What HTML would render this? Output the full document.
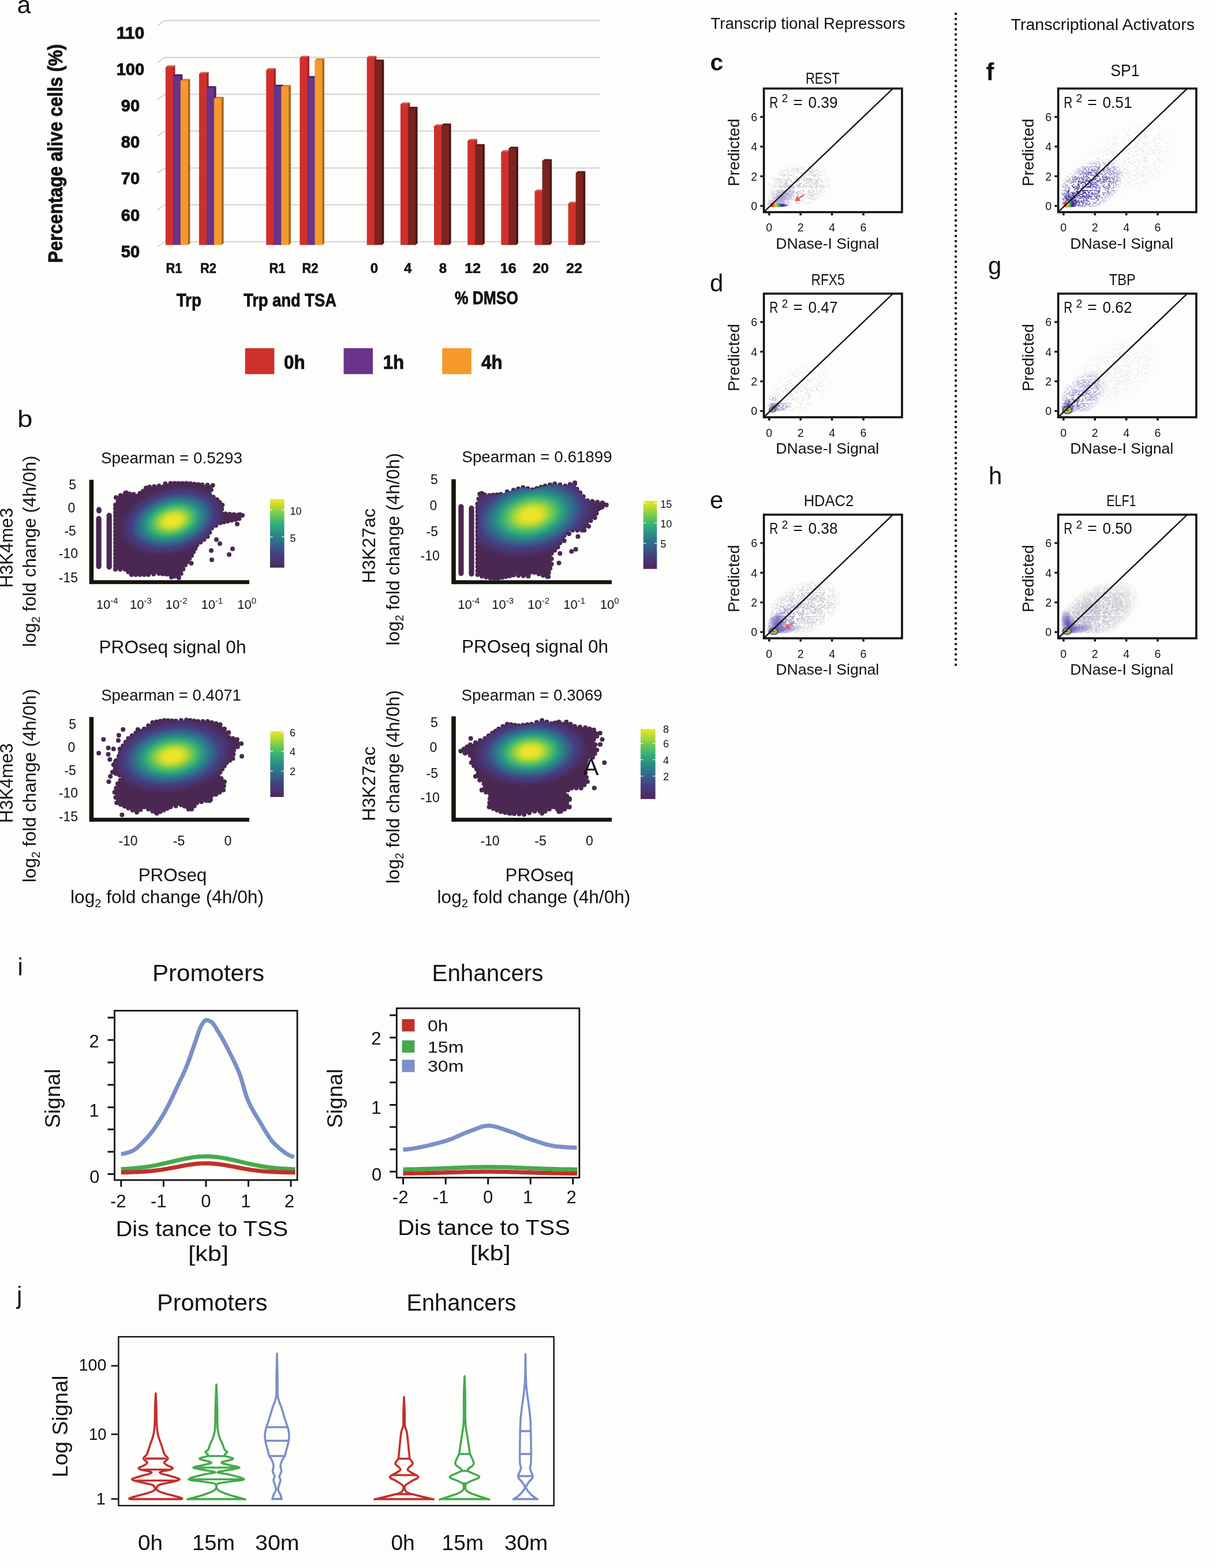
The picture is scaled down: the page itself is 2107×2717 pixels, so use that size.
<!DOCTYPE html>
<html><head><meta charset="utf-8"><title>Figure</title><style>html,body{margin:0;padding:0;overflow:hidden;background:#fdfdfb;}svg{display:block;}</style></head><body><svg width="2107" height="2717" viewBox="0 0 2107 2717" font-family="'Liberation Sans', Arial, sans-serif" fill="#111"><rect width="2107" height="2717" fill="#fdfdfb"/><text x="29.5" y="22.7" font-size="43">a</text>
<path d="M272.7,44.6 L285.5,35.7 L1040.6,35.7" fill="none" stroke="#d6d6d6" stroke-width="2.2"/>
<path d="M272.7,108.5 L285.5,99.6 L1040.6,99.6" fill="none" stroke="#d6d6d6" stroke-width="2.2"/>
<path d="M272.7,172.3 L285.5,163.4 L1040.6,163.4" fill="none" stroke="#d6d6d6" stroke-width="2.2"/>
<path d="M272.7,236.2 L285.5,227.2 L1040.6,227.2" fill="none" stroke="#d6d6d6" stroke-width="2.2"/>
<path d="M272.7,300.0 L285.5,291.1 L1040.6,291.1" fill="none" stroke="#d6d6d6" stroke-width="2.2"/>
<path d="M272.7,363.8 L285.5,354.9 L1040.6,354.9" fill="none" stroke="#d6d6d6" stroke-width="2.2"/>
<path d="M272.7,427.7 L285.5,418.8 L1040.6,418.8" fill="none" stroke="#d6d6d6" stroke-width="2.2"/>
<text x="226.0" y="66.6" font-size="29.5" text-anchor="middle" font-weight="bold" textLength="48.7" lengthAdjust="spacingAndGlyphs" stroke="#111" stroke-width="0.9">110</text>
<text x="226.0" y="129.8" font-size="29.5" text-anchor="middle" font-weight="bold" textLength="48.7" lengthAdjust="spacingAndGlyphs" stroke="#111" stroke-width="0.9">100</text>
<text x="226.0" y="193.0" font-size="29.5" text-anchor="middle" font-weight="bold" textLength="32.4" lengthAdjust="spacingAndGlyphs" stroke="#111" stroke-width="0.9">90</text>
<text x="226.0" y="256.2" font-size="29.5" text-anchor="middle" font-weight="bold" textLength="32.4" lengthAdjust="spacingAndGlyphs" stroke="#111" stroke-width="0.9">80</text>
<text x="226.0" y="319.4" font-size="29.5" text-anchor="middle" font-weight="bold" textLength="32.4" lengthAdjust="spacingAndGlyphs" stroke="#111" stroke-width="0.9">70</text>
<text x="226.0" y="382.6" font-size="29.5" text-anchor="middle" font-weight="bold" textLength="32.4" lengthAdjust="spacingAndGlyphs" stroke="#111" stroke-width="0.9">60</text>
<text x="226.0" y="445.8" font-size="29.5" text-anchor="middle" font-weight="bold" textLength="32.4" lengthAdjust="spacingAndGlyphs" stroke="#111" stroke-width="0.9">50</text>
<text x="107.6" y="455.4" font-size="35" font-weight="bold" textLength="379.0" lengthAdjust="spacingAndGlyphs" stroke="#111" stroke-width="0.9" transform="rotate(-90 107.6 455.4)">Percentage alive cells (%)</text>
<path d="M298.6,116.1 L299.8,116.1 L303.4,113.3 L303.4,421.7 L299.8,424.5 L298.6,424.5 Z" fill="#a52620"/>
<path d="M286.8,116.7 L290.4,113.3 L303.4,113.3 L299.8,116.7 Z" fill="#cf5a50"/>
<rect x="286.8" y="116.1" width="13.0" height="308.4" fill="#d0302a"/>
<path d="M311.6,131.6 L312.8,131.6 L316.4,128.8 L316.4,421.7 L312.8,424.5 L311.6,424.5 Z" fill="#4b2164"/>
<path d="M299.8,132.2 L303.4,128.8 L316.4,128.8 L312.8,132.2 Z" fill="#4a1f68"/>
<rect x="299.8" y="131.6" width="13.0" height="292.9" fill="#6a3488"/>
<path d="M324.6,139.6 L325.8,139.6 L329.4,136.8 L329.4,421.7 L325.8,424.5 L324.6,424.5 Z" fill="#a9671f"/>
<path d="M312.8,140.2 L316.4,136.8 L329.4,136.8 L325.8,140.2 Z" fill="#d0801f"/>
<rect x="312.8" y="139.6" width="13.0" height="284.9" fill="#f49a2d"/>
<path d="M356.8,127.6 L357.9,127.6 L361.6,124.8 L361.6,421.7 L357.9,424.5 L356.8,424.5 Z" fill="#a52620"/>
<path d="M344.9,128.2 L348.6,124.8 L361.6,124.8 L357.9,128.2 Z" fill="#cf5a50"/>
<rect x="344.9" y="127.6" width="13.0" height="296.9" fill="#d0302a"/>
<path d="M369.8,152.0 L370.9,152.0 L374.6,149.2 L374.6,421.7 L370.9,424.5 L369.8,424.5 Z" fill="#4b2164"/>
<path d="M357.9,152.6 L361.6,149.2 L374.6,149.2 L370.9,152.6 Z" fill="#4a1f68"/>
<rect x="357.9" y="152.0" width="13.0" height="272.5" fill="#6a3488"/>
<path d="M382.8,170.6 L383.9,170.6 L387.6,167.8 L387.6,421.7 L383.9,424.5 L382.8,424.5 Z" fill="#a9671f"/>
<path d="M370.9,171.2 L374.6,167.8 L387.6,167.8 L383.9,171.2 Z" fill="#d0801f"/>
<rect x="370.9" y="170.6" width="13.0" height="253.9" fill="#f49a2d"/>
<path d="M473.1,120.9 L474.2,120.9 L477.9,118.1 L477.9,421.7 L474.2,424.5 L473.1,424.5 Z" fill="#a52620"/>
<path d="M461.2,121.5 L464.9,118.1 L477.9,118.1 L474.2,121.5 Z" fill="#cf5a50"/>
<rect x="461.2" y="120.9" width="13.0" height="303.6" fill="#d0302a"/>
<path d="M486.1,149.5 L487.2,149.5 L490.9,146.7 L490.9,421.7 L487.2,424.5 L486.1,424.5 Z" fill="#4b2164"/>
<path d="M474.2,150.1 L477.9,146.7 L490.9,146.7 L487.2,150.1 Z" fill="#4a1f68"/>
<rect x="474.2" y="149.5" width="13.0" height="275.0" fill="#6a3488"/>
<path d="M499.1,150.0 L500.2,150.0 L503.9,147.2 L503.9,421.7 L500.2,424.5 L499.1,424.5 Z" fill="#a9671f"/>
<path d="M487.2,150.6 L490.9,147.2 L503.9,147.2 L500.2,150.6 Z" fill="#d0801f"/>
<rect x="487.2" y="150.0" width="13.0" height="274.5" fill="#f49a2d"/>
<path d="M531.2,99.5 L532.4,99.5 L536.0,96.7 L536.0,421.7 L532.4,424.5 L531.2,424.5 Z" fill="#a52620"/>
<path d="M519.4,100.1 L523.0,96.7 L536.0,96.7 L532.4,100.1 Z" fill="#cf5a50"/>
<rect x="519.4" y="99.5" width="13.0" height="325.0" fill="#d0302a"/>
<path d="M544.2,134.5 L545.4,134.5 L549.0,131.7 L549.0,421.7 L545.4,424.5 L544.2,424.5 Z" fill="#4b2164"/>
<path d="M532.4,135.1 L536.0,131.7 L549.0,131.7 L545.4,135.1 Z" fill="#4a1f68"/>
<rect x="532.4" y="134.5" width="13.0" height="290.0" fill="#6a3488"/>
<path d="M557.2,104.0 L558.4,104.0 L562.0,101.2 L562.0,421.7 L558.4,424.5 L557.2,424.5 Z" fill="#a9671f"/>
<path d="M545.4,104.6 L549.0,101.2 L562.0,101.2 L558.4,104.6 Z" fill="#d0801f"/>
<rect x="545.4" y="104.0" width="13.0" height="320.5" fill="#f49a2d"/>
<path d="M647.5,99.5 L648.7,99.5 L652.3,96.7 L652.3,421.7 L648.7,424.5 L647.5,424.5 Z" fill="#a52620"/>
<path d="M635.7,100.1 L639.3,96.7 L652.3,96.7 L648.7,100.1 Z" fill="#cf5a50"/>
<rect x="635.7" y="99.5" width="13.0" height="325.0" fill="#d0302a"/>
<path d="M660.5,106.0 L661.7,106.0 L665.3,103.2 L665.3,421.7 L661.7,424.5 L660.5,424.5 Z" fill="#4b1513"/>
<path d="M648.7,106.6 L652.3,103.2 L665.3,103.2 L661.7,106.6 Z" fill="#57181a"/>
<rect x="648.7" y="106.0" width="13.0" height="318.5" fill="#7a2420"/>
<path d="M705.6,180.2 L706.9,180.2 L710.5,177.4 L710.5,421.7 L706.9,424.5 L705.6,424.5 Z" fill="#a52620"/>
<path d="M693.9,180.8 L697.5,177.4 L710.5,177.4 L706.9,180.8 Z" fill="#cf5a50"/>
<rect x="693.9" y="180.2" width="13.0" height="244.3" fill="#d0302a"/>
<path d="M718.6,187.7 L719.9,187.7 L723.5,184.9 L723.5,421.7 L719.9,424.5 L718.6,424.5 Z" fill="#4b1513"/>
<path d="M706.9,188.3 L710.5,184.9 L723.5,184.9 L719.9,188.3 Z" fill="#57181a"/>
<rect x="706.9" y="187.7" width="13.0" height="236.8" fill="#7a2420"/>
<path d="M763.8,218.2 L765.0,218.2 L768.6,215.4 L768.6,421.7 L765.0,424.5 L763.8,424.5 Z" fill="#a52620"/>
<path d="M752.0,218.8 L755.6,215.4 L768.6,215.4 L765.0,218.8 Z" fill="#cf5a50"/>
<rect x="752.0" y="218.2" width="13.0" height="206.3" fill="#d0302a"/>
<path d="M776.8,216.9 L778.0,216.9 L781.6,214.1 L781.6,421.7 L778.0,424.5 L776.8,424.5 Z" fill="#4b1513"/>
<path d="M765.0,217.5 L768.6,214.1 L781.6,214.1 L778.0,217.5 Z" fill="#57181a"/>
<rect x="765.0" y="216.9" width="13.0" height="207.6" fill="#7a2420"/>
<path d="M822.0,243.5 L823.2,243.5 L826.8,240.7 L826.8,421.7 L823.2,424.5 L822.0,424.5 Z" fill="#a52620"/>
<path d="M810.2,244.1 L813.8,240.7 L826.8,240.7 L823.2,244.1 Z" fill="#cf5a50"/>
<rect x="810.2" y="243.5" width="13.0" height="181.0" fill="#d0302a"/>
<path d="M835.0,252.6 L836.2,252.6 L839.8,249.8 L839.8,421.7 L836.2,424.5 L835.0,424.5 Z" fill="#4b1513"/>
<path d="M823.2,253.2 L826.8,249.8 L839.8,249.8 L836.2,253.2 Z" fill="#57181a"/>
<rect x="823.2" y="252.6" width="13.0" height="171.9" fill="#7a2420"/>
<path d="M880.1,263.0 L881.3,263.0 L884.9,260.2 L884.9,421.7 L881.3,424.5 L880.1,424.5 Z" fill="#a52620"/>
<path d="M868.3,263.6 L871.9,260.2 L884.9,260.2 L881.3,263.6 Z" fill="#cf5a50"/>
<rect x="868.3" y="263.0" width="13.0" height="161.5" fill="#d0302a"/>
<path d="M893.1,257.0 L894.3,257.0 L897.9,254.2 L897.9,421.7 L894.3,424.5 L893.1,424.5 Z" fill="#4b1513"/>
<path d="M881.3,257.6 L884.9,254.2 L897.9,254.2 L894.3,257.6 Z" fill="#57181a"/>
<rect x="881.3" y="257.0" width="13.0" height="167.5" fill="#7a2420"/>
<path d="M938.2,331.2 L939.5,331.2 L943.1,328.4 L943.1,421.7 L939.5,424.5 L938.2,424.5 Z" fill="#a52620"/>
<path d="M926.5,331.8 L930.1,328.4 L943.1,328.4 L939.5,331.8 Z" fill="#cf5a50"/>
<rect x="926.5" y="331.2" width="13.0" height="93.3" fill="#d0302a"/>
<path d="M951.2,278.6 L952.5,278.6 L956.1,275.8 L956.1,421.7 L952.5,424.5 L951.2,424.5 Z" fill="#4b1513"/>
<path d="M939.5,279.2 L943.1,275.8 L956.1,275.8 L952.5,279.2 Z" fill="#57181a"/>
<rect x="939.5" y="278.6" width="13.0" height="145.9" fill="#7a2420"/>
<path d="M996.4,352.3 L997.6,352.3 L1001.2,349.5 L1001.2,421.7 L997.6,424.5 L996.4,424.5 Z" fill="#a52620"/>
<path d="M984.6,352.9 L988.2,349.5 L1001.2,349.5 L997.6,352.9 Z" fill="#cf5a50"/>
<rect x="984.6" y="352.3" width="13.0" height="72.2" fill="#d0302a"/>
<path d="M1009.4,299.4 L1010.6,299.4 L1014.2,296.6 L1014.2,421.7 L1010.6,424.5 L1009.4,424.5 Z" fill="#4b1513"/>
<path d="M997.6,300.0 L1001.2,296.6 L1014.2,296.6 L1010.6,300.0 Z" fill="#57181a"/>
<rect x="997.6" y="299.4" width="13.0" height="125.1" fill="#7a2420"/>
<text x="301.5" y="473.4" font-size="24" text-anchor="middle" font-weight="bold" textLength="28.0" lengthAdjust="spacingAndGlyphs" stroke="#111" stroke-width="0.6">R1</text>
<text x="361.0" y="473.4" font-size="24" text-anchor="middle" font-weight="bold" textLength="28.0" lengthAdjust="spacingAndGlyphs" stroke="#111" stroke-width="0.6">R2</text>
<text x="480.5" y="473.4" font-size="24" text-anchor="middle" font-weight="bold" textLength="28.0" lengthAdjust="spacingAndGlyphs" stroke="#111" stroke-width="0.6">R1</text>
<text x="537.5" y="473.4" font-size="24" text-anchor="middle" font-weight="bold" textLength="28.0" lengthAdjust="spacingAndGlyphs" stroke="#111" stroke-width="0.6">R2</text>
<text x="648.5" y="473.4" font-size="24" text-anchor="middle" font-weight="bold" stroke="#111" stroke-width="0.6">0</text>
<text x="706.7" y="473.4" font-size="24" text-anchor="middle" font-weight="bold" stroke="#111" stroke-width="0.6">4</text>
<text x="767.5" y="473.4" font-size="24" text-anchor="middle" font-weight="bold" stroke="#111" stroke-width="0.6">8</text>
<text x="819.0" y="473.4" font-size="24" text-anchor="middle" font-weight="bold" textLength="28.0" lengthAdjust="spacingAndGlyphs" stroke="#111" stroke-width="0.6">12</text>
<text x="880.8" y="473.4" font-size="24" text-anchor="middle" font-weight="bold" textLength="28.0" lengthAdjust="spacingAndGlyphs" stroke="#111" stroke-width="0.6">16</text>
<text x="937.0" y="473.4" font-size="24" text-anchor="middle" font-weight="bold" textLength="28.0" lengthAdjust="spacingAndGlyphs" stroke="#111" stroke-width="0.6">20</text>
<text x="995.0" y="473.4" font-size="24" text-anchor="middle" font-weight="bold" textLength="28.0" lengthAdjust="spacingAndGlyphs" stroke="#111" stroke-width="0.6">22</text>
<text x="327.3" y="530.6" font-size="31" text-anchor="middle" font-weight="bold" textLength="43.3" lengthAdjust="spacingAndGlyphs" stroke="#111" stroke-width="0.8">Trp</text>
<text x="502.5" y="530.6" font-size="31" text-anchor="middle" font-weight="bold" textLength="161.0" lengthAdjust="spacingAndGlyphs" stroke="#111" stroke-width="0.8">Trp and TSA</text>
<text x="843.0" y="526.5" font-size="31" text-anchor="middle" font-weight="bold" textLength="110.0" lengthAdjust="spacingAndGlyphs" stroke="#111" stroke-width="0.8">% DMSO</text>
<rect x="424.7" y="603.3" width="50.6" height="45.0" fill="#d0302a"/>
<text x="492.0" y="638.7" font-size="33" font-weight="bold" textLength="36.5" lengthAdjust="spacingAndGlyphs" stroke="#111" stroke-width="0.9">0h</text>
<rect x="595.5" y="603.3" width="50.6" height="45.0" fill="#6a3488"/>
<text x="663.7" y="638.7" font-size="33" font-weight="bold" textLength="36.5" lengthAdjust="spacingAndGlyphs" stroke="#111" stroke-width="0.9">1h</text>
<rect x="766.2" y="603.3" width="50.6" height="45.0" fill="#f49a2d"/>
<text x="834.0" y="638.7" font-size="33" font-weight="bold" textLength="36.5" lengthAdjust="spacingAndGlyphs" stroke="#111" stroke-width="0.9">4h</text>
<text x="30.0" y="740.0" font-size="41" textLength="26.5" lengthAdjust="spacingAndGlyphs">b</text>
<text x="297.5" y="802.6" font-size="27.8" text-anchor="middle" textLength="245.0" lengthAdjust="spacingAndGlyphs">Spearman = 0.5293</text>
<text x="61.5" y="1121.0" font-size="31.5" transform="rotate(-90 61.5 1121.0)" textLength="331.4" lengthAdjust="spacingAndGlyphs">log<tspan font-size="20" dy="7">2</tspan><tspan dy="-7"> fold change (4h/0h)</tspan></text>
<text x="22.3" y="1018.5" font-size="31.5" textLength="138.5" lengthAdjust="spacingAndGlyphs" transform="rotate(-90 22.3 1018.5)">H3K4me3</text>
<text x="119.2" y="848.4" font-size="23">5</text>
<text x="117.4" y="888.4" font-size="23">0</text>
<text x="111.4" y="928.2" font-size="23">-5</text>
<text x="101.8" y="967.4" font-size="23">-10</text>
<text x="101.8" y="1008.5" font-size="23">-15</text>
<text x="166.8" y="1054.8" font-size="22">10<tspan font-size="15.0" dy="-9">-4</tspan></text>
<text x="225.1" y="1054.8" font-size="22">10<tspan font-size="15.0" dy="-9">-3</tspan></text>
<text x="286.8" y="1054.8" font-size="22">10<tspan font-size="15.0" dy="-9">-2</tspan></text>
<text x="348.4" y="1054.8" font-size="22">10<tspan font-size="15.0" dy="-9">-1</tspan></text>
<text x="411.2" y="1054.8" font-size="22">10<tspan font-size="15.0" dy="-9">0</tspan></text>
<text x="171.5" y="1132.2" font-size="31.5" textLength="255.0" lengthAdjust="spacingAndGlyphs">PROseq signal 0h</text>
<rect x="154.6" y="831.4" width="7.6" height="180.7" fill="#151510"/>
<rect x="158.2" y="1005.3" width="273.7" height="6.8" fill="#151510"/>
<defs><radialGradient id="vg1" gradientUnits="userSpaceOnUse" cx="0" cy="0" r="1" gradientTransform="translate(299.0 902.0) rotate(-15) scale(95 59)"><stop offset="0.00" stop-color="#f2e42a"/><stop offset="0.12" stop-color="#eae32b"/><stop offset="0.20" stop-color="#c7dd2f"/><stop offset="0.27" stop-color="#96d242"/><stop offset="0.33" stop-color="#69c659"/><stop offset="0.42" stop-color="#3aaf75"/><stop offset="0.50" stop-color="#2a9483"/><stop offset="0.59" stop-color="#2d7689"/><stop offset="0.68" stop-color="#3a5a8a"/><stop offset="0.77" stop-color="#433f80"/><stop offset="0.85" stop-color="#493673"/><stop offset="0.93" stop-color="#4a2e61"/><stop offset="1.00" stop-color="#4a2852"/></radialGradient></defs>
<rect x="166.5" y="894.1" width="9.2" height="92.1" rx="4.6" fill="#4a2852"/>
<rect x="184.6" y="888.4" width="9.2" height="98.7" rx="4.6" fill="#4a2852"/>
<g fill="#4a2852"><circle cx="200.0" cy="874.9" r="4.0"/><circle cx="201.0" cy="862.0" r="4.0"/><circle cx="208.9" cy="858.4" r="4.0"/><circle cx="216.8" cy="854.8" r="4.0"/><circle cx="224.2" cy="855.7" r="4.0"/><circle cx="231.5" cy="856.6" r="4.0"/><circle cx="242.5" cy="854.8" r="4.0"/><circle cx="248.0" cy="851.1" r="4.0"/><circle cx="253.5" cy="847.5" r="4.0"/><circle cx="259.0" cy="843.8" r="4.0"/><circle cx="267.2" cy="842.9" r="4.0"/><circle cx="275.4" cy="842.0" r="4.0"/><circle cx="286.4" cy="838.3" r="4.0"/><circle cx="295.5" cy="837.4" r="4.0"/><circle cx="302.4" cy="837.4" r="4.0"/><circle cx="309.2" cy="837.4" r="4.0"/><circle cx="316.1" cy="837.4" r="4.0"/><circle cx="323.0" cy="837.4" r="4.0"/><circle cx="329.9" cy="838.0" r="4.0"/><circle cx="336.7" cy="838.7" r="4.0"/><circle cx="343.5" cy="839.4" r="4.0"/><circle cx="350.4" cy="840.0" r="4.0"/><circle cx="359.5" cy="840.5" r="4.0"/><circle cx="368.7" cy="841.0" r="4.0"/><circle cx="365.9" cy="848.8" r="4.0"/><circle cx="363.2" cy="856.6" r="4.0"/><circle cx="369.6" cy="861.2" r="4.0"/><circle cx="376.0" cy="865.7" r="4.0"/><circle cx="380.6" cy="870.4" r="4.0"/><circle cx="385.2" cy="875.0" r="4.0"/><circle cx="384.3" cy="882.2" r="4.0"/><circle cx="383.4" cy="889.5" r="4.0"/><circle cx="390.7" cy="890.2" r="4.0"/><circle cx="398.0" cy="890.9" r="4.0"/><circle cx="405.4" cy="891.6" r="4.0"/><circle cx="412.7" cy="892.3" r="4.0"/><circle cx="420.0" cy="893.0" r="4.0"/><circle cx="414.5" cy="898.7" r="4.0"/><circle cx="407.9" cy="900.2" r="4.0"/><circle cx="401.3" cy="901.6" r="4.0"/><circle cx="394.7" cy="903.1" r="4.0"/><circle cx="388.1" cy="904.5" r="4.0"/><circle cx="381.5" cy="906.0" r="4.0"/><circle cx="374.2" cy="910.5" r="4.0"/><circle cx="367.0" cy="915.0" r="4.0"/><circle cx="363.3" cy="922.4" r="4.0"/><circle cx="359.6" cy="929.8" r="4.0"/><circle cx="353.5" cy="934.7" r="4.0"/><circle cx="347.4" cy="939.5" r="4.0"/><circle cx="341.3" cy="944.4" r="4.0"/><circle cx="338.2" cy="950.5" r="4.0"/><circle cx="335.1" cy="956.6" r="4.0"/><circle cx="332.0" cy="962.7" r="4.0"/><circle cx="328.3" cy="968.1" r="4.0"/><circle cx="324.7" cy="973.6" r="4.0"/><circle cx="321.0" cy="979.0" r="4.0"/><circle cx="317.3" cy="986.3" r="4.0"/><circle cx="313.7" cy="993.7" r="4.0"/><circle cx="310.0" cy="1001.0" r="4.0"/><circle cx="302.8" cy="998.4" r="4.0"/><circle cx="295.5" cy="995.7" r="4.0"/><circle cx="288.8" cy="995.1" r="4.0"/><circle cx="282.1" cy="994.4" r="4.0"/><circle cx="275.4" cy="993.8" r="4.0"/><circle cx="266.2" cy="994.8" r="4.0"/><circle cx="257.1" cy="995.7" r="4.0"/><circle cx="249.8" cy="995.7" r="4.0"/><circle cx="242.5" cy="995.7" r="4.0"/><circle cx="235.1" cy="995.7" r="4.0"/><circle cx="227.8" cy="995.7" r="4.0"/><circle cx="222.3" cy="991.1" r="4.0"/><circle cx="216.8" cy="986.5" r="4.0"/><circle cx="208.4" cy="986.5" r="4.0"/><circle cx="200.0" cy="986.5" r="4.0"/><circle cx="200.0" cy="979.9" r="4.0"/><circle cx="200.0" cy="973.4" r="4.0"/><circle cx="200.0" cy="966.8" r="4.0"/><circle cx="200.0" cy="960.2" r="4.0"/><circle cx="200.0" cy="953.7" r="4.0"/><circle cx="200.0" cy="947.1" r="4.0"/><circle cx="200.0" cy="940.5" r="4.0"/><circle cx="200.0" cy="934.0" r="4.0"/><circle cx="200.0" cy="927.4" r="4.0"/><circle cx="200.0" cy="920.9" r="4.0"/><circle cx="200.0" cy="914.3" r="4.0"/><circle cx="200.0" cy="907.7" r="4.0"/><circle cx="200.0" cy="901.2" r="4.0"/><circle cx="200.0" cy="894.6" r="4.0"/><circle cx="200.0" cy="888.0" r="4.0"/><circle cx="200.0" cy="881.5" r="4.0"/><circle cx="218.6" cy="853.8" r="4.0"/><circle cx="253.0" cy="845.5" r="4.0"/><circle cx="415.9" cy="891.6" r="4.0"/><circle cx="411.0" cy="908.0" r="4.0"/><circle cx="396.0" cy="900.0" r="4.0"/><circle cx="375.0" cy="935.0" r="4.0"/><circle cx="381.0" cy="942.0" r="4.0"/><circle cx="403.0" cy="951.0" r="4.0"/><circle cx="397.0" cy="961.0" r="4.0"/><circle cx="366.0" cy="954.0" r="4.0"/><circle cx="367.0" cy="970.0" r="4.0"/><circle cx="331.5" cy="976.0" r="4.0"/><circle cx="297.0" cy="1000.0" r="4.0"/><circle cx="366.7" cy="890.0" r="4.0"/><circle cx="408.0" cy="895.0" r="4.0"/></g>
<path d="M200.0,874.9 L201.0,862.0 L216.8,854.8 L231.5,856.6 L242.5,854.8 L259.0,843.8 L275.4,842.0 L286.4,838.3 L295.5,837.4 L323.0,837.4 L350.4,840.0 L368.7,841.0 L363.2,856.6 L376.0,865.7 L385.2,875.0 L383.4,889.5 L420.0,893.0 L414.5,898.7 L381.5,906.0 L367.0,915.0 L359.6,929.8 L341.3,944.4 L332.0,962.7 L321.0,979.0 L310.0,1001.0 L295.5,995.7 L275.4,993.8 L257.1,995.7 L227.8,995.7 L216.8,986.5 L200.0,986.5 Z" fill="url(#vg1)"/>
<rect x="167.0" y="878.6" width="9.0" height="10.9" fill="#4a2852" rx="4.5"/>
<defs><linearGradient id="cb2" x1="0" y1="0" x2="0" y2="1"><stop offset="0.00" stop-color="#f2e42a"/><stop offset="0.10" stop-color="#bcdb30"/><stop offset="0.20" stop-color="#7dcc4e"/><stop offset="0.30" stop-color="#4bbc69"/><stop offset="0.40" stop-color="#2ea67d"/><stop offset="0.50" stop-color="#288d86"/><stop offset="0.60" stop-color="#2e7489"/><stop offset="0.70" stop-color="#3a5a8a"/><stop offset="0.80" stop-color="#433f80"/><stop offset="0.90" stop-color="#4b3470"/><stop offset="1.00" stop-color="#4a2852"/></linearGradient></defs>
<rect x="467.9" y="864.8" width="24.7" height="118.8" fill="url(#cb2)"/>
<line x1="467.9" y1="883.6" x2="472.4" y2="883.6" stroke="#ffffff" stroke-width="1.2"/>
<line x1="488.1" y1="883.6" x2="492.6" y2="883.6" stroke="#ffffff" stroke-width="1.2"/>
<text x="502.6" y="891.9" font-size="18">10</text>
<line x1="467.9" y1="930.3" x2="472.4" y2="930.3" stroke="#ffffff" stroke-width="1.2"/>
<line x1="488.1" y1="930.3" x2="492.6" y2="930.3" stroke="#ffffff" stroke-width="1.2"/>
<text x="502.6" y="938.6" font-size="18">5</text>
<text x="930.5" y="801.3" font-size="27.8" text-anchor="middle" textLength="260.3" lengthAdjust="spacingAndGlyphs">Spearman = 0.61899</text>
<text x="692.0" y="1118.6" font-size="31.5" transform="rotate(-90 692.0 1118.6)" textLength="333.6" lengthAdjust="spacingAndGlyphs">log<tspan font-size="20" dy="7">2</tspan><tspan dy="-7"> fold change (4h/0h)</tspan></text>
<text x="649.6" y="1010.6" font-size="31.5" textLength="129.6" lengthAdjust="spacingAndGlyphs" transform="rotate(-90 649.6 1010.6)">H3K27ac</text>
<text x="746.0" y="839.0" font-size="23">5</text>
<text x="744.5" y="883.7" font-size="23">0</text>
<text x="738.5" y="928.7" font-size="23">-5</text>
<text x="728.5" y="970.7" font-size="23">-10</text>
<text x="793.3" y="1054.8" font-size="22">10<tspan font-size="15.0" dy="-9">-4</tspan></text>
<text x="852.3" y="1054.8" font-size="22">10<tspan font-size="15.0" dy="-9">-3</tspan></text>
<text x="914.3" y="1054.8" font-size="22">10<tspan font-size="15.0" dy="-9">-2</tspan></text>
<text x="976.3" y="1054.8" font-size="22">10<tspan font-size="15.0" dy="-9">-1</tspan></text>
<text x="1039.8" y="1054.8" font-size="22">10<tspan font-size="15.0" dy="-9">0</tspan></text>
<text x="800.0" y="1130.6" font-size="31.5" textLength="254.0" lengthAdjust="spacingAndGlyphs">PROseq signal 0h</text>
<rect x="782.2" y="830.4" width="7.6" height="181.8" fill="#151510"/>
<rect x="785.8" y="1005.4" width="274.2" height="6.8" fill="#151510"/>
<defs><radialGradient id="vg3" gradientUnits="userSpaceOnUse" cx="0" cy="0" r="1" gradientTransform="translate(920.0 892.5) rotate(-12) scale(118 72)"><stop offset="0.00" stop-color="#f2e42a"/><stop offset="0.12" stop-color="#eae32b"/><stop offset="0.20" stop-color="#c7dd2f"/><stop offset="0.27" stop-color="#96d242"/><stop offset="0.33" stop-color="#69c659"/><stop offset="0.42" stop-color="#3aaf75"/><stop offset="0.50" stop-color="#2a9483"/><stop offset="0.59" stop-color="#2d7689"/><stop offset="0.68" stop-color="#3a5a8a"/><stop offset="0.77" stop-color="#433f80"/><stop offset="0.85" stop-color="#493673"/><stop offset="0.93" stop-color="#4a2e61"/><stop offset="1.00" stop-color="#4a2852"/></radialGradient></defs>
<rect x="794.3" y="873.4" width="9.2" height="124.7" rx="4.6" fill="#4a2852"/>
<rect x="812.4" y="876.1" width="9.2" height="122.9" rx="4.6" fill="#4a2852"/>
<g fill="#4a2852"><circle cx="827.5" cy="873.0" r="4.0"/><circle cx="829.4" cy="864.5" r="4.0"/><circle cx="831.2" cy="856.0" r="4.0"/><circle cx="839.5" cy="857.2" r="4.0"/><circle cx="847.7" cy="858.4" r="4.0"/><circle cx="854.4" cy="857.8" r="4.0"/><circle cx="861.1" cy="857.2" r="4.0"/><circle cx="867.8" cy="856.6" r="4.0"/><circle cx="878.8" cy="852.0" r="4.0"/><circle cx="889.8" cy="849.3" r="4.0"/><circle cx="898.0" cy="847.0" r="4.0"/><circle cx="906.3" cy="844.7" r="4.0"/><circle cx="914.5" cy="846.5" r="4.0"/><circle cx="922.7" cy="848.4" r="4.0"/><circle cx="930.0" cy="846.3" r="4.0"/><circle cx="937.4" cy="844.1" r="4.0"/><circle cx="944.7" cy="842.0" r="4.0"/><circle cx="953.0" cy="840.1" r="4.0"/><circle cx="961.2" cy="838.3" r="4.0"/><circle cx="970.4" cy="840.1" r="4.0"/><circle cx="979.5" cy="842.0" r="4.0"/><circle cx="987.8" cy="839.2" r="4.0"/><circle cx="996.0" cy="836.5" r="4.0"/><circle cx="999.6" cy="847.4" r="4.0"/><circle cx="1005.1" cy="853.8" r="4.0"/><circle cx="1010.6" cy="860.3" r="4.0"/><circle cx="1017.9" cy="867.6" r="4.0"/><circle cx="1026.4" cy="868.8" r="4.0"/><circle cx="1035.0" cy="870.0" r="4.0"/><circle cx="1043.5" cy="871.2" r="4.0"/><circle cx="1050.8" cy="875.0" r="4.0"/><circle cx="1043.5" cy="878.6" r="4.0"/><circle cx="1036.2" cy="882.2" r="4.0"/><circle cx="1033.5" cy="889.5" r="4.0"/><circle cx="1030.7" cy="896.9" r="4.0"/><circle cx="1023.4" cy="901.5" r="4.0"/><circle cx="1016.0" cy="906.0" r="4.0"/><circle cx="1012.4" cy="912.4" r="4.0"/><circle cx="1008.7" cy="918.8" r="4.0"/><circle cx="1000.5" cy="918.8" r="4.0"/><circle cx="992.3" cy="918.8" r="4.0"/><circle cx="981.3" cy="922.5" r="4.0"/><circle cx="977.6" cy="928.0" r="4.0"/><circle cx="974.0" cy="933.4" r="4.0"/><circle cx="970.3" cy="940.7" r="4.0"/><circle cx="966.6" cy="948.0" r="4.0"/><circle cx="961.2" cy="953.5" r="4.0"/><circle cx="955.7" cy="959.0" r="4.0"/><circle cx="955.7" cy="968.2" r="4.0"/><circle cx="955.7" cy="977.4" r="4.0"/><circle cx="953.2" cy="984.7" r="4.0"/><circle cx="950.8" cy="992.0" r="4.0"/><circle cx="948.3" cy="999.3" r="4.0"/><circle cx="941.0" cy="996.9" r="4.0"/><circle cx="933.7" cy="994.4" r="4.0"/><circle cx="926.4" cy="992.0" r="4.0"/><circle cx="915.4" cy="998.4" r="4.0"/><circle cx="906.9" cy="997.8" r="4.0"/><circle cx="898.3" cy="997.2" r="4.0"/><circle cx="889.8" cy="996.6" r="4.0"/><circle cx="883.2" cy="997.9" r="4.0"/><circle cx="876.6" cy="999.2" r="4.0"/><circle cx="870.1" cy="1000.4" r="4.0"/><circle cx="863.5" cy="1001.7" r="4.0"/><circle cx="856.9" cy="1003.0" r="4.0"/><circle cx="849.6" cy="1001.5" r="4.0"/><circle cx="842.2" cy="999.9" r="4.0"/><circle cx="834.9" cy="998.4" r="4.0"/><circle cx="827.5" cy="995.7" r="4.0"/><circle cx="827.5" cy="988.9" r="4.0"/><circle cx="827.5" cy="982.1" r="4.0"/><circle cx="827.5" cy="975.2" r="4.0"/><circle cx="827.5" cy="968.4" r="4.0"/><circle cx="827.5" cy="961.6" r="4.0"/><circle cx="827.5" cy="954.8" r="4.0"/><circle cx="827.5" cy="948.0" r="4.0"/><circle cx="827.5" cy="941.2" r="4.0"/><circle cx="827.5" cy="934.4" r="4.0"/><circle cx="827.5" cy="927.5" r="4.0"/><circle cx="827.5" cy="920.7" r="4.0"/><circle cx="827.5" cy="913.9" r="4.0"/><circle cx="827.5" cy="907.1" r="4.0"/><circle cx="827.5" cy="900.3" r="4.0"/><circle cx="827.5" cy="893.5" r="4.0"/><circle cx="827.5" cy="886.6" r="4.0"/><circle cx="827.5" cy="879.8" r="4.0"/><circle cx="968.5" cy="975.5" r="4.0"/><circle cx="1001.4" cy="929.8" r="4.0"/><circle cx="977.6" cy="937.0" r="4.0"/><circle cx="990.4" cy="955.4" r="4.0"/><circle cx="997.7" cy="951.7" r="4.0"/><circle cx="970.3" cy="959.0" r="4.0"/><circle cx="1012.4" cy="918.8" r="4.0"/><circle cx="1023.4" cy="902.3" r="4.0"/><circle cx="1028.9" cy="891.4" r="4.0"/><circle cx="1045.3" cy="873.0" r="4.0"/><circle cx="834.9" cy="854.8" r="4.0"/><circle cx="996.0" cy="838.3" r="4.0"/><circle cx="950.2" cy="999.3" r="4.0"/><circle cx="1040.0" cy="880.0" r="4.0"/><circle cx="1020.0" cy="912.0" r="4.0"/><circle cx="986.0" cy="925.0" r="4.0"/></g>
<path d="M827.5,873.0 L831.2,856.0 L847.7,858.4 L867.8,856.6 L878.8,852.0 L889.8,849.3 L906.3,844.7 L922.7,848.4 L944.7,842.0 L961.2,838.3 L979.5,842.0 L996.0,836.5 L999.6,847.4 L1010.6,860.3 L1017.9,867.6 L1043.5,871.2 L1050.8,875.0 L1036.2,882.2 L1030.7,896.9 L1016.0,906.0 L1008.7,918.8 L992.3,918.8 L981.3,922.5 L974.0,933.4 L966.6,948.0 L955.7,959.0 L955.7,977.4 L948.3,999.3 L926.4,992.0 L915.4,998.4 L889.8,996.6 L856.9,1003.0 L834.9,998.4 L827.5,995.7 Z" fill="url(#vg3)"/>
<defs><linearGradient id="cb4" x1="0" y1="0" x2="0" y2="1"><stop offset="0.00" stop-color="#f2e42a"/><stop offset="0.10" stop-color="#bcdb30"/><stop offset="0.20" stop-color="#7dcc4e"/><stop offset="0.30" stop-color="#4bbc69"/><stop offset="0.40" stop-color="#2ea67d"/><stop offset="0.50" stop-color="#288d86"/><stop offset="0.60" stop-color="#2e7489"/><stop offset="0.70" stop-color="#3a5a8a"/><stop offset="0.80" stop-color="#433f80"/><stop offset="0.90" stop-color="#4b3470"/><stop offset="1.00" stop-color="#4a2852"/></linearGradient></defs>
<rect x="1114.7" y="867.7" width="23.6" height="118.1" fill="url(#cb4)"/>
<line x1="1114.7" y1="872.0" x2="1119.2" y2="872.0" stroke="#ffffff" stroke-width="1.2"/>
<line x1="1133.8" y1="872.0" x2="1138.3" y2="872.0" stroke="#ffffff" stroke-width="1.2"/>
<text x="1148.3" y="880.3" font-size="18"></text>
<line x1="1114.7" y1="906.0" x2="1119.2" y2="906.0" stroke="#ffffff" stroke-width="1.2"/>
<line x1="1133.8" y1="906.0" x2="1138.3" y2="906.0" stroke="#ffffff" stroke-width="1.2"/>
<text x="1148.3" y="914.3" font-size="18"></text>
<line x1="1114.7" y1="941.5" x2="1119.2" y2="941.5" stroke="#ffffff" stroke-width="1.2"/>
<line x1="1133.8" y1="941.5" x2="1138.3" y2="941.5" stroke="#ffffff" stroke-width="1.2"/>
<text x="1148.3" y="949.8" font-size="18"></text>
<text x="1144.2" y="879.5" font-size="18">15</text>
<text x="1144.2" y="913.5" font-size="18">10</text>
<text x="1144.2" y="949.0" font-size="18">5</text>
<text x="296.5" y="1213.8" font-size="27.8" text-anchor="middle" textLength="242.7" lengthAdjust="spacingAndGlyphs">Spearman = 0.4071</text>
<text x="61.5" y="1529.0" font-size="31.5" transform="rotate(-90 61.5 1529.0)" textLength="335.0" lengthAdjust="spacingAndGlyphs">log<tspan font-size="20" dy="7">2</tspan><tspan dy="-7"> fold change (4h/0h)</tspan></text>
<text x="22.3" y="1426.0" font-size="31.5" textLength="138.0" lengthAdjust="spacingAndGlyphs" transform="rotate(-90 22.3 1426.0)">H3K4me3</text>
<text x="119.2" y="1262.7" font-size="23">5</text>
<text x="117.4" y="1303.2" font-size="23">0</text>
<text x="111.4" y="1343.2" font-size="23">-5</text>
<text x="101.8" y="1382.2" font-size="23">-10</text>
<text x="101.8" y="1422.8" font-size="23">-15</text>
<text x="222.0" y="1465.0" font-size="23" text-anchor="middle">-10</text>
<text x="310.0" y="1465.0" font-size="23" text-anchor="middle">-5</text>
<text x="395.0" y="1465.0" font-size="23" text-anchor="middle">0</text>
<text x="299.0" y="1527.0" font-size="31.5" text-anchor="middle" textLength="118.7" lengthAdjust="spacingAndGlyphs">PROseq</text>
<text x="122" y="1564.5" font-size="31.5" textLength="335" lengthAdjust="spacingAndGlyphs">log<tspan font-size="20" dy="7">2</tspan><tspan dy="-7"> fold change (4h/0h)</tspan></text>
<rect x="154.6" y="1242.4" width="7.6" height="181.4" fill="#151510"/>
<rect x="158.2" y="1417.0" width="273.7" height="6.8" fill="#151510"/>
<defs><radialGradient id="vg5" gradientUnits="userSpaceOnUse" cx="0" cy="0" r="1" gradientTransform="translate(299.0 1310.0) rotate(-8) scale(108 64)"><stop offset="0.00" stop-color="#f2e42a"/><stop offset="0.12" stop-color="#eae32b"/><stop offset="0.20" stop-color="#c7dd2f"/><stop offset="0.27" stop-color="#96d242"/><stop offset="0.33" stop-color="#69c659"/><stop offset="0.42" stop-color="#3aaf75"/><stop offset="0.50" stop-color="#2a9483"/><stop offset="0.59" stop-color="#2d7689"/><stop offset="0.68" stop-color="#3a5a8a"/><stop offset="0.77" stop-color="#433f80"/><stop offset="0.85" stop-color="#493673"/><stop offset="0.93" stop-color="#4a2e61"/><stop offset="1.00" stop-color="#4a2852"/></radialGradient></defs>
<g fill="#4a2852"><circle cx="213.2" cy="1292.2" r="4.0"/><circle cx="217.8" cy="1285.8" r="4.0"/><circle cx="222.3" cy="1279.4" r="4.0"/><circle cx="228.8" cy="1274.8" r="4.0"/><circle cx="235.2" cy="1270.3" r="4.0"/><circle cx="242.5" cy="1266.7" r="4.0"/><circle cx="249.8" cy="1263.0" r="4.0"/><circle cx="257.1" cy="1257.5" r="4.0"/><circle cx="264.4" cy="1252.0" r="4.0"/><circle cx="271.1" cy="1250.8" r="4.0"/><circle cx="277.9" cy="1249.5" r="4.0"/><circle cx="284.6" cy="1248.3" r="4.0"/><circle cx="291.3" cy="1248.6" r="4.0"/><circle cx="298.0" cy="1248.9" r="4.0"/><circle cx="304.7" cy="1249.2" r="4.0"/><circle cx="313.9" cy="1248.3" r="4.0"/><circle cx="323.0" cy="1247.4" r="4.0"/><circle cx="329.7" cy="1248.3" r="4.0"/><circle cx="336.4" cy="1249.2" r="4.0"/><circle cx="343.1" cy="1250.1" r="4.0"/><circle cx="351.4" cy="1250.1" r="4.0"/><circle cx="359.6" cy="1250.1" r="4.0"/><circle cx="366.9" cy="1251.9" r="4.0"/><circle cx="374.2" cy="1253.8" r="4.0"/><circle cx="381.5" cy="1255.6" r="4.0"/><circle cx="388.9" cy="1262.9" r="4.0"/><circle cx="392.5" cy="1270.2" r="4.0"/><circle cx="396.2" cy="1277.6" r="4.0"/><circle cx="403.5" cy="1279.4" r="4.0"/><circle cx="410.8" cy="1281.2" r="4.0"/><circle cx="418.1" cy="1288.6" r="4.0"/><circle cx="411.7" cy="1294.0" r="4.0"/><circle cx="405.3" cy="1299.5" r="4.0"/><circle cx="404.4" cy="1306.8" r="4.0"/><circle cx="403.5" cy="1314.2" r="4.0"/><circle cx="398.0" cy="1317.8" r="4.0"/><circle cx="392.5" cy="1321.5" r="4.0"/><circle cx="388.9" cy="1327.0" r="4.0"/><circle cx="385.2" cy="1332.5" r="4.0"/><circle cx="381.5" cy="1338.0" r="4.0"/><circle cx="377.9" cy="1343.4" r="4.0"/><circle cx="383.4" cy="1348.9" r="4.0"/><circle cx="388.9" cy="1354.4" r="4.0"/><circle cx="387.9" cy="1361.7" r="4.0"/><circle cx="387.0" cy="1369.0" r="4.0"/><circle cx="380.6" cy="1372.7" r="4.0"/><circle cx="374.2" cy="1376.4" r="4.0"/><circle cx="365.0" cy="1385.5" r="4.0"/><circle cx="357.1" cy="1387.3" r="4.0"/><circle cx="349.2" cy="1389.2" r="4.0"/><circle cx="341.3" cy="1391.0" r="4.0"/><circle cx="336.7" cy="1396.5" r="4.0"/><circle cx="332.1" cy="1402.0" r="4.0"/><circle cx="326.0" cy="1399.6" r="4.0"/><circle cx="319.9" cy="1397.1" r="4.0"/><circle cx="313.8" cy="1394.7" r="4.0"/><circle cx="304.6" cy="1396.5" r="4.0"/><circle cx="295.5" cy="1398.3" r="4.0"/><circle cx="289.6" cy="1401.0" r="4.0"/><circle cx="283.6" cy="1403.8" r="4.0"/><circle cx="277.6" cy="1406.5" r="4.0"/><circle cx="271.7" cy="1409.3" r="4.0"/><circle cx="264.4" cy="1405.6" r="4.0"/><circle cx="257.1" cy="1402.0" r="4.0"/><circle cx="249.8" cy="1398.3" r="4.0"/><circle cx="243.4" cy="1402.9" r="4.0"/><circle cx="237.0" cy="1407.5" r="4.0"/><circle cx="229.7" cy="1403.8" r="4.0"/><circle cx="222.3" cy="1400.2" r="4.0"/><circle cx="215.6" cy="1397.1" r="4.0"/><circle cx="208.9" cy="1394.1" r="4.0"/><circle cx="202.2" cy="1391.0" r="4.0"/><circle cx="200.4" cy="1381.8" r="4.0"/><circle cx="198.6" cy="1372.7" r="4.0"/><circle cx="201.3" cy="1365.4" r="4.0"/><circle cx="204.0" cy="1358.1" r="4.0"/><circle cx="208.6" cy="1351.7" r="4.0"/><circle cx="213.2" cy="1345.3" r="4.0"/><circle cx="207.1" cy="1342.9" r="4.0"/><circle cx="201.0" cy="1340.4" r="4.0"/><circle cx="194.9" cy="1338.0" r="4.0"/><circle cx="196.7" cy="1325.2" r="4.0"/><circle cx="201.3" cy="1317.8" r="4.0"/><circle cx="205.9" cy="1310.5" r="4.0"/><circle cx="208.3" cy="1304.4" r="4.0"/><circle cx="210.8" cy="1298.3" r="4.0"/><circle cx="179.3" cy="1281.2" r="4.0"/><circle cx="171.1" cy="1305.0" r="4.0"/><circle cx="187.6" cy="1295.9" r="4.0"/><circle cx="196.7" cy="1297.7" r="4.0"/><circle cx="207.7" cy="1297.7" r="4.0"/><circle cx="213.2" cy="1263.9" r="4.0"/><circle cx="205.9" cy="1273.9" r="4.0"/><circle cx="187.6" cy="1306.9" r="4.0"/><circle cx="190.3" cy="1316.0" r="4.0"/><circle cx="188.5" cy="1354.4" r="4.0"/><circle cx="191.2" cy="1345.3" r="4.0"/><circle cx="211.4" cy="1412.0" r="4.0"/><circle cx="238.8" cy="1263.9" r="4.0"/><circle cx="396.2" cy="1269.3" r="4.0"/><circle cx="419.0" cy="1310.5" r="4.0"/><circle cx="363.2" cy="1387.4" r="4.0"/><circle cx="326.6" cy="1402.0" r="4.0"/><circle cx="270.8" cy="1408.4" r="4.0"/><circle cx="218.7" cy="1393.8" r="4.0"/><circle cx="205.0" cy="1283.0" r="4.0"/><circle cx="200.0" cy="1320.0" r="4.0"/></g>
<path d="M213.2,1292.2 L222.3,1279.4 L235.2,1270.3 L249.8,1263.0 L264.4,1252.0 L284.6,1248.3 L304.7,1249.2 L323.0,1247.4 L343.1,1250.1 L359.6,1250.1 L381.5,1255.6 L388.9,1262.9 L396.2,1277.6 L410.8,1281.2 L418.1,1288.6 L405.3,1299.5 L403.5,1314.2 L392.5,1321.5 L385.2,1332.5 L377.9,1343.4 L388.9,1354.4 L387.0,1369.0 L374.2,1376.4 L365.0,1385.5 L341.3,1391.0 L332.1,1402.0 L313.8,1394.7 L295.5,1398.3 L271.7,1409.3 L249.8,1398.3 L237.0,1407.5 L222.3,1400.2 L202.2,1391.0 L198.6,1372.7 L204.0,1358.1 L213.2,1345.3 L194.9,1338.0 L196.7,1325.2 L205.9,1310.5 Z" fill="url(#vg5)"/>
<defs><linearGradient id="cb6" x1="0" y1="0" x2="0" y2="1"><stop offset="0.00" stop-color="#f2e42a"/><stop offset="0.10" stop-color="#bcdb30"/><stop offset="0.20" stop-color="#7dcc4e"/><stop offset="0.30" stop-color="#4bbc69"/><stop offset="0.40" stop-color="#2ea67d"/><stop offset="0.50" stop-color="#288d86"/><stop offset="0.60" stop-color="#2e7489"/><stop offset="0.70" stop-color="#3a5a8a"/><stop offset="0.80" stop-color="#433f80"/><stop offset="0.90" stop-color="#4b3470"/><stop offset="1.00" stop-color="#4a2852"/></linearGradient></defs>
<rect x="468.3" y="1267.0" width="23.4" height="114.0" fill="url(#cb6)"/>
<line x1="468.3" y1="1269.0" x2="472.8" y2="1269.0" stroke="#ffffff" stroke-width="1.2"/>
<line x1="487.2" y1="1269.0" x2="491.7" y2="1269.0" stroke="#ffffff" stroke-width="1.2"/>
<text x="501.7" y="1277.3" font-size="18"></text>
<line x1="468.3" y1="1301.6" x2="472.8" y2="1301.6" stroke="#ffffff" stroke-width="1.2"/>
<line x1="487.2" y1="1301.6" x2="491.7" y2="1301.6" stroke="#ffffff" stroke-width="1.2"/>
<text x="501.7" y="1309.9" font-size="18"></text>
<line x1="468.3" y1="1336.0" x2="472.8" y2="1336.0" stroke="#ffffff" stroke-width="1.2"/>
<line x1="487.2" y1="1336.0" x2="491.7" y2="1336.0" stroke="#ffffff" stroke-width="1.2"/>
<text x="501.7" y="1344.3" font-size="18"></text>
<text x="502.0" y="1276.0" font-size="18">6</text>
<text x="502.0" y="1308.6" font-size="18">4</text>
<text x="502.0" y="1343.0" font-size="18">2</text>
<text x="921.6" y="1213.8" font-size="27.8" text-anchor="middle" textLength="244.4" lengthAdjust="spacingAndGlyphs">Spearman = 0.3069</text>
<text x="692.0" y="1531.0" font-size="31.5" transform="rotate(-90 692.0 1531.0)" textLength="335.0" lengthAdjust="spacingAndGlyphs">log<tspan font-size="20" dy="7">2</tspan><tspan dy="-7"> fold change (4h/0h)</tspan></text>
<text x="649.6" y="1422.8" font-size="31.5" textLength="129.3" lengthAdjust="spacingAndGlyphs" transform="rotate(-90 649.6 1422.8)">H3K27ac</text>
<text x="746.0" y="1260.2" font-size="23">5</text>
<text x="744.5" y="1303.2" font-size="23">0</text>
<text x="738.5" y="1347.7" font-size="23">-5</text>
<text x="728.5" y="1390.2" font-size="23">-10</text>
<text x="849.0" y="1465.0" font-size="23" text-anchor="middle">-10</text>
<text x="936.5" y="1465.0" font-size="23" text-anchor="middle">-5</text>
<text x="1021.5" y="1465.0" font-size="23" text-anchor="middle">0</text>
<text x="934.8" y="1527.0" font-size="31.5" text-anchor="middle" textLength="118.4" lengthAdjust="spacingAndGlyphs">PROseq</text>
<text x="757.6" y="1564.5" font-size="31.5" textLength="334.8" lengthAdjust="spacingAndGlyphs">log<tspan font-size="20" dy="7">2</tspan><tspan dy="-7"> fold change (4h/0h)</tspan></text>
<rect x="782.2" y="1241.3" width="7.6" height="182.5" fill="#151510"/>
<rect x="785.8" y="1417.0" width="274.2" height="6.8" fill="#151510"/>
<defs><radialGradient id="vg7" gradientUnits="userSpaceOnUse" cx="0" cy="0" r="1" gradientTransform="translate(919.0 1302.5) rotate(-5) scale(101 60)"><stop offset="0.00" stop-color="#f2e42a"/><stop offset="0.12" stop-color="#eae32b"/><stop offset="0.20" stop-color="#c7dd2f"/><stop offset="0.27" stop-color="#96d242"/><stop offset="0.33" stop-color="#69c659"/><stop offset="0.42" stop-color="#3aaf75"/><stop offset="0.50" stop-color="#2a9483"/><stop offset="0.59" stop-color="#2d7689"/><stop offset="0.68" stop-color="#3a5a8a"/><stop offset="0.77" stop-color="#433f80"/><stop offset="0.85" stop-color="#493673"/><stop offset="0.93" stop-color="#4a2e61"/><stop offset="1.00" stop-color="#4a2852"/></radialGradient></defs>
<g fill="#4a2852"><circle cx="823.9" cy="1286.7" r="4.0"/><circle cx="832.1" cy="1283.1" r="4.0"/><circle cx="840.4" cy="1279.4" r="4.0"/><circle cx="846.8" cy="1274.8" r="4.0"/><circle cx="853.2" cy="1270.3" r="4.0"/><circle cx="858.7" cy="1266.7" r="4.0"/><circle cx="864.2" cy="1263.0" r="4.0"/><circle cx="871.5" cy="1258.8" r="4.0"/><circle cx="878.8" cy="1254.7" r="4.0"/><circle cx="885.5" cy="1255.6" r="4.0"/><circle cx="892.2" cy="1256.5" r="4.0"/><circle cx="898.9" cy="1257.4" r="4.0"/><circle cx="906.2" cy="1256.5" r="4.0"/><circle cx="913.6" cy="1255.6" r="4.0"/><circle cx="920.9" cy="1254.7" r="4.0"/><circle cx="930.0" cy="1251.5" r="4.0"/><circle cx="939.2" cy="1248.3" r="4.0"/><circle cx="947.5" cy="1251.0" r="4.0"/><circle cx="955.7" cy="1253.8" r="4.0"/><circle cx="962.1" cy="1252.4" r="4.0"/><circle cx="968.5" cy="1251.0" r="4.0"/><circle cx="981.3" cy="1251.0" r="4.0"/><circle cx="988.6" cy="1254.7" r="4.0"/><circle cx="995.9" cy="1258.4" r="4.0"/><circle cx="1005.0" cy="1259.8" r="4.0"/><circle cx="1014.2" cy="1261.1" r="4.0"/><circle cx="1021.6" cy="1262.9" r="4.0"/><circle cx="1028.9" cy="1264.8" r="4.0"/><circle cx="1039.8" cy="1270.3" r="4.0"/><circle cx="1034.3" cy="1275.8" r="4.0"/><circle cx="1028.9" cy="1281.2" r="4.0"/><circle cx="1031.6" cy="1290.3" r="4.0"/><circle cx="1034.3" cy="1299.5" r="4.0"/><circle cx="1030.7" cy="1305.9" r="4.0"/><circle cx="1027.0" cy="1312.3" r="4.0"/><circle cx="1016.0" cy="1317.8" r="4.0"/><circle cx="1015.4" cy="1325.1" r="4.0"/><circle cx="1014.8" cy="1332.5" r="4.0"/><circle cx="1014.2" cy="1339.8" r="4.0"/><circle cx="1016.0" cy="1347.1" r="4.0"/><circle cx="1017.9" cy="1354.4" r="4.0"/><circle cx="1012.4" cy="1359.9" r="4.0"/><circle cx="1006.9" cy="1365.4" r="4.0"/><circle cx="998.6" cy="1365.4" r="4.0"/><circle cx="990.4" cy="1365.4" r="4.0"/><circle cx="984.0" cy="1369.1" r="4.0"/><circle cx="977.6" cy="1372.7" r="4.0"/><circle cx="982.2" cy="1379.1" r="4.0"/><circle cx="986.8" cy="1385.5" r="4.0"/><circle cx="985.0" cy="1398.3" r="4.0"/><circle cx="978.5" cy="1402.0" r="4.0"/><circle cx="972.1" cy="1405.7" r="4.0"/><circle cx="965.7" cy="1402.0" r="4.0"/><circle cx="959.3" cy="1398.3" r="4.0"/><circle cx="952.0" cy="1402.0" r="4.0"/><circle cx="944.7" cy="1405.7" r="4.0"/><circle cx="935.5" cy="1405.7" r="4.0"/><circle cx="926.4" cy="1405.7" r="4.0"/><circle cx="917.2" cy="1408.5" r="4.0"/><circle cx="908.1" cy="1411.2" r="4.0"/><circle cx="899.6" cy="1410.6" r="4.0"/><circle cx="891.0" cy="1409.9" r="4.0"/><circle cx="882.5" cy="1409.3" r="4.0"/><circle cx="875.1" cy="1407.9" r="4.0"/><circle cx="867.8" cy="1406.6" r="4.0"/><circle cx="861.1" cy="1403.8" r="4.0"/><circle cx="854.4" cy="1401.1" r="4.0"/><circle cx="847.7" cy="1398.3" r="4.0"/><circle cx="848.3" cy="1391.0" r="4.0"/><circle cx="848.9" cy="1383.7" r="4.0"/><circle cx="849.5" cy="1376.4" r="4.0"/><circle cx="842.2" cy="1372.7" r="4.0"/><circle cx="834.9" cy="1369.0" r="4.0"/><circle cx="838.6" cy="1358.1" r="4.0"/><circle cx="831.2" cy="1351.7" r="4.0"/><circle cx="823.9" cy="1345.3" r="4.0"/><circle cx="825.7" cy="1332.5" r="4.0"/><circle cx="821.2" cy="1327.0" r="4.0"/><circle cx="816.6" cy="1321.5" r="4.0"/><circle cx="814.8" cy="1308.7" r="4.0"/><circle cx="806.5" cy="1305.1" r="4.0"/><circle cx="798.3" cy="1301.4" r="4.0"/><circle cx="803.8" cy="1297.7" r="4.0"/><circle cx="809.3" cy="1294.1" r="4.0"/><circle cx="814.8" cy="1290.4" r="4.0"/><circle cx="815.7" cy="1279.4" r="4.0"/><circle cx="805.6" cy="1305.0" r="4.0"/><circle cx="1043.5" cy="1281.2" r="4.0"/><circle cx="1047.2" cy="1321.5" r="4.0"/><circle cx="1029.8" cy="1365.4" r="4.0"/><circle cx="834.9" cy="1369.0" r="4.0"/><circle cx="847.7" cy="1398.3" r="4.0"/><circle cx="884.3" cy="1409.3" r="4.0"/><circle cx="939.2" cy="1409.3" r="4.0"/><circle cx="1014.2" cy="1261.1" r="4.0"/><circle cx="968.5" cy="1406.6" r="4.0"/><circle cx="986.8" cy="1383.7" r="4.0"/><circle cx="986.8" cy="1398.3" r="4.0"/><circle cx="1040.0" cy="1290.0" r="4.0"/></g>
<path d="M823.9,1286.7 L840.4,1279.4 L853.2,1270.3 L864.2,1263.0 L878.8,1254.7 L898.9,1257.4 L920.9,1254.7 L939.2,1248.3 L955.7,1253.8 L968.5,1251.0 L981.3,1251.0 L995.9,1258.4 L1014.2,1261.1 L1028.9,1264.8 L1039.8,1270.3 L1028.9,1281.2 L1034.3,1299.5 L1027.0,1312.3 L1016.0,1317.8 L1014.2,1339.8 L1017.9,1354.4 L1006.9,1365.4 L990.4,1365.4 L977.6,1372.7 L986.8,1385.5 L985.0,1398.3 L972.1,1405.7 L959.3,1398.3 L944.7,1405.7 L926.4,1405.7 L908.1,1411.2 L882.5,1409.3 L867.8,1406.6 L847.7,1398.3 L849.5,1376.4 L834.9,1369.0 L838.6,1358.1 L823.9,1345.3 L825.7,1332.5 L816.6,1321.5 L814.8,1308.7 L798.3,1301.4 L814.8,1290.4 Z" fill="url(#vg7)"/>
<defs><linearGradient id="cb8" x1="0" y1="0" x2="0" y2="1"><stop offset="0.00" stop-color="#f2e42a"/><stop offset="0.10" stop-color="#bcdb30"/><stop offset="0.20" stop-color="#7dcc4e"/><stop offset="0.30" stop-color="#4bbc69"/><stop offset="0.40" stop-color="#2ea67d"/><stop offset="0.50" stop-color="#288d86"/><stop offset="0.60" stop-color="#2e7489"/><stop offset="0.70" stop-color="#3a5a8a"/><stop offset="0.80" stop-color="#433f80"/><stop offset="0.90" stop-color="#4b3470"/><stop offset="1.00" stop-color="#4a2852"/></linearGradient></defs>
<rect x="1110.0" y="1263.0" width="25.6" height="121.5" fill="url(#cb8)"/>
<line x1="1110.0" y1="1262.6" x2="1114.5" y2="1262.6" stroke="#ffffff" stroke-width="1.2"/>
<line x1="1131.1" y1="1262.6" x2="1135.6" y2="1262.6" stroke="#ffffff" stroke-width="1.2"/>
<text x="1145.6" y="1270.9" font-size="18"></text>
<line x1="1110.0" y1="1288.0" x2="1114.5" y2="1288.0" stroke="#ffffff" stroke-width="1.2"/>
<line x1="1131.1" y1="1288.0" x2="1135.6" y2="1288.0" stroke="#ffffff" stroke-width="1.2"/>
<text x="1145.6" y="1296.3" font-size="18"></text>
<line x1="1110.0" y1="1316.5" x2="1114.5" y2="1316.5" stroke="#ffffff" stroke-width="1.2"/>
<line x1="1131.1" y1="1316.5" x2="1135.6" y2="1316.5" stroke="#ffffff" stroke-width="1.2"/>
<text x="1145.6" y="1324.8" font-size="18"></text>
<line x1="1110.0" y1="1344.8" x2="1114.5" y2="1344.8" stroke="#ffffff" stroke-width="1.2"/>
<line x1="1131.1" y1="1344.8" x2="1135.6" y2="1344.8" stroke="#ffffff" stroke-width="1.2"/>
<text x="1145.6" y="1353.1" font-size="18"></text>
<text x="1149.0" y="1269.6" font-size="18">8</text>
<text x="1149.0" y="1295.0" font-size="18">6</text>
<text x="1149.0" y="1323.5" font-size="18">4</text>
<text x="1149.0" y="1351.8" font-size="18">2</text>
<text x="1010.5" y="1342.5" font-size="40.5" fill="#1a1418">A</text>
<text x="1231.3" y="49.7" font-size="27.2" textLength="337.2" lengthAdjust="spacingAndGlyphs">Transcrip tional Repressors</text>
<text x="1751.5" y="51.5" font-size="27.2" textLength="318.5" lengthAdjust="spacingAndGlyphs">Transcriptional Activators</text>
<line x1="1656.1" y1="22" x2="1656.1" y2="1154" stroke="#111" stroke-width="3.9" stroke-dasharray="3.8 5.152"/>
<text x="1230.5" y="122.3" font-size="41" font-weight="bold">c</text>
<text x="1230.0" y="504.8" font-size="42">d</text>
<text x="1230.0" y="880.5" font-size="42">e</text>
<text x="1708.6" y="139.2" font-size="42" font-weight="bold">f</text>
<text x="1712.0" y="474.5" font-size="42">g</text>
<text x="1713.0" y="838.6" font-size="42">h</text>
<defs><clipPath id="cl11"><rect x="1325.4" y="155.2" width="235.7" height="210.6"/></clipPath></defs>
<g clip-path="url(#cl11)">
<defs><clipPath id="q11"><rect x="1329.5" y="151.6" width="235.2" height="207.3"/></clipPath></defs>
<g clip-path="url(#q11)">
<defs><pattern id="pw1" width="53" height="41" patternUnits="userSpaceOnUse"><path d="M40.6 2.3h2.2v1.5h-2.2zM38.8 34.1h2.2v1.5h-2.2zM4.7 35.6h2.2v1.5h-2.2zM40.1 16.1h2.2v1.5h-2.2zM19.1 25.6h2.2v1.5h-2.2zM20.4 22.6h2.2v1.5h-2.2zM31.0 2.0h2.2v1.5h-2.2zM37.6 28.0h2.2v1.5h-2.2zM47.0 28.2h2.2v1.5h-2.2zM33.4 29.1h2.2v1.5h-2.2zM9.6 19.8h2.2v1.5h-2.2zM45.6 36.6h2.2v1.5h-2.2zM1.0 34.7h2.2v1.5h-2.2zM32.5 16.1h2.2v1.5h-2.2zM6.6 34.1h2.2v1.5h-2.2zM12.9 23.4h2.2v1.5h-2.2zM3.8 22.0h2.2v1.5h-2.2zM20.0 12.1h2.2v1.5h-2.2zM8.5 1.4h2.2v1.5h-2.2zM44.5 24.0h2.2v1.5h-2.2zM0.3 22.9h2.2v1.5h-2.2zM39.1 7.9h2.2v1.5h-2.2zM47.4 33.3h2.2v1.5h-2.2zM27.5 39.0h2.2v1.5h-2.2zM11.1 1.5h2.2v1.5h-2.2zM18.9 7.2h2.2v1.5h-2.2zM48.3 4.5h2.2v1.5h-2.2zM18.0 34.1h2.2v1.5h-2.2zM2.1 3.5h2.2v1.5h-2.2zM26.5 14.2h2.2v1.5h-2.2zM1.1 26.5h2.2v1.5h-2.2zM42.9 2.2h2.2v1.5h-2.2zM6.6 4.8h2.2v1.5h-2.2zM24.2 25.7h2.2v1.5h-2.2zM13.5 32.7h2.2v1.5h-2.2zM4.9 35.6h2.2v1.5h-2.2zM11.4 4.6h2.2v1.5h-2.2zM10.3 22.0h2.2v1.5h-2.2zM45.7 4.3h2.2v1.5h-2.2zM31.2 20.9h2.2v1.5h-2.2zM24.2 31.0h2.2v1.5h-2.2zM12.9 35.6h2.2v1.5h-2.2zM16.8 15.4h2.2v1.5h-2.2zM25.6 21.4h2.2v1.5h-2.2zM36.0 32.3h2.2v1.5h-2.2zM46.3 5.0h2.2v1.5h-2.2zM9.4 30.4h2.2v1.5h-2.2zM40.0 10.0h2.2v1.5h-2.2zM45.0 34.3h2.2v1.5h-2.2zM3.2 4.5h2.2v1.5h-2.2zM4.9 34.2h2.2v1.5h-2.2zM44.3 9.8h2.2v1.5h-2.2zM45.4 7.9h2.2v1.5h-2.2zM23.8 20.9h2.2v1.5h-2.2zM29.4 4.8h2.2v1.5h-2.2zM3.1 35.2h2.2v1.5h-2.2zM39.9 19.8h2.2v1.5h-2.2zM33.7 31.5h2.2v1.5h-2.2zM3.2 9.5h2.2v1.5h-2.2zM36.6 25.6h2.2v1.5h-2.2zM22.6 5.5h2.2v1.5h-2.2zM3.2 11.1h2.2v1.5h-2.2zM31.5 17.7h2.2v1.5h-2.2zM32.3 36.6h2.2v1.5h-2.2zM24.7 10.2h2.2v1.5h-2.2zM45.5 38.1h2.2v1.5h-2.2zM23.8 35.8h2.2v1.5h-2.2zM22.3 5.0h2.2v1.5h-2.2zM26.7 36.4h2.2v1.5h-2.2zM35.2 8.4h2.2v1.5h-2.2zM5.0 38.0h2.2v1.5h-2.2zM32.9 23.7h2.2v1.5h-2.2zM36.8 35.4h2.2v1.5h-2.2zM39.4 19.1h2.2v1.5h-2.2zM8.5 6.2h2.2v1.5h-2.2zM27.7 11.0h2.2v1.5h-2.2zM45.9 15.4h2.2v1.5h-2.2zM43.1 0.1h2.2v1.5h-2.2zM6.0 34.3h2.2v1.5h-2.2zM27.8 12.0h2.2v1.5h-2.2zM30.7 14.7h2.2v1.5h-2.2zM28.6 35.1h2.2v1.5h-2.2zM25.7 28.1h2.2v1.5h-2.2zM22.8 15.8h2.2v1.5h-2.2zM30.3 8.7h2.2v1.5h-2.2zM27.0 35.2h2.2v1.5h-2.2zM37.6 13.9h2.2v1.5h-2.2zM6.3 1.9h2.2v1.5h-2.2zM21.5 8.0h2.2v1.5h-2.2zM21.6 8.1h2.2v1.5h-2.2zM38.1 4.7h2.2v1.5h-2.2zM33.7 16.0h2.2v1.5h-2.2zM35.5 38.5h2.2v1.5h-2.2zM22.7 2.5h2.2v1.5h-2.2zM22.8 35.2h2.2v1.5h-2.2zM24.0 24.3h2.2v1.5h-2.2zM2.4 4.1h2.2v1.5h-2.2zM2.6 28.5h2.2v1.5h-2.2zM17.7 35.2h2.2v1.5h-2.2zM31.5 2.7h2.2v1.5h-2.2zM50.6 23.4h2.2v1.5h-2.2zM1.7 5.3h2.2v1.5h-2.2zM41.9 34.9h2.2v1.5h-2.2zM37.8 6.7h2.2v1.5h-2.2zM16.7 23.9h2.2v1.5h-2.2zM45.6 26.7h2.2v1.5h-2.2zM27.1 11.5h2.2v1.5h-2.2zM28.7 15.9h2.2v1.5h-2.2zM13.5 8.0h2.2v1.5h-2.2zM1.5 18.7h2.2v1.5h-2.2zM41.2 4.7h2.2v1.5h-2.2zM50.7 30.0h2.2v1.5h-2.2zM37.6 12.6h2.2v1.5h-2.2zM39.4 23.5h2.2v1.5h-2.2zM25.2 0.8h2.2v1.5h-2.2zM3.9 25.7h2.2v1.5h-2.2zM3.8 35.0h2.2v1.5h-2.2zM4.3 32.7h2.2v1.5h-2.2zM29.5 24.4h2.2v1.5h-2.2zM29.9 1.0h2.2v1.5h-2.2zM31.6 12.6h2.2v1.5h-2.2zM43.4 16.3h2.2v1.5h-2.2zM0.7 21.7h2.2v1.5h-2.2zM33.4 30.7h2.2v1.5h-2.2zM47.8 35.1h2.2v1.5h-2.2zM22.7 4.2h2.2v1.5h-2.2zM14.2 27.1h2.2v1.5h-2.2zM26.9 10.8h2.2v1.5h-2.2zM5.4 31.7h2.2v1.5h-2.2zM27.5 23.3h2.2v1.5h-2.2zM33.8 13.9h2.2v1.5h-2.2zM14.3 32.8h2.2v1.5h-2.2zM33.6 7.0h2.2v1.5h-2.2zM49.5 37.1h2.2v1.5h-2.2zM27.5 3.9h2.2v1.5h-2.2zM35.7 3.0h2.2v1.5h-2.2zM39.5 22.6h2.2v1.5h-2.2zM36.9 31.1h2.2v1.5h-2.2zM48.0 38.7h2.2v1.5h-2.2zM36.9 29.0h2.2v1.5h-2.2zM35.1 23.3h2.2v1.5h-2.2zM33.9 17.5h2.2v1.5h-2.2zM23.0 9.1h2.2v1.5h-2.2zM38.2 30.2h2.2v1.5h-2.2zM21.0 1.8h2.2v1.5h-2.2zM30.3 16.9h2.2v1.5h-2.2zM50.2 16.5h2.2v1.5h-2.2zM25.2 9.0h2.2v1.5h-2.2zM44.1 1.7h2.2v1.5h-2.2zM43.6 36.6h2.2v1.5h-2.2zM22.8 13.4h2.2v1.5h-2.2zM13.1 1.5h2.2v1.5h-2.2zM38.2 7.6h2.2v1.5h-2.2zM35.3 8.7h2.2v1.5h-2.2zM13.5 17.3h2.2v1.5h-2.2zM33.7 31.8h2.2v1.5h-2.2zM24.2 13.6h2.2v1.5h-2.2zM48.2 35.7h2.2v1.5h-2.2zM18.2 21.8h2.2v1.5h-2.2zM3.1 2.9h2.2v1.5h-2.2zM48.7 4.1h2.2v1.5h-2.2zM15.0 6.5h2.2v1.5h-2.2zM1.5 22.3h2.2v1.5h-2.2zM41.3 38.6h2.2v1.5h-2.2zM4.1 10.2h2.2v1.5h-2.2zM1.0 23.7h2.2v1.5h-2.2zM2.7 6.8h2.2v1.5h-2.2zM34.7 36.2h2.2v1.5h-2.2zM7.8 18.2h2.2v1.5h-2.2zM23.5 23.2h2.2v1.5h-2.2zM26.9 7.5h2.2v1.5h-2.2zM12.5 36.7h2.2v1.5h-2.2zM21.1 3.8h2.2v1.5h-2.2zM7.9 12.6h2.2v1.5h-2.2zM35.1 8.3h2.2v1.5h-2.2zM5.7 24.0h2.2v1.5h-2.2zM28.7 28.8h2.2v1.5h-2.2zM42.7 33.0h2.2v1.5h-2.2zM27.9 29.0h2.2v1.5h-2.2zM35.5 26.5h2.2v1.5h-2.2zM1.1 19.6h2.2v1.5h-2.2zM26.5 33.0h2.2v1.5h-2.2zM0.7 5.5h2.2v1.5h-2.2zM24.0 25.5h2.2v1.5h-2.2zM26.0 16.4h2.2v1.5h-2.2zM25.8 4.2h2.2v1.5h-2.2zM41.0 15.8h2.2v1.5h-2.2zM25.8 4.2h2.2v1.5h-2.2zM44.3 26.8h2.2v1.5h-2.2zM36.1 27.9h2.2v1.5h-2.2zM28.1 38.4h2.2v1.5h-2.2zM24.6 13.4h2.2v1.5h-2.2zM43.2 26.1h2.2v1.5h-2.2zM31.9 28.0h2.2v1.5h-2.2zM4.4 7.3h2.2v1.5h-2.2zM43.1 21.9h2.2v1.5h-2.2zM11.0 12.5h2.2v1.5h-2.2zM23.0 28.5h2.2v1.5h-2.2zM43.5 33.0h2.2v1.5h-2.2zM35.5 0.7h2.2v1.5h-2.2zM7.8 35.2h2.2v1.5h-2.2zM22.7 25.0h2.2v1.5h-2.2zM22.4 21.1h2.2v1.5h-2.2zM50.0 2.8h2.2v1.5h-2.2zM31.5 7.3h2.2v1.5h-2.2zM31.1 32.9h2.2v1.5h-2.2zM38.5 24.8h2.2v1.5h-2.2zM17.5 31.3h2.2v1.5h-2.2zM6.4 31.5h2.2v1.5h-2.2zM4.3 33.6h2.2v1.5h-2.2zM36.4 34.9h2.2v1.5h-2.2zM8.4 30.9h2.2v1.5h-2.2zM20.5 33.8h2.2v1.5h-2.2zM41.6 11.2h2.2v1.5h-2.2zM26.4 9.0h2.2v1.5h-2.2zM15.3 22.9h2.2v1.5h-2.2zM3.4 8.5h2.2v1.5h-2.2zM15.5 19.8h2.2v1.5h-2.2zM14.3 2.9h2.2v1.5h-2.2zM49.4 12.0h2.2v1.5h-2.2zM25.7 32.7h2.2v1.5h-2.2zM19.3 24.5h2.2v1.5h-2.2zM18.2 29.2h2.2v1.5h-2.2zM46.0 38.6h2.2v1.5h-2.2zM43.3 25.8h2.2v1.5h-2.2zM37.7 25.3h2.2v1.5h-2.2zM17.8 23.9h2.2v1.5h-2.2zM16.7 36.9h2.2v1.5h-2.2zM50.1 5.6h2.2v1.5h-2.2zM5.1 26.2h2.2v1.5h-2.2zM27.0 25.8h2.2v1.5h-2.2zM1.2 31.8h2.2v1.5h-2.2zM28.6 29.6h2.2v1.5h-2.2zM30.5 10.3h2.2v1.5h-2.2zM18.7 28.9h2.2v1.5h-2.2zM50.5 36.8h2.2v1.5h-2.2zM9.7 12.6h2.2v1.5h-2.2zM11.8 35.8h2.2v1.5h-2.2zM41.4 32.9h2.2v1.5h-2.2zM21.4 29.0h2.2v1.5h-2.2zM37.6 25.1h2.2v1.5h-2.2zM36.3 7.2h2.2v1.5h-2.2zM6.9 30.7h2.2v1.5h-2.2zM16.5 37.7h2.2v1.5h-2.2zM13.5 33.6h2.2v1.5h-2.2zM49.7 35.9h2.2v1.5h-2.2zM34.2 16.4h2.2v1.5h-2.2zM38.9 34.9h2.2v1.5h-2.2zM13.2 18.4h2.2v1.5h-2.2zM25.6 23.3h2.2v1.5h-2.2zM49.0 8.8h2.2v1.5h-2.2zM28.3 9.4h2.2v1.5h-2.2zM0.1 7.2h2.2v1.5h-2.2z" fill="#fff"/></pattern></defs>
<defs><radialGradient id="mk1g" gradientUnits="userSpaceOnUse" cx="0" cy="0" r="1" gradientTransform="translate(1384.5 320.8) rotate(-10) scale(58 38)"><stop offset="0" stop-color="#fff" stop-opacity="0.80"/><stop offset="0.55" stop-color="#fff" stop-opacity="0.64"/><stop offset="0.8" stop-color="#fff" stop-opacity="0.36"/><stop offset="1" stop-color="#fff" stop-opacity="0.00"/></radialGradient><mask id="mk1m" maskUnits="userSpaceOnUse" x="1288.5" y="224.8" width="192.0" height="192.0"><rect x="1288.5" y="224.8" width="192.0" height="192.0" fill="url(#mk1g)"/></mask><mask id="mk1" maskUnits="userSpaceOnUse" x="1288.5" y="224.8" width="192.0" height="192.0"><rect x="1288.5" y="224.8" width="192.0" height="192.0" fill="url(#pw1)" mask="url(#mk1m)"/></mask></defs>
<rect x="1288.5" y="224.8" width="192.0" height="192.0" fill="#b4b1bf" mask="url(#mk1)"/>
<defs><pattern id="pw2" width="53" height="41" patternUnits="userSpaceOnUse"><path d="M26.6 16.6h2.2v1.5h-2.2zM11.3 5.1h2.2v1.5h-2.2zM24.7 24.7h2.2v1.5h-2.2zM31.7 27.9h2.2v1.5h-2.2zM22.2 1.9h2.2v1.5h-2.2zM11.5 31.1h2.2v1.5h-2.2zM21.5 22.3h2.2v1.5h-2.2zM34.5 29.9h2.2v1.5h-2.2zM8.3 18.4h2.2v1.5h-2.2zM33.3 36.9h2.2v1.5h-2.2zM14.3 35.6h2.2v1.5h-2.2zM43.3 20.7h2.2v1.5h-2.2zM29.5 37.0h2.2v1.5h-2.2zM22.4 11.4h2.2v1.5h-2.2zM40.7 4.0h2.2v1.5h-2.2zM36.7 25.5h2.2v1.5h-2.2zM20.0 37.1h2.2v1.5h-2.2zM31.1 6.1h2.2v1.5h-2.2zM21.3 37.7h2.2v1.5h-2.2zM4.3 32.0h2.2v1.5h-2.2zM28.0 31.5h2.2v1.5h-2.2zM47.0 3.3h2.2v1.5h-2.2zM21.8 19.1h2.2v1.5h-2.2zM25.1 33.1h2.2v1.5h-2.2zM3.1 7.1h2.2v1.5h-2.2zM38.3 32.4h2.2v1.5h-2.2zM48.4 3.6h2.2v1.5h-2.2zM42.2 0.4h2.2v1.5h-2.2zM40.4 9.1h2.2v1.5h-2.2zM46.8 25.0h2.2v1.5h-2.2zM24.1 6.2h2.2v1.5h-2.2zM45.4 15.5h2.2v1.5h-2.2zM48.1 1.1h2.2v1.5h-2.2zM21.9 1.6h2.2v1.5h-2.2zM14.0 37.8h2.2v1.5h-2.2zM17.1 1.8h2.2v1.5h-2.2zM19.1 28.0h2.2v1.5h-2.2zM36.7 32.3h2.2v1.5h-2.2zM5.9 20.2h2.2v1.5h-2.2zM21.6 16.7h2.2v1.5h-2.2zM30.5 4.0h2.2v1.5h-2.2zM44.2 32.6h2.2v1.5h-2.2zM30.0 11.9h2.2v1.5h-2.2zM1.6 22.7h2.2v1.5h-2.2zM48.7 38.1h2.2v1.5h-2.2zM42.9 38.2h2.2v1.5h-2.2zM35.9 12.0h2.2v1.5h-2.2zM38.6 29.1h2.2v1.5h-2.2zM34.1 31.7h2.2v1.5h-2.2zM43.0 36.5h2.2v1.5h-2.2zM20.5 35.7h2.2v1.5h-2.2zM4.3 28.4h2.2v1.5h-2.2zM32.6 12.4h2.2v1.5h-2.2zM27.3 15.0h2.2v1.5h-2.2zM39.3 24.4h2.2v1.5h-2.2zM33.8 32.5h2.2v1.5h-2.2zM11.5 3.1h2.2v1.5h-2.2zM45.4 32.8h2.2v1.5h-2.2zM11.9 6.7h2.2v1.5h-2.2zM41.4 7.0h2.2v1.5h-2.2zM20.3 10.3h2.2v1.5h-2.2zM8.7 23.8h2.2v1.5h-2.2zM39.2 17.2h2.2v1.5h-2.2zM34.1 11.6h2.2v1.5h-2.2zM10.9 20.7h2.2v1.5h-2.2zM5.2 37.6h2.2v1.5h-2.2zM12.1 33.1h2.2v1.5h-2.2zM20.2 22.4h2.2v1.5h-2.2zM13.6 9.6h2.2v1.5h-2.2zM22.1 18.3h2.2v1.5h-2.2zM0.1 26.9h2.2v1.5h-2.2zM16.0 26.6h2.2v1.5h-2.2zM39.7 36.9h2.2v1.5h-2.2zM24.3 13.4h2.2v1.5h-2.2zM6.5 22.9h2.2v1.5h-2.2zM21.8 18.3h2.2v1.5h-2.2zM20.7 6.8h2.2v1.5h-2.2zM22.3 5.0h2.2v1.5h-2.2zM49.8 0.7h2.2v1.5h-2.2zM16.3 12.2h2.2v1.5h-2.2zM8.6 22.5h2.2v1.5h-2.2zM11.3 0.1h2.2v1.5h-2.2zM7.5 17.8h2.2v1.5h-2.2zM17.8 1.5h2.2v1.5h-2.2zM10.2 2.5h2.2v1.5h-2.2zM43.4 14.4h2.2v1.5h-2.2zM43.4 29.7h2.2v1.5h-2.2zM14.1 27.7h2.2v1.5h-2.2zM25.9 25.4h2.2v1.5h-2.2zM48.0 12.1h2.2v1.5h-2.2zM33.1 10.9h2.2v1.5h-2.2zM15.4 15.2h2.2v1.5h-2.2zM48.6 38.4h2.2v1.5h-2.2zM33.8 36.8h2.2v1.5h-2.2zM11.3 20.1h2.2v1.5h-2.2zM49.3 9.4h2.2v1.5h-2.2zM30.5 15.2h2.2v1.5h-2.2zM10.7 4.2h2.2v1.5h-2.2zM3.1 23.5h2.2v1.5h-2.2zM4.1 37.3h2.2v1.5h-2.2zM13.0 30.2h2.2v1.5h-2.2zM26.6 37.6h2.2v1.5h-2.2zM9.3 35.6h2.2v1.5h-2.2zM39.8 35.0h2.2v1.5h-2.2zM31.1 9.9h2.2v1.5h-2.2zM21.7 1.1h2.2v1.5h-2.2zM3.2 27.8h2.2v1.5h-2.2zM1.6 17.7h2.2v1.5h-2.2zM2.8 28.0h2.2v1.5h-2.2zM37.5 8.0h2.2v1.5h-2.2zM6.2 0.1h2.2v1.5h-2.2zM24.1 1.6h2.2v1.5h-2.2zM7.4 12.9h2.2v1.5h-2.2zM45.7 27.3h2.2v1.5h-2.2zM43.4 33.4h2.2v1.5h-2.2zM6.2 19.8h2.2v1.5h-2.2zM43.6 1.6h2.2v1.5h-2.2zM40.2 28.1h2.2v1.5h-2.2zM33.3 28.5h2.2v1.5h-2.2zM24.9 33.1h2.2v1.5h-2.2zM30.5 36.8h2.2v1.5h-2.2zM22.1 21.3h2.2v1.5h-2.2zM29.5 11.3h2.2v1.5h-2.2zM34.2 12.1h2.2v1.5h-2.2zM26.2 15.2h2.2v1.5h-2.2zM45.6 24.7h2.2v1.5h-2.2zM42.3 27.9h2.2v1.5h-2.2zM50.3 38.7h2.2v1.5h-2.2zM4.0 6.4h2.2v1.5h-2.2zM43.1 21.5h2.2v1.5h-2.2zM27.1 25.7h2.2v1.5h-2.2zM16.9 30.5h2.2v1.5h-2.2zM7.7 19.0h2.2v1.5h-2.2zM48.7 3.3h2.2v1.5h-2.2zM3.9 25.9h2.2v1.5h-2.2zM45.2 14.3h2.2v1.5h-2.2zM29.5 26.5h2.2v1.5h-2.2zM37.3 31.6h2.2v1.5h-2.2zM48.2 10.4h2.2v1.5h-2.2zM2.3 34.9h2.2v1.5h-2.2zM31.7 20.4h2.2v1.5h-2.2zM17.9 8.2h2.2v1.5h-2.2zM0.7 14.4h2.2v1.5h-2.2zM14.8 4.0h2.2v1.5h-2.2zM48.0 18.2h2.2v1.5h-2.2zM47.8 16.2h2.2v1.5h-2.2zM32.1 24.7h2.2v1.5h-2.2zM17.7 29.1h2.2v1.5h-2.2zM17.4 39.1h2.2v1.5h-2.2zM1.6 19.6h2.2v1.5h-2.2zM14.3 22.2h2.2v1.5h-2.2zM12.7 26.0h2.2v1.5h-2.2zM13.9 23.9h2.2v1.5h-2.2zM50.1 21.3h2.2v1.5h-2.2zM19.9 1.4h2.2v1.5h-2.2zM26.8 7.8h2.2v1.5h-2.2zM27.9 1.3h2.2v1.5h-2.2zM33.6 2.6h2.2v1.5h-2.2zM45.1 18.6h2.2v1.5h-2.2zM31.7 35.4h2.2v1.5h-2.2zM33.3 35.2h2.2v1.5h-2.2zM21.0 28.4h2.2v1.5h-2.2zM23.6 5.0h2.2v1.5h-2.2zM30.1 25.7h2.2v1.5h-2.2zM13.0 34.1h2.2v1.5h-2.2zM35.9 6.5h2.2v1.5h-2.2zM34.8 16.3h2.2v1.5h-2.2zM3.8 24.2h2.2v1.5h-2.2zM26.1 26.5h2.2v1.5h-2.2zM25.6 1.8h2.2v1.5h-2.2zM24.8 5.5h2.2v1.5h-2.2zM37.2 0.7h2.2v1.5h-2.2zM20.2 33.1h2.2v1.5h-2.2zM30.0 32.1h2.2v1.5h-2.2zM41.2 23.8h2.2v1.5h-2.2zM28.1 35.6h2.2v1.5h-2.2zM23.5 12.6h2.2v1.5h-2.2zM13.4 26.5h2.2v1.5h-2.2zM49.2 11.5h2.2v1.5h-2.2zM7.9 39.2h2.2v1.5h-2.2zM30.5 20.0h2.2v1.5h-2.2zM25.6 19.1h2.2v1.5h-2.2zM30.4 5.7h2.2v1.5h-2.2zM22.9 27.3h2.2v1.5h-2.2zM35.6 1.1h2.2v1.5h-2.2zM11.9 13.4h2.2v1.5h-2.2zM46.0 4.7h2.2v1.5h-2.2zM33.1 30.4h2.2v1.5h-2.2zM13.3 32.0h2.2v1.5h-2.2zM47.0 4.5h2.2v1.5h-2.2zM2.5 20.4h2.2v1.5h-2.2zM16.6 20.1h2.2v1.5h-2.2zM25.3 18.6h2.2v1.5h-2.2zM34.5 30.9h2.2v1.5h-2.2zM14.5 15.0h2.2v1.5h-2.2zM30.0 15.1h2.2v1.5h-2.2zM50.1 22.7h2.2v1.5h-2.2zM23.0 5.8h2.2v1.5h-2.2zM10.0 7.3h2.2v1.5h-2.2zM42.0 22.0h2.2v1.5h-2.2zM31.3 24.4h2.2v1.5h-2.2zM28.5 18.4h2.2v1.5h-2.2zM44.8 6.7h2.2v1.5h-2.2zM48.2 6.5h2.2v1.5h-2.2zM5.4 5.5h2.2v1.5h-2.2zM1.7 5.2h2.2v1.5h-2.2zM21.0 24.2h2.2v1.5h-2.2zM39.5 14.9h2.2v1.5h-2.2zM31.1 11.3h2.2v1.5h-2.2zM29.9 11.9h2.2v1.5h-2.2zM27.9 18.5h2.2v1.5h-2.2zM12.0 27.6h2.2v1.5h-2.2zM1.4 33.8h2.2v1.5h-2.2zM11.1 37.5h2.2v1.5h-2.2zM25.2 33.6h2.2v1.5h-2.2zM0.1 30.1h2.2v1.5h-2.2zM44.8 9.4h2.2v1.5h-2.2zM43.3 6.8h2.2v1.5h-2.2zM48.1 12.5h2.2v1.5h-2.2zM20.2 4.3h2.2v1.5h-2.2zM33.4 23.2h2.2v1.5h-2.2zM42.8 28.1h2.2v1.5h-2.2zM34.7 7.6h2.2v1.5h-2.2zM48.7 11.0h2.2v1.5h-2.2zM38.5 21.4h2.2v1.5h-2.2zM50.7 26.5h2.2v1.5h-2.2zM36.7 26.7h2.2v1.5h-2.2zM14.4 6.8h2.2v1.5h-2.2zM24.5 29.4h2.2v1.5h-2.2zM32.4 23.6h2.2v1.5h-2.2zM42.1 12.5h2.2v1.5h-2.2zM8.2 27.2h2.2v1.5h-2.2zM27.2 23.5h2.2v1.5h-2.2zM14.2 6.9h2.2v1.5h-2.2zM34.3 34.0h2.2v1.5h-2.2zM13.6 21.1h2.2v1.5h-2.2zM29.8 8.3h2.2v1.5h-2.2zM36.2 38.7h2.2v1.5h-2.2zM48.1 2.5h2.2v1.5h-2.2zM6.8 18.4h2.2v1.5h-2.2zM50.6 13.7h2.2v1.5h-2.2zM34.7 12.5h2.2v1.5h-2.2zM50.1 29.6h2.2v1.5h-2.2zM21.4 9.9h2.2v1.5h-2.2zM49.1 24.5h2.2v1.5h-2.2zM28.9 2.0h2.2v1.5h-2.2zM3.7 24.1h2.2v1.5h-2.2zM48.8 1.6h2.2v1.5h-2.2zM43.7 33.8h2.2v1.5h-2.2zM33.0 10.6h2.2v1.5h-2.2zM20.0 29.0h2.2v1.5h-2.2zM19.8 12.5h2.2v1.5h-2.2zM25.3 12.7h2.2v1.5h-2.2zM36.9 6.4h2.2v1.5h-2.2zM39.4 17.0h2.2v1.5h-2.2zM26.2 26.3h2.2v1.5h-2.2zM50.9 24.0h2.2v1.5h-2.2zM47.6 26.5h2.2v1.5h-2.2zM41.8 7.3h2.2v1.5h-2.2zM27.5 18.7h2.2v1.5h-2.2zM44.8 2.3h2.2v1.5h-2.2zM1.2 27.9h2.2v1.5h-2.2zM44.4 25.7h2.2v1.5h-2.2zM39.0 35.5h2.2v1.5h-2.2zM19.2 38.8h2.2v1.5h-2.2zM35.4 29.1h2.2v1.5h-2.2zM47.0 16.3h2.2v1.5h-2.2zM22.6 28.6h2.2v1.5h-2.2zM45.7 18.4h2.2v1.5h-2.2zM9.0 21.7h2.2v1.5h-2.2zM45.8 17.4h2.2v1.5h-2.2zM47.4 4.7h2.2v1.5h-2.2zM25.7 24.6h2.2v1.5h-2.2zM3.4 26.7h2.2v1.5h-2.2zM18.2 19.5h2.2v1.5h-2.2zM32.0 0.9h2.2v1.5h-2.2zM14.8 10.9h2.2v1.5h-2.2zM25.4 22.7h2.2v1.5h-2.2zM20.1 26.1h2.2v1.5h-2.2zM26.2 26.7h2.2v1.5h-2.2zM9.3 20.4h2.2v1.5h-2.2zM12.7 5.7h2.2v1.5h-2.2zM7.6 23.5h2.2v1.5h-2.2zM21.2 14.6h2.2v1.5h-2.2zM39.5 23.6h2.2v1.5h-2.2zM4.3 10.7h2.2v1.5h-2.2zM49.5 35.6h2.2v1.5h-2.2zM27.2 9.0h2.2v1.5h-2.2zM4.3 22.4h2.2v1.5h-2.2zM42.2 23.4h2.2v1.5h-2.2zM9.5 2.9h2.2v1.5h-2.2zM18.5 21.3h2.2v1.5h-2.2zM25.5 10.5h2.2v1.5h-2.2zM31.5 26.6h2.2v1.5h-2.2zM27.9 25.3h2.2v1.5h-2.2zM9.9 6.8h2.2v1.5h-2.2zM38.9 7.3h2.2v1.5h-2.2zM43.6 38.9h2.2v1.5h-2.2zM30.7 35.4h2.2v1.5h-2.2zM25.1 34.7h2.2v1.5h-2.2zM43.6 11.5h2.2v1.5h-2.2zM24.7 31.2h2.2v1.5h-2.2zM41.7 31.4h2.2v1.5h-2.2zM40.0 36.6h2.2v1.5h-2.2zM9.9 11.1h2.2v1.5h-2.2zM3.1 35.4h2.2v1.5h-2.2zM40.2 30.8h2.2v1.5h-2.2zM6.8 35.8h2.2v1.5h-2.2zM11.1 0.4h2.2v1.5h-2.2zM6.8 26.0h2.2v1.5h-2.2zM13.2 18.4h2.2v1.5h-2.2zM17.5 28.5h2.2v1.5h-2.2zM20.1 1.6h2.2v1.5h-2.2zM4.4 25.0h2.2v1.5h-2.2zM12.6 37.9h2.2v1.5h-2.2zM37.2 35.2h2.2v1.5h-2.2zM19.3 22.9h2.2v1.5h-2.2zM46.4 33.3h2.2v1.5h-2.2zM30.0 20.2h2.2v1.5h-2.2zM15.6 4.5h2.2v1.5h-2.2zM17.6 14.3h2.2v1.5h-2.2zM33.7 14.8h2.2v1.5h-2.2zM45.8 36.2h2.2v1.5h-2.2zM36.2 9.3h2.2v1.5h-2.2zM19.1 8.0h2.2v1.5h-2.2zM18.6 8.6h2.2v1.5h-2.2zM43.6 12.8h2.2v1.5h-2.2zM11.9 34.3h2.2v1.5h-2.2zM31.2 35.1h2.2v1.5h-2.2zM15.9 7.8h2.2v1.5h-2.2zM1.3 18.0h2.2v1.5h-2.2zM45.8 9.0h2.2v1.5h-2.2zM5.8 14.2h2.2v1.5h-2.2zM20.5 23.7h2.2v1.5h-2.2zM29.4 13.3h2.2v1.5h-2.2zM11.5 10.4h2.2v1.5h-2.2zM20.3 3.4h2.2v1.5h-2.2zM27.4 12.2h2.2v1.5h-2.2zM36.4 5.1h2.2v1.5h-2.2zM11.3 38.9h2.2v1.5h-2.2zM0.1 13.3h2.2v1.5h-2.2zM44.5 11.2h2.2v1.5h-2.2zM36.6 16.0h2.2v1.5h-2.2zM42.8 15.1h2.2v1.5h-2.2zM5.2 18.9h2.2v1.5h-2.2zM23.7 4.6h2.2v1.5h-2.2zM28.1 31.5h2.2v1.5h-2.2zM3.5 16.5h2.2v1.5h-2.2zM40.2 1.3h2.2v1.5h-2.2zM28.2 21.3h2.2v1.5h-2.2zM34.6 12.0h2.2v1.5h-2.2zM40.0 35.5h2.2v1.5h-2.2zM50.0 23.1h2.2v1.5h-2.2zM40.9 10.9h2.2v1.5h-2.2zM9.4 38.2h2.2v1.5h-2.2zM6.4 5.5h2.2v1.5h-2.2zM7.8 9.1h2.2v1.5h-2.2zM3.0 8.7h2.2v1.5h-2.2zM10.3 23.1h2.2v1.5h-2.2zM43.7 13.3h2.2v1.5h-2.2zM19.2 11.8h2.2v1.5h-2.2zM4.8 37.8h2.2v1.5h-2.2z" fill="#fff"/></pattern></defs>
<defs><radialGradient id="mk2g" gradientUnits="userSpaceOnUse" cx="0" cy="0" r="1" gradientTransform="translate(1354.6 341.4) rotate(-35) scale(34 20)"><stop offset="0" stop-color="#fff" stop-opacity="0.70"/><stop offset="0.55" stop-color="#fff" stop-opacity="0.56"/><stop offset="0.8" stop-color="#fff" stop-opacity="0.32"/><stop offset="1" stop-color="#fff" stop-opacity="0.00"/></radialGradient><mask id="mk2m" maskUnits="userSpaceOnUse" x="1300.6" y="287.4" width="108.0" height="108.0"><rect x="1300.6" y="287.4" width="108.0" height="108.0" fill="url(#mk2g)"/></mask><mask id="mk2" maskUnits="userSpaceOnUse" x="1300.6" y="287.4" width="108.0" height="108.0"><rect x="1300.6" y="287.4" width="108.0" height="108.0" fill="url(#pw2)" mask="url(#mk2m)"/></mask></defs>
<rect x="1300.6" y="287.4" width="108.0" height="108.0" fill="#a49dc8" mask="url(#mk2)"/>
<defs><radialGradient id="hz3" gradientUnits="userSpaceOnUse" cx="0" cy="0" r="1" gradientTransform="translate(1351.8 346.5) rotate(-22) scale(32 14)"><stop offset="0" stop-color="#8072c4" stop-opacity="0.55"/><stop offset="0.5" stop-color="#8072c4" stop-opacity="0.30"/><stop offset="1" stop-color="#8072c4" stop-opacity="0"/></radialGradient></defs>
<ellipse cx="1351.8" cy="346.5" rx="32" ry="14" transform="rotate(-22 1351.8 346.5)" fill="url(#hz3)"/>
</g>
<defs><linearGradient id="co4" gradientUnits="userSpaceOnUse" x1="1335.0" y1="0" x2="1369.5" y2="0"><stop offset="0" stop-color="#d02a1a" stop-opacity="1"/><stop offset="0.12" stop-color="#e4481c" stop-opacity="1"/><stop offset="0.24" stop-color="#f0c020" stop-opacity="1"/><stop offset="0.33" stop-color="#9ccc34" stop-opacity="1"/><stop offset="0.42" stop-color="#3aa87a" stop-opacity="1"/><stop offset="0.52" stop-color="#2a5a9a" stop-opacity="1"/><stop offset="0.62" stop-color="#36268c" stop-opacity="1"/><stop offset="0.78" stop-color="#5a4aa8" stop-opacity="0.8"/><stop offset="1" stop-color="#9a90c8" stop-opacity="0"/></linearGradient></defs>
<path d="M1338.4,352.1 C1347.1,352.1 1355.7,353.6 1369.5,355.0 L1369.5,357.0 C1355.7,358.2 1347.1,358.9 1338.4,358.9 A3.4,3.4 0 0 1 1338.4,352.1 Z" fill="url(#co4)"/>
</g>
<g transform="translate(1378.5 347.5) scale(1.0) rotate(-35)" fill="#ec5a5a"><rect x="4" y="-1.2" width="14" height="2.4"/><path d="M-2,0 L7,-5.5 L7,5.5 Z"/></g>
<line x1="1325.0" y1="366.0" x2="1547.0" y2="153.6" stroke="#111" stroke-width="2.4"/>
<rect x="1323.6" y="153.4" width="239.3" height="214.2" fill="none" stroke="#111" stroke-width="3.6"/>
<line x1="1317.3" y1="356.8" x2="1321.8" y2="356.8" stroke="#111" stroke-width="3.2"/>
<line x1="1332.8" y1="369.4" x2="1332.8" y2="373.2" stroke="#111" stroke-width="3.6"/>
<text x="1312.0" y="364.0" font-size="19.5" text-anchor="end">0</text>
<text x="1332.8" y="401.2" font-size="19.5" text-anchor="middle">0</text>
<line x1="1317.3" y1="305.4" x2="1321.8" y2="305.4" stroke="#111" stroke-width="3.2"/>
<line x1="1387.2" y1="369.4" x2="1387.2" y2="373.2" stroke="#111" stroke-width="3.6"/>
<text x="1312.0" y="312.6" font-size="19.5" text-anchor="end">2</text>
<text x="1387.2" y="401.2" font-size="19.5" text-anchor="middle">2</text>
<line x1="1317.3" y1="254.0" x2="1321.8" y2="254.0" stroke="#111" stroke-width="3.2"/>
<line x1="1441.6" y1="369.4" x2="1441.6" y2="373.2" stroke="#111" stroke-width="3.6"/>
<text x="1312.0" y="261.2" font-size="19.5" text-anchor="end">4</text>
<text x="1441.6" y="401.2" font-size="19.5" text-anchor="middle">4</text>
<line x1="1317.3" y1="202.6" x2="1321.8" y2="202.6" stroke="#111" stroke-width="3.2"/>
<line x1="1496.0" y1="369.4" x2="1496.0" y2="373.2" stroke="#111" stroke-width="3.6"/>
<text x="1312.0" y="209.8" font-size="19.5" text-anchor="end">6</text>
<text x="1496.0" y="401.2" font-size="19.5" text-anchor="middle">6</text>
<text x="1344.3" y="430.5" font-size="26.3" textLength="179.0" lengthAdjust="spacingAndGlyphs">DNase-I Signal</text>
<text x="1281.4" y="322.7" font-size="28" textLength="117.0" lengthAdjust="spacingAndGlyphs" transform="rotate(-90 1281.4 322.7)">Predicted</text>
<text x="1333.2" y="186.9" font-size="27.4" textLength="15.0" lengthAdjust="spacingAndGlyphs">R</text>
<text x="1354.6" y="177.2" font-size="19.5">2</text>
<text x="1374.3" y="186.9" font-size="27.4" textLength="16.5" lengthAdjust="spacingAndGlyphs">=</text>
<text x="1400.5" y="186.9" font-size="27.4" textLength="51.0" lengthAdjust="spacingAndGlyphs">0.39</text>
<text x="1425.3" y="144.8" font-size="27.4" text-anchor="middle" textLength="58.8" lengthAdjust="spacingAndGlyphs">REST</text>
<defs><clipPath id="cl12"><rect x="1325.4" y="510.6" width="235.7" height="210.6"/></clipPath></defs>
<g clip-path="url(#cl12)">
<defs><clipPath id="q12"><rect x="1329.5" y="507.0" width="235.2" height="207.3"/></clipPath></defs>
<g clip-path="url(#q12)">
<defs><pattern id="pw3" width="53" height="41" patternUnits="userSpaceOnUse"><path d="M25.4 14.2h2.2v1.5h-2.2zM36.8 17.6h2.2v1.5h-2.2zM23.1 1.0h2.2v1.5h-2.2zM17.1 18.8h2.2v1.5h-2.2zM23.0 3.5h2.2v1.5h-2.2zM15.0 13.4h2.2v1.5h-2.2zM46.0 28.3h2.2v1.5h-2.2zM45.8 1.3h2.2v1.5h-2.2zM11.7 21.3h2.2v1.5h-2.2zM3.1 9.1h2.2v1.5h-2.2zM28.6 0.0h2.2v1.5h-2.2zM20.0 1.2h2.2v1.5h-2.2zM12.3 35.4h2.2v1.5h-2.2zM19.7 10.6h2.2v1.5h-2.2zM46.5 33.8h2.2v1.5h-2.2zM13.0 16.9h2.2v1.5h-2.2zM10.1 30.2h2.2v1.5h-2.2zM23.2 30.4h2.2v1.5h-2.2zM38.5 5.3h2.2v1.5h-2.2zM6.9 29.3h2.2v1.5h-2.2zM44.4 7.2h2.2v1.5h-2.2zM43.8 8.0h2.2v1.5h-2.2zM17.4 25.2h2.2v1.5h-2.2zM7.6 20.2h2.2v1.5h-2.2zM22.2 3.9h2.2v1.5h-2.2zM3.0 17.0h2.2v1.5h-2.2zM25.6 20.1h2.2v1.5h-2.2zM3.3 17.1h2.2v1.5h-2.2zM49.8 28.0h2.2v1.5h-2.2zM16.5 27.4h2.2v1.5h-2.2zM20.2 22.5h2.2v1.5h-2.2zM6.5 0.1h2.2v1.5h-2.2zM36.1 18.2h2.2v1.5h-2.2zM2.5 39.5h2.2v1.5h-2.2zM32.0 9.3h2.2v1.5h-2.2zM25.7 31.8h2.2v1.5h-2.2zM24.4 28.0h2.2v1.5h-2.2zM0.4 31.6h2.2v1.5h-2.2zM29.1 14.0h2.2v1.5h-2.2zM21.0 34.5h2.2v1.5h-2.2zM48.0 12.0h2.2v1.5h-2.2zM42.2 13.1h2.2v1.5h-2.2zM27.3 2.3h2.2v1.5h-2.2zM18.6 19.4h2.2v1.5h-2.2zM2.7 35.9h2.2v1.5h-2.2zM38.7 35.7h2.2v1.5h-2.2zM25.8 7.4h2.2v1.5h-2.2zM19.3 2.7h2.2v1.5h-2.2zM25.8 18.6h2.2v1.5h-2.2zM13.6 30.7h2.2v1.5h-2.2zM34.7 38.8h2.2v1.5h-2.2zM20.7 24.1h2.2v1.5h-2.2zM7.6 15.4h2.2v1.5h-2.2zM36.4 12.3h2.2v1.5h-2.2zM40.2 20.4h2.2v1.5h-2.2zM8.9 4.0h2.2v1.5h-2.2zM3.2 24.1h2.2v1.5h-2.2zM13.0 13.0h2.2v1.5h-2.2zM45.3 1.4h2.2v1.5h-2.2zM24.2 26.7h2.2v1.5h-2.2zM11.4 38.1h2.2v1.5h-2.2zM45.3 25.3h2.2v1.5h-2.2zM9.4 11.8h2.2v1.5h-2.2zM12.7 9.5h2.2v1.5h-2.2zM3.9 33.8h2.2v1.5h-2.2zM38.7 1.2h2.2v1.5h-2.2zM48.5 20.9h2.2v1.5h-2.2zM45.3 12.5h2.2v1.5h-2.2zM41.2 5.3h2.2v1.5h-2.2zM8.6 21.1h2.2v1.5h-2.2zM35.7 15.7h2.2v1.5h-2.2zM41.9 12.7h2.2v1.5h-2.2zM47.9 17.3h2.2v1.5h-2.2zM43.1 28.5h2.2v1.5h-2.2zM9.3 1.7h2.2v1.5h-2.2zM20.5 31.2h2.2v1.5h-2.2zM23.2 27.2h2.2v1.5h-2.2zM12.4 36.0h2.2v1.5h-2.2zM18.1 8.1h2.2v1.5h-2.2zM3.7 8.3h2.2v1.5h-2.2zM6.8 6.6h2.2v1.5h-2.2zM0.1 23.1h2.2v1.5h-2.2zM43.4 13.6h2.2v1.5h-2.2zM50.8 37.0h2.2v1.5h-2.2zM33.1 12.8h2.2v1.5h-2.2zM48.4 10.1h2.2v1.5h-2.2zM14.7 33.4h2.2v1.5h-2.2zM24.0 31.3h2.2v1.5h-2.2zM21.7 27.5h2.2v1.5h-2.2zM5.4 15.2h2.2v1.5h-2.2zM47.9 34.2h2.2v1.5h-2.2zM29.3 21.1h2.2v1.5h-2.2zM49.8 35.2h2.2v1.5h-2.2zM18.6 15.4h2.2v1.5h-2.2zM21.4 17.0h2.2v1.5h-2.2zM45.9 18.9h2.2v1.5h-2.2zM40.1 32.4h2.2v1.5h-2.2zM20.6 15.9h2.2v1.5h-2.2zM22.7 35.5h2.2v1.5h-2.2zM47.9 33.4h2.2v1.5h-2.2zM30.0 20.8h2.2v1.5h-2.2zM50.6 15.9h2.2v1.5h-2.2zM31.0 20.6h2.2v1.5h-2.2zM37.1 18.8h2.2v1.5h-2.2zM41.1 36.2h2.2v1.5h-2.2zM39.1 10.1h2.2v1.5h-2.2zM16.1 15.8h2.2v1.5h-2.2zM46.7 29.1h2.2v1.5h-2.2z" fill="#fff"/></pattern></defs>
<defs><radialGradient id="mk5g" gradientUnits="userSpaceOnUse" cx="0" cy="0" r="1" gradientTransform="translate(1387.2 673.7) rotate(-30) scale(62 40)"><stop offset="0" stop-color="#fff" stop-opacity="0.50"/><stop offset="0.55" stop-color="#fff" stop-opacity="0.40"/><stop offset="0.8" stop-color="#fff" stop-opacity="0.23"/><stop offset="1" stop-color="#fff" stop-opacity="0.00"/></radialGradient><mask id="mk5m" maskUnits="userSpaceOnUse" x="1285.2" y="571.7" width="204.0" height="204.0"><rect x="1285.2" y="571.7" width="204.0" height="204.0" fill="url(#mk5g)"/></mask><mask id="mk5" maskUnits="userSpaceOnUse" x="1285.2" y="571.7" width="204.0" height="204.0"><rect x="1285.2" y="571.7" width="204.0" height="204.0" fill="url(#pw3)" mask="url(#mk5m)"/></mask></defs>
<rect x="1285.2" y="571.7" width="204.0" height="204.0" fill="#b4b1bf" mask="url(#mk5)"/>
<defs><radialGradient id="mk6g" gradientUnits="userSpaceOnUse" cx="0" cy="0" r="1" gradientTransform="translate(1349.1 704.5) rotate(-10) scale(24 10)"><stop offset="0" stop-color="#fff" stop-opacity="0.85"/><stop offset="0.55" stop-color="#fff" stop-opacity="0.68"/><stop offset="0.8" stop-color="#fff" stop-opacity="0.38"/><stop offset="1" stop-color="#fff" stop-opacity="0.00"/></radialGradient><mask id="mk6m" maskUnits="userSpaceOnUse" x="1315.1" y="670.5" width="68.0" height="68.0"><rect x="1315.1" y="670.5" width="68.0" height="68.0" fill="url(#mk6g)"/></mask><mask id="mk6" maskUnits="userSpaceOnUse" x="1315.1" y="670.5" width="68.0" height="68.0"><rect x="1315.1" y="670.5" width="68.0" height="68.0" fill="url(#pw2)" mask="url(#mk6m)"/></mask></defs>
<rect x="1315.1" y="670.5" width="68.0" height="68.0" fill="#7a6ebc" mask="url(#mk6)"/>
<defs><radialGradient id="mk7g" gradientUnits="userSpaceOnUse" cx="0" cy="0" r="1" gradientTransform="translate(1339.6 696.8) rotate(0) scale(9 16)"><stop offset="0" stop-color="#fff" stop-opacity="0.70"/><stop offset="0.55" stop-color="#fff" stop-opacity="0.56"/><stop offset="0.8" stop-color="#fff" stop-opacity="0.32"/><stop offset="1" stop-color="#fff" stop-opacity="0.00"/></radialGradient><mask id="mk7m" maskUnits="userSpaceOnUse" x="1314.6" y="671.8" width="50.0" height="50.0"><rect x="1314.6" y="671.8" width="50.0" height="50.0" fill="url(#mk7g)"/></mask><mask id="mk7" maskUnits="userSpaceOnUse" x="1314.6" y="671.8" width="50.0" height="50.0"><rect x="1314.6" y="671.8" width="50.0" height="50.0" fill="url(#pw1)" mask="url(#mk7m)"/></mask></defs>
<rect x="1314.6" y="671.8" width="50.0" height="50.0" fill="#7a6ebc" mask="url(#mk7)"/>
<defs><radialGradient id="hz8" gradientUnits="userSpaceOnUse" cx="0" cy="0" r="1" gradientTransform="translate(1341.0 707.1) rotate(-30) scale(13 9)"><stop offset="0" stop-color="#5a4cb0" stop-opacity="0.7"/><stop offset="0.5" stop-color="#5a4cb0" stop-opacity="0.39"/><stop offset="1" stop-color="#5a4cb0" stop-opacity="0"/></radialGradient></defs>
<ellipse cx="1341.0" cy="707.1" rx="13" ry="9" transform="rotate(-30 1341.0 707.1)" fill="url(#hz8)"/>
</g>
<defs><radialGradient id="co9" gradientUnits="userSpaceOnUse" cx="0" cy="0" r="1" gradientTransform="translate(1338.2 710.1) scale(6.5 5)"><stop offset="0" stop-color="#d42a1a" stop-opacity="1"/><stop offset="0.25" stop-color="#e85a1c" stop-opacity="1"/><stop offset="0.42" stop-color="#f2d422" stop-opacity="1"/><stop offset="0.56" stop-color="#7cc43c" stop-opacity="1"/><stop offset="0.7" stop-color="#2a8aa0" stop-opacity="1"/><stop offset="0.84" stop-color="#3a2a90" stop-opacity="0.9"/><stop offset="1" stop-color="#4a3aa0" stop-opacity="0"/></radialGradient></defs>
<ellipse cx="1338.2" cy="710.1" rx="6.5" ry="5" fill="url(#co9)"/>
</g>
<line x1="1325.0" y1="721.4" x2="1547.0" y2="509.0" stroke="#111" stroke-width="2.4"/>
<rect x="1323.6" y="508.8" width="239.3" height="214.2" fill="none" stroke="#111" stroke-width="3.6"/>
<line x1="1317.3" y1="712.2" x2="1321.8" y2="712.2" stroke="#111" stroke-width="3.2"/>
<line x1="1332.8" y1="724.8" x2="1332.8" y2="728.6" stroke="#111" stroke-width="3.6"/>
<text x="1312.0" y="719.4" font-size="19.5" text-anchor="end">0</text>
<text x="1332.8" y="756.6" font-size="19.5" text-anchor="middle">0</text>
<line x1="1317.3" y1="660.8" x2="1321.8" y2="660.8" stroke="#111" stroke-width="3.2"/>
<line x1="1387.2" y1="724.8" x2="1387.2" y2="728.6" stroke="#111" stroke-width="3.6"/>
<text x="1312.0" y="668.0" font-size="19.5" text-anchor="end">2</text>
<text x="1387.2" y="756.6" font-size="19.5" text-anchor="middle">2</text>
<line x1="1317.3" y1="609.4" x2="1321.8" y2="609.4" stroke="#111" stroke-width="3.2"/>
<line x1="1441.6" y1="724.8" x2="1441.6" y2="728.6" stroke="#111" stroke-width="3.6"/>
<text x="1312.0" y="616.6" font-size="19.5" text-anchor="end">4</text>
<text x="1441.6" y="756.6" font-size="19.5" text-anchor="middle">4</text>
<line x1="1317.3" y1="558.0" x2="1321.8" y2="558.0" stroke="#111" stroke-width="3.2"/>
<line x1="1496.0" y1="724.8" x2="1496.0" y2="728.6" stroke="#111" stroke-width="3.6"/>
<text x="1312.0" y="565.2" font-size="19.5" text-anchor="end">6</text>
<text x="1496.0" y="756.6" font-size="19.5" text-anchor="middle">6</text>
<text x="1344.3" y="785.9" font-size="26.3" textLength="179.0" lengthAdjust="spacingAndGlyphs">DNase-I Signal</text>
<text x="1281.4" y="678.1" font-size="28" textLength="117.0" lengthAdjust="spacingAndGlyphs" transform="rotate(-90 1281.4 678.1)">Predicted</text>
<text x="1333.2" y="542.3" font-size="27.4" textLength="15.0" lengthAdjust="spacingAndGlyphs">R</text>
<text x="1354.6" y="532.6" font-size="19.5">2</text>
<text x="1374.3" y="542.3" font-size="27.4" textLength="16.5" lengthAdjust="spacingAndGlyphs">=</text>
<text x="1400.5" y="542.3" font-size="27.4" textLength="51.0" lengthAdjust="spacingAndGlyphs">0.47</text>
<text x="1434.6" y="493.5" font-size="27.4" text-anchor="middle" textLength="58.4" lengthAdjust="spacingAndGlyphs">RFX5</text>
<defs><clipPath id="cl13"><rect x="1325.4" y="893.6" width="235.7" height="210.6"/></clipPath></defs>
<g clip-path="url(#cl13)">
<defs><clipPath id="q13"><rect x="1329.5" y="890.0" width="235.2" height="207.3"/></clipPath></defs>
<g clip-path="url(#q13)">
<defs><radialGradient id="mk10g" gradientUnits="userSpaceOnUse" cx="0" cy="0" r="1" gradientTransform="translate(1392.6 1054.1) rotate(-25) scale(70 44)"><stop offset="0" stop-color="#fff" stop-opacity="0.85"/><stop offset="0.55" stop-color="#fff" stop-opacity="0.68"/><stop offset="0.8" stop-color="#fff" stop-opacity="0.38"/><stop offset="1" stop-color="#fff" stop-opacity="0.00"/></radialGradient><mask id="mk10m" maskUnits="userSpaceOnUse" x="1278.6" y="940.1" width="228.0" height="228.0"><rect x="1278.6" y="940.1" width="228.0" height="228.0" fill="url(#mk10g)"/></mask><mask id="mk10" maskUnits="userSpaceOnUse" x="1278.6" y="940.1" width="228.0" height="228.0"><rect x="1278.6" y="940.1" width="228.0" height="228.0" fill="url(#pw2)" mask="url(#mk10m)"/></mask></defs>
<rect x="1278.6" y="940.1" width="228.0" height="228.0" fill="#b4b1bf" mask="url(#mk10)"/>
<defs><radialGradient id="mk11g" gradientUnits="userSpaceOnUse" cx="0" cy="0" r="1" gradientTransform="translate(1360.0 1074.6) rotate(-35) scale(40 24)"><stop offset="0" stop-color="#fff" stop-opacity="0.90"/><stop offset="0.55" stop-color="#fff" stop-opacity="0.72"/><stop offset="0.8" stop-color="#fff" stop-opacity="0.41"/><stop offset="1" stop-color="#fff" stop-opacity="0.00"/></radialGradient><mask id="mk11m" maskUnits="userSpaceOnUse" x="1296.0" y="1010.6" width="128.0" height="128.0"><rect x="1296.0" y="1010.6" width="128.0" height="128.0" fill="url(#mk11g)"/></mask><mask id="mk11" maskUnits="userSpaceOnUse" x="1296.0" y="1010.6" width="128.0" height="128.0"><rect x="1296.0" y="1010.6" width="128.0" height="128.0" fill="url(#pw2)" mask="url(#mk11m)"/></mask></defs>
<rect x="1296.0" y="1010.6" width="128.0" height="128.0" fill="#9a92cc" mask="url(#mk11)"/>
<defs><radialGradient id="hz12" gradientUnits="userSpaceOnUse" cx="0" cy="0" r="1" gradientTransform="translate(1346.4 1083.6) rotate(-40) scale(30 17)"><stop offset="0" stop-color="#5a4ab8" stop-opacity="0.85"/><stop offset="0.5" stop-color="#5a4ab8" stop-opacity="0.47"/><stop offset="1" stop-color="#5a4ab8" stop-opacity="0"/></radialGradient></defs>
<ellipse cx="1346.4" cy="1083.6" rx="30" ry="17" transform="rotate(-40 1346.4 1083.6)" fill="url(#hz12)"/>
<defs><radialGradient id="hz13" gradientUnits="userSpaceOnUse" cx="0" cy="0" r="1" gradientTransform="translate(1360.0 1090.1) rotate(-3) scale(28 8)"><stop offset="0" stop-color="#5a4ab8" stop-opacity="0.6"/><stop offset="0.5" stop-color="#5a4ab8" stop-opacity="0.33"/><stop offset="1" stop-color="#5a4ab8" stop-opacity="0"/></radialGradient></defs>
<ellipse cx="1360.0" cy="1090.1" rx="28" ry="8" transform="rotate(-3 1360.0 1090.1)" fill="url(#hz13)"/>
</g>
<defs><radialGradient id="co14" gradientUnits="userSpaceOnUse" cx="0" cy="0" r="1" gradientTransform="translate(1340.4 1094.2) scale(9.5 6.5)"><stop offset="0" stop-color="#d42a1a" stop-opacity="1"/><stop offset="0.25" stop-color="#e85a1c" stop-opacity="1"/><stop offset="0.42" stop-color="#f2d422" stop-opacity="1"/><stop offset="0.56" stop-color="#7cc43c" stop-opacity="1"/><stop offset="0.7" stop-color="#2a8aa0" stop-opacity="1"/><stop offset="0.84" stop-color="#3a2a90" stop-opacity="0.9"/><stop offset="1" stop-color="#4a3aa0" stop-opacity="0"/></radialGradient></defs>
<ellipse cx="1340.4" cy="1094.2" rx="9.5" ry="6.5" fill="url(#co14)"/>
</g>
<g transform="translate(1361.4 1088.0) scale(0.95) rotate(-35)" fill="#ec5a5a"><rect x="4" y="-1.2" width="14" height="2.4"/><path d="M-2,0 L7,-5.5 L7,5.5 Z"/></g>
<line x1="1325.0" y1="1104.4" x2="1547.0" y2="892.0" stroke="#111" stroke-width="2.4"/>
<rect x="1323.6" y="891.8" width="239.3" height="214.2" fill="none" stroke="#111" stroke-width="3.6"/>
<line x1="1317.3" y1="1095.2" x2="1321.8" y2="1095.2" stroke="#111" stroke-width="3.2"/>
<line x1="1332.8" y1="1107.8" x2="1332.8" y2="1111.6" stroke="#111" stroke-width="3.6"/>
<text x="1312.0" y="1102.4" font-size="19.5" text-anchor="end">0</text>
<text x="1332.8" y="1139.6" font-size="19.5" text-anchor="middle">0</text>
<line x1="1317.3" y1="1043.8" x2="1321.8" y2="1043.8" stroke="#111" stroke-width="3.2"/>
<line x1="1387.2" y1="1107.8" x2="1387.2" y2="1111.6" stroke="#111" stroke-width="3.6"/>
<text x="1312.0" y="1051.0" font-size="19.5" text-anchor="end">2</text>
<text x="1387.2" y="1139.6" font-size="19.5" text-anchor="middle">2</text>
<line x1="1317.3" y1="992.4" x2="1321.8" y2="992.4" stroke="#111" stroke-width="3.2"/>
<line x1="1441.6" y1="1107.8" x2="1441.6" y2="1111.6" stroke="#111" stroke-width="3.6"/>
<text x="1312.0" y="999.6" font-size="19.5" text-anchor="end">4</text>
<text x="1441.6" y="1139.6" font-size="19.5" text-anchor="middle">4</text>
<line x1="1317.3" y1="941.0" x2="1321.8" y2="941.0" stroke="#111" stroke-width="3.2"/>
<line x1="1496.0" y1="1107.8" x2="1496.0" y2="1111.6" stroke="#111" stroke-width="3.6"/>
<text x="1312.0" y="948.2" font-size="19.5" text-anchor="end">6</text>
<text x="1496.0" y="1139.6" font-size="19.5" text-anchor="middle">6</text>
<text x="1344.3" y="1168.9" font-size="26.3" textLength="179.0" lengthAdjust="spacingAndGlyphs">DNase-I Signal</text>
<text x="1281.4" y="1061.1" font-size="28" textLength="117.0" lengthAdjust="spacingAndGlyphs" transform="rotate(-90 1281.4 1061.1)">Predicted</text>
<text x="1333.2" y="925.3" font-size="27.4" textLength="15.0" lengthAdjust="spacingAndGlyphs">R</text>
<text x="1354.6" y="915.6" font-size="19.5">2</text>
<text x="1374.3" y="925.3" font-size="27.4" textLength="16.5" lengthAdjust="spacingAndGlyphs">=</text>
<text x="1400.5" y="925.3" font-size="27.4" textLength="51.0" lengthAdjust="spacingAndGlyphs">0.38</text>
<text x="1435.9" y="876.5" font-size="27.4" text-anchor="middle" textLength="86.4" lengthAdjust="spacingAndGlyphs">HDAC2</text>
<defs><clipPath id="cl14"><rect x="1835.4" y="155.2" width="235.7" height="210.6"/></clipPath></defs>
<g clip-path="url(#cl14)">
<defs><clipPath id="q14"><rect x="1839.5" y="151.6" width="235.2" height="207.3"/></clipPath></defs>
<g clip-path="url(#q14)">
<defs><radialGradient id="mk15g" gradientUnits="userSpaceOnUse" cx="0" cy="0" r="1" gradientTransform="translate(1951.6 279.7) rotate(-28) scale(100 60)"><stop offset="0" stop-color="#fff" stop-opacity="0.50"/><stop offset="0.55" stop-color="#fff" stop-opacity="0.40"/><stop offset="0.8" stop-color="#fff" stop-opacity="0.23"/><stop offset="1" stop-color="#fff" stop-opacity="0.00"/></radialGradient><mask id="mk15m" maskUnits="userSpaceOnUse" x="1791.6" y="119.7" width="320.0" height="320.0"><rect x="1791.6" y="119.7" width="320.0" height="320.0" fill="url(#mk15g)"/></mask><mask id="mk15" maskUnits="userSpaceOnUse" x="1791.6" y="119.7" width="320.0" height="320.0"><rect x="1791.6" y="119.7" width="320.0" height="320.0" fill="url(#pw3)" mask="url(#mk15m)"/></mask></defs>
<rect x="1791.6" y="119.7" width="320.0" height="320.0" fill="#bcb8c8" mask="url(#mk15)"/>
<defs><radialGradient id="mk16g" gradientUnits="userSpaceOnUse" cx="0" cy="0" r="1" gradientTransform="translate(1889.0 322.1) rotate(-30) scale(64 40)"><stop offset="0" stop-color="#fff" stop-opacity="0.90"/><stop offset="0.55" stop-color="#fff" stop-opacity="0.72"/><stop offset="0.8" stop-color="#fff" stop-opacity="0.41"/><stop offset="1" stop-color="#fff" stop-opacity="0.00"/></radialGradient><mask id="mk16m" maskUnits="userSpaceOnUse" x="1785.0" y="218.1" width="208.0" height="208.0"><rect x="1785.0" y="218.1" width="208.0" height="208.0" fill="url(#mk16g)"/></mask><mask id="mk16" maskUnits="userSpaceOnUse" x="1785.0" y="218.1" width="208.0" height="208.0"><rect x="1785.0" y="218.1" width="208.0" height="208.0" fill="url(#pw2)" mask="url(#mk16m)"/></mask></defs>
<rect x="1785.0" y="218.1" width="208.0" height="208.0" fill="#3b2f9a" mask="url(#mk16)"/>
<defs><radialGradient id="mk17g" gradientUnits="userSpaceOnUse" cx="0" cy="0" r="1" gradientTransform="translate(1864.6 338.8) rotate(-40) scale(34 22)"><stop offset="0" stop-color="#fff" stop-opacity="0.90"/><stop offset="0.55" stop-color="#fff" stop-opacity="0.72"/><stop offset="0.8" stop-color="#fff" stop-opacity="0.41"/><stop offset="1" stop-color="#fff" stop-opacity="0.00"/></radialGradient><mask id="mk17m" maskUnits="userSpaceOnUse" x="1808.6" y="282.8" width="112.0" height="112.0"><rect x="1808.6" y="282.8" width="112.0" height="112.0" fill="url(#mk17g)"/></mask><mask id="mk17" maskUnits="userSpaceOnUse" x="1808.6" y="282.8" width="112.0" height="112.0"><rect x="1808.6" y="282.8" width="112.0" height="112.0" fill="url(#pw2)" mask="url(#mk17m)"/></mask></defs>
<rect x="1808.6" y="282.8" width="112.0" height="112.0" fill="#3b2f9a" mask="url(#mk17)"/>
<defs><radialGradient id="hz18" gradientUnits="userSpaceOnUse" cx="0" cy="0" r="1" gradientTransform="translate(1855.0 347.8) rotate(-35) scale(22 14)"><stop offset="0" stop-color="#3a2a98" stop-opacity="0.75"/><stop offset="0.5" stop-color="#3a2a98" stop-opacity="0.41"/><stop offset="1" stop-color="#3a2a98" stop-opacity="0"/></radialGradient></defs>
<ellipse cx="1855.0" cy="347.8" rx="22" ry="14" transform="rotate(-35 1855.0 347.8)" fill="url(#hz18)"/>
</g>
<defs><linearGradient id="co19" gradientUnits="userSpaceOnUse" x1="1843.6" y1="0" x2="1868.6" y2="0"><stop offset="0" stop-color="#d02a1a" stop-opacity="1"/><stop offset="0.12" stop-color="#e4481c" stop-opacity="1"/><stop offset="0.24" stop-color="#f0c020" stop-opacity="1"/><stop offset="0.33" stop-color="#9ccc34" stop-opacity="1"/><stop offset="0.42" stop-color="#3aa87a" stop-opacity="1"/><stop offset="0.52" stop-color="#2a5a9a" stop-opacity="1"/><stop offset="0.62" stop-color="#36268c" stop-opacity="1"/><stop offset="0.78" stop-color="#5a4aa8" stop-opacity="0.8"/><stop offset="1" stop-color="#9a90c8" stop-opacity="0"/></linearGradient></defs>
<path d="M1849.6,347.7 C1852.4,347.7 1858.6,350.4 1868.6,352.8 L1868.6,356.4 C1858.6,358.5 1852.4,359.7 1849.6,359.7 A6.0,6.0 0 0 1 1849.6,347.7 Z" fill="url(#co19)"/>
</g>
<line x1="1835.0" y1="366.0" x2="2057.0" y2="153.6" stroke="#111" stroke-width="2.4"/>
<rect x="1833.6" y="153.4" width="239.3" height="214.2" fill="none" stroke="#111" stroke-width="3.6"/>
<line x1="1827.3" y1="356.8" x2="1831.8" y2="356.8" stroke="#111" stroke-width="3.2"/>
<line x1="1842.8" y1="369.4" x2="1842.8" y2="373.2" stroke="#111" stroke-width="3.6"/>
<text x="1822.0" y="364.0" font-size="19.5" text-anchor="end">0</text>
<text x="1842.8" y="401.2" font-size="19.5" text-anchor="middle">0</text>
<line x1="1827.3" y1="305.4" x2="1831.8" y2="305.4" stroke="#111" stroke-width="3.2"/>
<line x1="1897.2" y1="369.4" x2="1897.2" y2="373.2" stroke="#111" stroke-width="3.6"/>
<text x="1822.0" y="312.6" font-size="19.5" text-anchor="end">2</text>
<text x="1897.2" y="401.2" font-size="19.5" text-anchor="middle">2</text>
<line x1="1827.3" y1="254.0" x2="1831.8" y2="254.0" stroke="#111" stroke-width="3.2"/>
<line x1="1951.6" y1="369.4" x2="1951.6" y2="373.2" stroke="#111" stroke-width="3.6"/>
<text x="1822.0" y="261.2" font-size="19.5" text-anchor="end">4</text>
<text x="1951.6" y="401.2" font-size="19.5" text-anchor="middle">4</text>
<line x1="1827.3" y1="202.6" x2="1831.8" y2="202.6" stroke="#111" stroke-width="3.2"/>
<line x1="2006.0" y1="369.4" x2="2006.0" y2="373.2" stroke="#111" stroke-width="3.6"/>
<text x="1822.0" y="209.8" font-size="19.5" text-anchor="end">6</text>
<text x="2006.0" y="401.2" font-size="19.5" text-anchor="middle">6</text>
<text x="1854.3" y="430.5" font-size="26.3" textLength="179.0" lengthAdjust="spacingAndGlyphs">DNase-I Signal</text>
<text x="1791.4" y="322.7" font-size="28" textLength="117.0" lengthAdjust="spacingAndGlyphs" transform="rotate(-90 1791.4 322.7)">Predicted</text>
<text x="1843.2" y="186.9" font-size="27.4" textLength="15.0" lengthAdjust="spacingAndGlyphs">R</text>
<text x="1864.6" y="177.2" font-size="19.5">2</text>
<text x="1884.3" y="186.9" font-size="27.4" textLength="16.5" lengthAdjust="spacingAndGlyphs">=</text>
<text x="1910.5" y="186.9" font-size="27.4" textLength="51.0" lengthAdjust="spacingAndGlyphs">0.51</text>
<text x="1949.4" y="132.1" font-size="29.5" text-anchor="middle" textLength="50.3" lengthAdjust="spacingAndGlyphs">SP1</text>
<defs><clipPath id="cl15"><rect x="1835.4" y="510.6" width="235.7" height="210.6"/></clipPath></defs>
<g clip-path="url(#cl15)">
<defs><clipPath id="q15"><rect x="1839.5" y="507.0" width="235.2" height="207.3"/></clipPath></defs>
<g clip-path="url(#q15)">
<defs><pattern id="pw4" width="53" height="41" patternUnits="userSpaceOnUse"><path d="M21.5 38.6h2.2v1.5h-2.2zM31.3 27.4h2.2v1.5h-2.2zM26.0 7.4h2.2v1.5h-2.2zM42.3 33.4h2.2v1.5h-2.2zM10.7 25.7h2.2v1.5h-2.2zM35.7 28.2h2.2v1.5h-2.2zM41.3 33.4h2.2v1.5h-2.2zM18.8 20.0h2.2v1.5h-2.2zM36.8 5.7h2.2v1.5h-2.2zM1.4 6.1h2.2v1.5h-2.2zM42.7 12.8h2.2v1.5h-2.2zM15.4 4.7h2.2v1.5h-2.2zM6.2 38.2h2.2v1.5h-2.2zM2.6 38.9h2.2v1.5h-2.2zM28.2 9.8h2.2v1.5h-2.2zM0.8 34.8h2.2v1.5h-2.2zM19.9 37.5h2.2v1.5h-2.2zM3.0 31.5h2.2v1.5h-2.2zM33.7 31.9h2.2v1.5h-2.2zM25.0 28.4h2.2v1.5h-2.2zM22.4 9.3h2.2v1.5h-2.2zM6.7 18.7h2.2v1.5h-2.2zM37.6 0.8h2.2v1.5h-2.2zM7.8 36.3h2.2v1.5h-2.2zM27.2 21.9h2.2v1.5h-2.2zM31.0 5.8h2.2v1.5h-2.2zM22.5 15.4h2.2v1.5h-2.2zM36.8 19.4h2.2v1.5h-2.2zM33.5 36.3h2.2v1.5h-2.2zM24.8 31.5h2.2v1.5h-2.2zM28.8 38.0h2.2v1.5h-2.2zM24.3 9.8h2.2v1.5h-2.2zM48.4 29.3h2.2v1.5h-2.2zM7.3 14.2h2.2v1.5h-2.2zM25.2 2.1h2.2v1.5h-2.2zM11.1 4.4h2.2v1.5h-2.2zM5.6 3.3h2.2v1.5h-2.2zM43.6 33.1h2.2v1.5h-2.2zM25.3 13.4h2.2v1.5h-2.2zM45.1 30.5h2.2v1.5h-2.2zM22.3 14.4h2.2v1.5h-2.2zM51.0 0.5h2.2v1.5h-2.2zM34.9 22.8h2.2v1.5h-2.2zM14.3 20.7h2.2v1.5h-2.2zM10.0 27.4h2.2v1.5h-2.2zM34.4 27.1h2.2v1.5h-2.2zM30.8 1.5h2.2v1.5h-2.2zM0.4 29.6h2.2v1.5h-2.2zM50.8 26.7h2.2v1.5h-2.2zM49.1 34.9h2.2v1.5h-2.2zM22.1 23.1h2.2v1.5h-2.2zM48.4 1.2h2.2v1.5h-2.2zM10.9 32.1h2.2v1.5h-2.2zM49.6 4.2h2.2v1.5h-2.2zM28.2 37.6h2.2v1.5h-2.2zM37.0 34.0h2.2v1.5h-2.2zM12.3 15.3h2.2v1.5h-2.2zM38.0 9.8h2.2v1.5h-2.2zM17.2 35.9h2.2v1.5h-2.2zM46.1 21.1h2.2v1.5h-2.2zM31.9 35.0h2.2v1.5h-2.2zM0.6 7.5h2.2v1.5h-2.2zM16.1 33.0h2.2v1.5h-2.2zM45.4 20.6h2.2v1.5h-2.2zM41.5 0.7h2.2v1.5h-2.2zM27.4 17.8h2.2v1.5h-2.2zM34.1 4.1h2.2v1.5h-2.2zM11.4 10.6h2.2v1.5h-2.2zM31.4 9.4h2.2v1.5h-2.2zM20.9 22.5h2.2v1.5h-2.2zM31.4 38.7h2.2v1.5h-2.2zM15.4 1.2h2.2v1.5h-2.2zM47.0 24.6h2.2v1.5h-2.2zM43.4 17.4h2.2v1.5h-2.2zM31.1 9.5h2.2v1.5h-2.2zM39.2 25.5h2.2v1.5h-2.2zM23.7 23.6h2.2v1.5h-2.2zM26.4 4.2h2.2v1.5h-2.2zM19.1 13.6h2.2v1.5h-2.2zM45.0 20.0h2.2v1.5h-2.2zM5.0 12.3h2.2v1.5h-2.2zM4.9 5.2h2.2v1.5h-2.2zM32.1 17.8h2.2v1.5h-2.2zM28.7 5.4h2.2v1.5h-2.2zM24.7 39.3h2.2v1.5h-2.2zM45.7 27.1h2.2v1.5h-2.2zM48.2 7.2h2.2v1.5h-2.2zM13.3 29.1h2.2v1.5h-2.2zM47.9 2.3h2.2v1.5h-2.2zM37.4 28.9h2.2v1.5h-2.2zM25.4 7.5h2.2v1.5h-2.2zM34.8 36.7h2.2v1.5h-2.2zM49.4 12.2h2.2v1.5h-2.2zM29.6 21.7h2.2v1.5h-2.2zM42.7 11.7h2.2v1.5h-2.2zM14.8 1.1h2.2v1.5h-2.2zM11.0 30.7h2.2v1.5h-2.2zM43.7 39.2h2.2v1.5h-2.2zM2.6 11.7h2.2v1.5h-2.2zM30.0 3.5h2.2v1.5h-2.2zM29.3 28.0h2.2v1.5h-2.2zM28.8 20.1h2.2v1.5h-2.2zM20.3 21.6h2.2v1.5h-2.2zM47.8 14.4h2.2v1.5h-2.2zM23.9 32.5h2.2v1.5h-2.2zM23.6 1.3h2.2v1.5h-2.2zM0.8 6.2h2.2v1.5h-2.2zM43.3 34.7h2.2v1.5h-2.2zM20.8 15.3h2.2v1.5h-2.2zM50.8 12.7h2.2v1.5h-2.2zM9.0 8.0h2.2v1.5h-2.2zM10.1 11.1h2.2v1.5h-2.2zM24.8 22.6h2.2v1.5h-2.2zM39.0 5.2h2.2v1.5h-2.2zM41.7 7.8h2.2v1.5h-2.2zM28.5 39.2h2.2v1.5h-2.2zM21.0 30.2h2.2v1.5h-2.2zM29.9 7.9h2.2v1.5h-2.2zM29.0 3.2h2.2v1.5h-2.2zM41.8 35.7h2.2v1.5h-2.2zM45.3 39.4h2.2v1.5h-2.2zM23.5 0.9h2.2v1.5h-2.2zM28.1 21.2h2.2v1.5h-2.2zM49.4 32.2h2.2v1.5h-2.2zM27.1 17.0h2.2v1.5h-2.2zM22.7 1.1h2.2v1.5h-2.2zM28.4 14.0h2.2v1.5h-2.2zM40.3 2.7h2.2v1.5h-2.2zM20.3 3.0h2.2v1.5h-2.2zM50.8 16.1h2.2v1.5h-2.2zM9.5 23.2h2.2v1.5h-2.2zM12.4 3.4h2.2v1.5h-2.2zM38.3 38.0h2.2v1.5h-2.2zM0.5 8.9h2.2v1.5h-2.2zM10.1 9.6h2.2v1.5h-2.2zM20.6 1.0h2.2v1.5h-2.2zM44.1 3.1h2.2v1.5h-2.2zM43.2 5.3h2.2v1.5h-2.2zM45.8 17.2h2.2v1.5h-2.2zM38.9 28.1h2.2v1.5h-2.2zM26.0 18.7h2.2v1.5h-2.2zM44.4 32.8h2.2v1.5h-2.2zM6.8 37.3h2.2v1.5h-2.2zM16.4 18.2h2.2v1.5h-2.2zM30.6 32.3h2.2v1.5h-2.2zM10.7 18.9h2.2v1.5h-2.2zM44.2 16.3h2.2v1.5h-2.2zM22.1 18.9h2.2v1.5h-2.2zM46.8 37.5h2.2v1.5h-2.2zM39.0 27.2h2.2v1.5h-2.2zM22.4 17.1h2.2v1.5h-2.2zM42.0 18.2h2.2v1.5h-2.2zM45.6 29.6h2.2v1.5h-2.2zM40.9 17.2h2.2v1.5h-2.2zM17.8 25.3h2.2v1.5h-2.2zM35.2 17.8h2.2v1.5h-2.2zM20.0 37.5h2.2v1.5h-2.2zM45.3 0.4h2.2v1.5h-2.2zM8.9 1.3h2.2v1.5h-2.2zM46.1 7.6h2.2v1.5h-2.2zM24.2 27.1h2.2v1.5h-2.2zM22.0 7.0h2.2v1.5h-2.2zM12.6 15.4h2.2v1.5h-2.2zM7.8 14.1h2.2v1.5h-2.2zM26.1 8.5h2.2v1.5h-2.2zM43.4 26.4h2.2v1.5h-2.2zM35.9 4.1h2.2v1.5h-2.2zM31.9 24.3h2.2v1.5h-2.2zM2.6 24.2h2.2v1.5h-2.2zM12.6 20.4h2.2v1.5h-2.2zM26.8 13.2h2.2v1.5h-2.2zM8.3 33.5h2.2v1.5h-2.2zM16.2 24.9h2.2v1.5h-2.2zM13.6 36.5h2.2v1.5h-2.2zM33.0 6.2h2.2v1.5h-2.2zM22.4 33.0h2.2v1.5h-2.2zM45.3 20.3h2.2v1.5h-2.2zM28.6 29.9h2.2v1.5h-2.2zM22.2 6.4h2.2v1.5h-2.2zM37.5 14.1h2.2v1.5h-2.2zM4.9 35.4h2.2v1.5h-2.2z" fill="#fff"/></pattern></defs>
<defs><radialGradient id="mk20g" gradientUnits="userSpaceOnUse" cx="0" cy="0" r="1" gradientTransform="translate(1932.6 645.4) rotate(-30) scale(90 52)"><stop offset="0" stop-color="#fff" stop-opacity="0.40"/><stop offset="0.55" stop-color="#fff" stop-opacity="0.32"/><stop offset="0.8" stop-color="#fff" stop-opacity="0.18"/><stop offset="1" stop-color="#fff" stop-opacity="0.00"/></radialGradient><mask id="mk20m" maskUnits="userSpaceOnUse" x="1790.6" y="503.4" width="284.0" height="284.0"><rect x="1790.6" y="503.4" width="284.0" height="284.0" fill="url(#mk20g)"/></mask><mask id="mk20" maskUnits="userSpaceOnUse" x="1790.6" y="503.4" width="284.0" height="284.0"><rect x="1790.6" y="503.4" width="284.0" height="284.0" fill="url(#pw4)" mask="url(#mk20m)"/></mask></defs>
<rect x="1790.6" y="503.4" width="284.0" height="284.0" fill="#c4c0cc" mask="url(#mk20)"/>
<defs><radialGradient id="mk21g" gradientUnits="userSpaceOnUse" cx="0" cy="0" r="1" gradientTransform="translate(1875.4 683.9) rotate(-42) scale(52 32)"><stop offset="0" stop-color="#fff" stop-opacity="0.85"/><stop offset="0.55" stop-color="#fff" stop-opacity="0.68"/><stop offset="0.8" stop-color="#fff" stop-opacity="0.38"/><stop offset="1" stop-color="#fff" stop-opacity="0.00"/></radialGradient><mask id="mk21m" maskUnits="userSpaceOnUse" x="1791.4" y="599.9" width="168.0" height="168.0"><rect x="1791.4" y="599.9" width="168.0" height="168.0" fill="url(#mk21g)"/></mask><mask id="mk21" maskUnits="userSpaceOnUse" x="1791.4" y="599.9" width="168.0" height="168.0"><rect x="1791.4" y="599.9" width="168.0" height="168.0" fill="url(#pw2)" mask="url(#mk21m)"/></mask></defs>
<rect x="1791.4" y="599.9" width="168.0" height="168.0" fill="#8c82c8" mask="url(#mk21)"/>
<defs><radialGradient id="mk22g" gradientUnits="userSpaceOnUse" cx="0" cy="0" r="1" gradientTransform="translate(1856.4 701.9) rotate(-45) scale(24 16)"><stop offset="0" stop-color="#fff" stop-opacity="0.80"/><stop offset="0.55" stop-color="#fff" stop-opacity="0.64"/><stop offset="0.8" stop-color="#fff" stop-opacity="0.36"/><stop offset="1" stop-color="#fff" stop-opacity="0.00"/></radialGradient><mask id="mk22m" maskUnits="userSpaceOnUse" x="1816.4" y="661.9" width="80.0" height="80.0"><rect x="1816.4" y="661.9" width="80.0" height="80.0" fill="url(#mk22g)"/></mask><mask id="mk22" maskUnits="userSpaceOnUse" x="1816.4" y="661.9" width="80.0" height="80.0"><rect x="1816.4" y="661.9" width="80.0" height="80.0" fill="url(#pw2)" mask="url(#mk22m)"/></mask></defs>
<rect x="1816.4" y="661.9" width="80.0" height="80.0" fill="#5a4cb0" mask="url(#mk22)"/>
<defs><radialGradient id="hz23" gradientUnits="userSpaceOnUse" cx="0" cy="0" r="1" gradientTransform="translate(1851.0 705.8) rotate(-40) scale(18 12)"><stop offset="0" stop-color="#4a3aa8" stop-opacity="0.8"/><stop offset="0.5" stop-color="#4a3aa8" stop-opacity="0.44"/><stop offset="1" stop-color="#4a3aa8" stop-opacity="0"/></radialGradient></defs>
<ellipse cx="1851.0" cy="705.8" rx="18" ry="12" transform="rotate(-40 1851.0 705.8)" fill="url(#hz23)"/>
</g>
<defs><radialGradient id="co24" gradientUnits="userSpaceOnUse" cx="0" cy="0" r="1" gradientTransform="translate(1849.6 710.7) scale(10 7.5)"><stop offset="0" stop-color="#d42a1a" stop-opacity="1"/><stop offset="0.25" stop-color="#e85a1c" stop-opacity="1"/><stop offset="0.42" stop-color="#f2d422" stop-opacity="1"/><stop offset="0.56" stop-color="#7cc43c" stop-opacity="1"/><stop offset="0.7" stop-color="#2a8aa0" stop-opacity="1"/><stop offset="0.84" stop-color="#3a2a90" stop-opacity="0.9"/><stop offset="1" stop-color="#4a3aa0" stop-opacity="0"/></radialGradient></defs>
<ellipse cx="1849.6" cy="710.7" rx="10" ry="7.5" fill="url(#co24)"/>
</g>
<line x1="1835.0" y1="721.4" x2="2057.0" y2="509.0" stroke="#111" stroke-width="2.4"/>
<rect x="1833.6" y="508.8" width="239.3" height="214.2" fill="none" stroke="#111" stroke-width="3.6"/>
<line x1="1827.3" y1="712.2" x2="1831.8" y2="712.2" stroke="#111" stroke-width="3.2"/>
<line x1="1842.8" y1="724.8" x2="1842.8" y2="728.6" stroke="#111" stroke-width="3.6"/>
<text x="1822.0" y="719.4" font-size="19.5" text-anchor="end">0</text>
<text x="1842.8" y="756.6" font-size="19.5" text-anchor="middle">0</text>
<line x1="1827.3" y1="660.8" x2="1831.8" y2="660.8" stroke="#111" stroke-width="3.2"/>
<line x1="1897.2" y1="724.8" x2="1897.2" y2="728.6" stroke="#111" stroke-width="3.6"/>
<text x="1822.0" y="668.0" font-size="19.5" text-anchor="end">2</text>
<text x="1897.2" y="756.6" font-size="19.5" text-anchor="middle">2</text>
<line x1="1827.3" y1="609.4" x2="1831.8" y2="609.4" stroke="#111" stroke-width="3.2"/>
<line x1="1951.6" y1="724.8" x2="1951.6" y2="728.6" stroke="#111" stroke-width="3.6"/>
<text x="1822.0" y="616.6" font-size="19.5" text-anchor="end">4</text>
<text x="1951.6" y="756.6" font-size="19.5" text-anchor="middle">4</text>
<line x1="1827.3" y1="558.0" x2="1831.8" y2="558.0" stroke="#111" stroke-width="3.2"/>
<line x1="2006.0" y1="724.8" x2="2006.0" y2="728.6" stroke="#111" stroke-width="3.6"/>
<text x="1822.0" y="565.2" font-size="19.5" text-anchor="end">6</text>
<text x="2006.0" y="756.6" font-size="19.5" text-anchor="middle">6</text>
<text x="1854.3" y="785.9" font-size="26.3" textLength="179.0" lengthAdjust="spacingAndGlyphs">DNase-I Signal</text>
<text x="1791.4" y="678.1" font-size="28" textLength="117.0" lengthAdjust="spacingAndGlyphs" transform="rotate(-90 1791.4 678.1)">Predicted</text>
<text x="1843.2" y="542.3" font-size="27.4" textLength="15.0" lengthAdjust="spacingAndGlyphs">R</text>
<text x="1864.6" y="532.6" font-size="19.5">2</text>
<text x="1884.3" y="542.3" font-size="27.4" textLength="16.5" lengthAdjust="spacingAndGlyphs">=</text>
<text x="1910.5" y="542.3" font-size="27.4" textLength="51.0" lengthAdjust="spacingAndGlyphs">0.62</text>
<text x="1944.8" y="493.5" font-size="27.4" text-anchor="middle" textLength="46.0" lengthAdjust="spacingAndGlyphs">TBP</text>
<defs><clipPath id="cl16"><rect x="1835.4" y="893.6" width="235.7" height="210.6"/></clipPath></defs>
<g clip-path="url(#cl16)">
<defs><clipPath id="q16"><rect x="1839.5" y="890.0" width="235.2" height="207.3"/></clipPath></defs>
<g clip-path="url(#q16)">
<defs><pattern id="pw5" width="53" height="41" patternUnits="userSpaceOnUse"><path d="M24.6 35.6h2.2v1.5h-2.2zM27.4 34.6h2.2v1.5h-2.2zM29.2 39.3h2.2v1.5h-2.2zM18.2 26.1h2.2v1.5h-2.2zM24.9 22.6h2.2v1.5h-2.2zM16.5 31.9h2.2v1.5h-2.2zM41.2 26.1h2.2v1.5h-2.2zM29.6 1.7h2.2v1.5h-2.2zM39.4 13.4h2.2v1.5h-2.2zM4.8 9.2h2.2v1.5h-2.2zM15.0 4.8h2.2v1.5h-2.2zM24.1 34.5h2.2v1.5h-2.2zM30.3 15.5h2.2v1.5h-2.2zM18.2 33.4h2.2v1.5h-2.2zM36.4 21.4h2.2v1.5h-2.2zM13.6 36.7h2.2v1.5h-2.2zM33.9 33.5h2.2v1.5h-2.2zM14.0 23.7h2.2v1.5h-2.2zM23.3 13.1h2.2v1.5h-2.2zM41.4 23.6h2.2v1.5h-2.2zM50.7 32.7h2.2v1.5h-2.2zM0.9 24.1h2.2v1.5h-2.2zM14.7 31.5h2.2v1.5h-2.2zM41.7 7.5h2.2v1.5h-2.2zM47.2 21.2h2.2v1.5h-2.2zM42.7 25.0h2.2v1.5h-2.2zM7.7 20.9h2.2v1.5h-2.2zM23.4 1.7h2.2v1.5h-2.2zM6.4 2.6h2.2v1.5h-2.2zM45.8 18.7h2.2v1.5h-2.2zM9.7 13.5h2.2v1.5h-2.2zM11.5 11.6h2.2v1.5h-2.2zM19.1 18.2h2.2v1.5h-2.2zM24.5 37.9h2.2v1.5h-2.2zM1.7 17.2h2.2v1.5h-2.2zM12.7 36.9h2.2v1.5h-2.2zM18.2 8.8h2.2v1.5h-2.2zM44.2 8.1h2.2v1.5h-2.2zM30.6 26.8h2.2v1.5h-2.2zM47.8 15.4h2.2v1.5h-2.2zM32.1 14.5h2.2v1.5h-2.2zM2.4 33.5h2.2v1.5h-2.2zM45.4 36.2h2.2v1.5h-2.2zM5.8 30.7h2.2v1.5h-2.2zM1.6 1.6h2.2v1.5h-2.2zM37.2 25.8h2.2v1.5h-2.2zM30.6 38.7h2.2v1.5h-2.2zM19.2 24.8h2.2v1.5h-2.2zM42.0 18.6h2.2v1.5h-2.2zM22.0 34.4h2.2v1.5h-2.2zM16.7 27.1h2.2v1.5h-2.2zM9.0 28.2h2.2v1.5h-2.2zM41.8 12.3h2.2v1.5h-2.2zM36.9 39.0h2.2v1.5h-2.2zM28.1 3.0h2.2v1.5h-2.2zM26.6 35.1h2.2v1.5h-2.2zM30.6 6.1h2.2v1.5h-2.2zM32.7 12.8h2.2v1.5h-2.2zM47.4 4.4h2.2v1.5h-2.2zM41.2 10.5h2.2v1.5h-2.2zM32.9 26.8h2.2v1.5h-2.2zM4.3 10.3h2.2v1.5h-2.2zM35.3 24.5h2.2v1.5h-2.2zM21.9 15.7h2.2v1.5h-2.2zM27.1 33.2h2.2v1.5h-2.2zM3.4 25.6h2.2v1.5h-2.2zM19.5 25.5h2.2v1.5h-2.2zM0.1 21.4h2.2v1.5h-2.2zM19.9 3.2h2.2v1.5h-2.2zM2.2 13.2h2.2v1.5h-2.2zM24.7 17.9h2.2v1.5h-2.2zM32.5 24.6h2.2v1.5h-2.2zM34.6 35.1h2.2v1.5h-2.2zM44.8 4.2h2.2v1.5h-2.2zM35.2 4.7h2.2v1.5h-2.2zM42.5 39.3h2.2v1.5h-2.2zM29.6 12.8h2.2v1.5h-2.2zM30.2 22.4h2.2v1.5h-2.2zM42.2 6.1h2.2v1.5h-2.2zM29.4 17.2h2.2v1.5h-2.2zM9.9 15.5h2.2v1.5h-2.2zM27.3 13.1h2.2v1.5h-2.2zM43.1 27.3h2.2v1.5h-2.2zM51.0 36.6h2.2v1.5h-2.2zM21.4 35.1h2.2v1.5h-2.2zM20.3 13.6h2.2v1.5h-2.2zM33.9 5.5h2.2v1.5h-2.2zM3.8 37.4h2.2v1.5h-2.2zM10.9 21.6h2.2v1.5h-2.2zM23.4 21.9h2.2v1.5h-2.2zM43.9 33.9h2.2v1.5h-2.2zM9.7 0.9h2.2v1.5h-2.2zM26.5 23.1h2.2v1.5h-2.2zM34.6 30.6h2.2v1.5h-2.2zM49.0 16.6h2.2v1.5h-2.2zM20.8 7.8h2.2v1.5h-2.2zM38.0 0.5h2.2v1.5h-2.2zM11.4 19.2h2.2v1.5h-2.2zM5.1 4.8h2.2v1.5h-2.2zM29.6 27.4h2.2v1.5h-2.2zM31.0 21.3h2.2v1.5h-2.2zM48.3 0.4h2.2v1.5h-2.2zM27.6 11.3h2.2v1.5h-2.2zM43.3 9.7h2.2v1.5h-2.2zM17.7 27.5h2.2v1.5h-2.2zM0.3 1.5h2.2v1.5h-2.2zM7.4 27.8h2.2v1.5h-2.2zM32.5 17.0h2.2v1.5h-2.2zM3.1 20.9h2.2v1.5h-2.2zM8.5 19.3h2.2v1.5h-2.2zM43.5 23.4h2.2v1.5h-2.2zM50.2 33.1h2.2v1.5h-2.2zM47.8 24.5h2.2v1.5h-2.2zM49.9 21.5h2.2v1.5h-2.2zM37.6 10.3h2.2v1.5h-2.2zM45.0 17.1h2.2v1.5h-2.2zM50.7 28.9h2.2v1.5h-2.2zM23.7 20.4h2.2v1.5h-2.2zM29.5 11.5h2.2v1.5h-2.2zM47.2 10.4h2.2v1.5h-2.2zM44.0 12.8h2.2v1.5h-2.2zM2.5 3.1h2.2v1.5h-2.2zM33.6 34.4h2.2v1.5h-2.2zM31.3 10.4h2.2v1.5h-2.2zM24.0 16.9h2.2v1.5h-2.2zM19.7 22.2h2.2v1.5h-2.2zM3.5 21.3h2.2v1.5h-2.2zM16.2 20.0h2.2v1.5h-2.2zM40.9 37.0h2.2v1.5h-2.2zM31.8 12.4h2.2v1.5h-2.2zM21.9 25.3h2.2v1.5h-2.2zM12.7 19.7h2.2v1.5h-2.2zM34.0 32.2h2.2v1.5h-2.2zM50.6 4.9h2.2v1.5h-2.2zM12.7 16.4h2.2v1.5h-2.2zM13.2 8.0h2.2v1.5h-2.2zM38.4 7.3h2.2v1.5h-2.2zM3.5 19.7h2.2v1.5h-2.2zM11.8 38.2h2.2v1.5h-2.2zM17.4 38.7h2.2v1.5h-2.2zM34.0 2.9h2.2v1.5h-2.2zM1.9 13.1h2.2v1.5h-2.2zM46.4 7.0h2.2v1.5h-2.2zM5.7 0.4h2.2v1.5h-2.2zM47.1 33.3h2.2v1.5h-2.2zM45.5 32.4h2.2v1.5h-2.2zM50.3 2.5h2.2v1.5h-2.2zM30.5 8.6h2.2v1.5h-2.2zM13.2 17.6h2.2v1.5h-2.2zM6.5 15.9h2.2v1.5h-2.2zM18.4 2.7h2.2v1.5h-2.2zM48.6 39.1h2.2v1.5h-2.2zM43.4 33.8h2.2v1.5h-2.2zM41.9 23.8h2.2v1.5h-2.2zM18.7 4.9h2.2v1.5h-2.2zM11.2 24.1h2.2v1.5h-2.2zM24.6 20.7h2.2v1.5h-2.2zM7.2 29.4h2.2v1.5h-2.2zM26.2 25.8h2.2v1.5h-2.2zM37.4 2.5h2.2v1.5h-2.2zM20.1 30.3h2.2v1.5h-2.2zM31.9 19.7h2.2v1.5h-2.2zM31.9 0.9h2.2v1.5h-2.2zM3.7 26.1h2.2v1.5h-2.2zM7.3 3.7h2.2v1.5h-2.2zM42.5 21.1h2.2v1.5h-2.2zM36.8 30.0h2.2v1.5h-2.2zM11.3 10.3h2.2v1.5h-2.2zM20.6 11.3h2.2v1.5h-2.2zM47.9 27.9h2.2v1.5h-2.2zM5.7 1.8h2.2v1.5h-2.2zM27.9 24.5h2.2v1.5h-2.2zM23.6 10.4h2.2v1.5h-2.2zM35.6 4.9h2.2v1.5h-2.2zM5.8 13.3h2.2v1.5h-2.2zM27.5 16.5h2.2v1.5h-2.2zM36.8 18.9h2.2v1.5h-2.2zM42.7 37.4h2.2v1.5h-2.2zM44.8 0.8h2.2v1.5h-2.2zM9.6 34.9h2.2v1.5h-2.2zM3.0 20.1h2.2v1.5h-2.2zM27.7 38.5h2.2v1.5h-2.2zM22.6 38.6h2.2v1.5h-2.2zM20.0 30.2h2.2v1.5h-2.2zM44.4 2.6h2.2v1.5h-2.2zM26.5 39.4h2.2v1.5h-2.2zM49.1 0.6h2.2v1.5h-2.2zM48.9 22.5h2.2v1.5h-2.2zM14.3 21.2h2.2v1.5h-2.2zM44.7 27.6h2.2v1.5h-2.2zM46.0 6.5h2.2v1.5h-2.2zM30.3 2.0h2.2v1.5h-2.2zM15.8 1.0h2.2v1.5h-2.2zM35.6 32.2h2.2v1.5h-2.2zM24.3 27.7h2.2v1.5h-2.2zM14.2 37.1h2.2v1.5h-2.2zM46.5 39.1h2.2v1.5h-2.2zM46.7 27.8h2.2v1.5h-2.2zM31.4 28.5h2.2v1.5h-2.2zM1.8 8.9h2.2v1.5h-2.2zM25.6 17.7h2.2v1.5h-2.2zM49.6 31.3h2.2v1.5h-2.2zM17.1 26.8h2.2v1.5h-2.2zM24.1 31.1h2.2v1.5h-2.2zM28.2 30.0h2.2v1.5h-2.2zM21.4 6.4h2.2v1.5h-2.2zM29.0 30.6h2.2v1.5h-2.2zM2.5 17.7h2.2v1.5h-2.2zM40.9 23.0h2.2v1.5h-2.2zM3.7 35.5h2.2v1.5h-2.2zM12.6 18.1h2.2v1.5h-2.2zM21.0 12.7h2.2v1.5h-2.2zM35.3 9.3h2.2v1.5h-2.2zM7.6 14.7h2.2v1.5h-2.2zM46.8 7.7h2.2v1.5h-2.2zM11.7 13.8h2.2v1.5h-2.2zM24.4 14.7h2.2v1.5h-2.2zM30.8 30.5h2.2v1.5h-2.2zM28.6 17.3h2.2v1.5h-2.2zM21.0 33.8h2.2v1.5h-2.2zM15.8 0.5h2.2v1.5h-2.2zM10.6 26.9h2.2v1.5h-2.2zM28.1 29.1h2.2v1.5h-2.2zM48.0 3.0h2.2v1.5h-2.2zM24.5 26.3h2.2v1.5h-2.2zM31.5 8.1h2.2v1.5h-2.2zM44.8 29.7h2.2v1.5h-2.2zM7.0 21.4h2.2v1.5h-2.2zM22.7 39.0h2.2v1.5h-2.2zM38.2 30.1h2.2v1.5h-2.2zM24.4 33.7h2.2v1.5h-2.2zM31.0 4.7h2.2v1.5h-2.2zM41.1 26.9h2.2v1.5h-2.2zM17.5 12.2h2.2v1.5h-2.2zM9.8 16.3h2.2v1.5h-2.2zM3.8 36.6h2.2v1.5h-2.2zM25.6 14.4h2.2v1.5h-2.2zM24.6 31.6h2.2v1.5h-2.2zM43.3 34.5h2.2v1.5h-2.2zM46.7 1.0h2.2v1.5h-2.2zM26.4 35.0h2.2v1.5h-2.2zM50.4 7.8h2.2v1.5h-2.2zM6.1 12.1h2.2v1.5h-2.2zM35.0 0.7h2.2v1.5h-2.2zM49.4 19.4h2.2v1.5h-2.2zM38.0 5.3h2.2v1.5h-2.2zM8.2 20.1h2.2v1.5h-2.2zM47.3 2.3h2.2v1.5h-2.2zM30.0 29.5h2.2v1.5h-2.2zM31.4 38.6h2.2v1.5h-2.2zM43.8 28.4h2.2v1.5h-2.2zM34.3 21.9h2.2v1.5h-2.2zM48.6 28.3h2.2v1.5h-2.2zM2.2 6.5h2.2v1.5h-2.2zM3.7 39.3h2.2v1.5h-2.2zM47.6 27.1h2.2v1.5h-2.2zM13.8 35.6h2.2v1.5h-2.2zM43.2 6.9h2.2v1.5h-2.2zM32.2 15.4h2.2v1.5h-2.2zM35.4 19.3h2.2v1.5h-2.2zM44.6 23.3h2.2v1.5h-2.2zM46.4 14.4h2.2v1.5h-2.2zM1.7 27.7h2.2v1.5h-2.2zM42.2 25.8h2.2v1.5h-2.2zM18.5 15.4h2.2v1.5h-2.2zM46.7 25.6h2.2v1.5h-2.2zM48.9 36.5h2.2v1.5h-2.2zM23.6 38.6h2.2v1.5h-2.2zM11.2 33.5h2.2v1.5h-2.2zM25.3 10.4h2.2v1.5h-2.2zM28.7 20.3h2.2v1.5h-2.2zM11.6 11.6h2.2v1.5h-2.2zM11.4 0.0h2.2v1.5h-2.2zM38.8 37.3h2.2v1.5h-2.2zM13.2 14.7h2.2v1.5h-2.2zM16.9 35.8h2.2v1.5h-2.2zM50.2 15.7h2.2v1.5h-2.2zM1.2 28.6h2.2v1.5h-2.2zM36.9 6.0h2.2v1.5h-2.2zM18.6 24.8h2.2v1.5h-2.2zM41.4 0.4h2.2v1.5h-2.2zM22.0 25.0h2.2v1.5h-2.2zM6.5 12.4h2.2v1.5h-2.2zM22.4 31.2h2.2v1.5h-2.2zM44.2 22.0h2.2v1.5h-2.2zM45.3 31.8h2.2v1.5h-2.2zM7.5 28.5h2.2v1.5h-2.2zM38.6 28.5h2.2v1.5h-2.2zM43.4 28.1h2.2v1.5h-2.2zM25.5 22.6h2.2v1.5h-2.2zM47.3 33.8h2.2v1.5h-2.2zM33.9 1.6h2.2v1.5h-2.2zM20.6 23.3h2.2v1.5h-2.2zM43.4 7.8h2.2v1.5h-2.2zM28.8 29.1h2.2v1.5h-2.2zM23.7 0.9h2.2v1.5h-2.2zM18.2 7.3h2.2v1.5h-2.2zM29.9 18.3h2.2v1.5h-2.2zM1.4 0.0h2.2v1.5h-2.2zM40.4 5.1h2.2v1.5h-2.2zM40.6 34.0h2.2v1.5h-2.2zM33.4 21.5h2.2v1.5h-2.2zM7.3 21.4h2.2v1.5h-2.2zM6.8 2.4h2.2v1.5h-2.2zM14.2 10.3h2.2v1.5h-2.2zM6.2 32.8h2.2v1.5h-2.2zM28.7 7.0h2.2v1.5h-2.2zM44.6 0.0h2.2v1.5h-2.2zM44.7 18.9h2.2v1.5h-2.2zM21.3 16.3h2.2v1.5h-2.2zM23.1 7.1h2.2v1.5h-2.2zM16.0 7.7h2.2v1.5h-2.2zM23.7 20.3h2.2v1.5h-2.2zM26.5 18.6h2.2v1.5h-2.2zM30.1 39.1h2.2v1.5h-2.2zM44.9 5.7h2.2v1.5h-2.2zM26.1 29.4h2.2v1.5h-2.2zM6.3 35.6h2.2v1.5h-2.2zM5.7 22.4h2.2v1.5h-2.2zM39.0 39.0h2.2v1.5h-2.2zM29.5 2.6h2.2v1.5h-2.2zM6.6 32.4h2.2v1.5h-2.2zM5.4 35.0h2.2v1.5h-2.2zM22.1 4.8h2.2v1.5h-2.2zM26.3 17.6h2.2v1.5h-2.2zM9.7 36.9h2.2v1.5h-2.2zM48.4 22.1h2.2v1.5h-2.2zM41.6 23.2h2.2v1.5h-2.2zM36.4 27.4h2.2v1.5h-2.2zM48.2 33.5h2.2v1.5h-2.2zM27.6 1.4h2.2v1.5h-2.2zM41.7 28.4h2.2v1.5h-2.2zM24.9 14.8h2.2v1.5h-2.2zM36.1 23.6h2.2v1.5h-2.2zM44.5 34.8h2.2v1.5h-2.2zM3.1 26.0h2.2v1.5h-2.2zM31.4 23.6h2.2v1.5h-2.2zM10.2 11.7h2.2v1.5h-2.2zM32.4 18.5h2.2v1.5h-2.2zM9.7 23.3h2.2v1.5h-2.2zM48.8 3.2h2.2v1.5h-2.2zM34.0 34.6h2.2v1.5h-2.2zM49.5 14.1h2.2v1.5h-2.2zM40.7 37.1h2.2v1.5h-2.2zM8.9 29.5h2.2v1.5h-2.2zM46.1 31.9h2.2v1.5h-2.2zM39.2 24.7h2.2v1.5h-2.2zM30.9 2.9h2.2v1.5h-2.2zM5.1 37.5h2.2v1.5h-2.2zM35.0 31.5h2.2v1.5h-2.2zM44.5 18.8h2.2v1.5h-2.2zM6.6 32.6h2.2v1.5h-2.2zM6.1 15.5h2.2v1.5h-2.2zM37.7 1.9h2.2v1.5h-2.2zM40.4 20.7h2.2v1.5h-2.2zM15.3 20.1h2.2v1.5h-2.2zM42.3 32.1h2.2v1.5h-2.2zM42.4 29.5h2.2v1.5h-2.2zM2.7 24.7h2.2v1.5h-2.2zM16.7 9.4h2.2v1.5h-2.2zM8.9 31.0h2.2v1.5h-2.2zM21.3 30.9h2.2v1.5h-2.2zM6.3 14.1h2.2v1.5h-2.2zM37.5 0.2h2.2v1.5h-2.2zM25.8 0.1h2.2v1.5h-2.2zM13.3 22.0h2.2v1.5h-2.2zM31.4 37.7h2.2v1.5h-2.2zM33.2 22.5h2.2v1.5h-2.2zM12.7 5.7h2.2v1.5h-2.2zM44.7 22.3h2.2v1.5h-2.2zM46.0 17.8h2.2v1.5h-2.2zM10.4 11.5h2.2v1.5h-2.2zM9.1 10.5h2.2v1.5h-2.2zM21.9 3.5h2.2v1.5h-2.2zM49.3 37.9h2.2v1.5h-2.2zM22.6 15.9h2.2v1.5h-2.2zM43.7 16.8h2.2v1.5h-2.2zM16.2 33.9h2.2v1.5h-2.2zM48.6 19.5h2.2v1.5h-2.2zM0.2 31.2h2.2v1.5h-2.2zM44.3 34.8h2.2v1.5h-2.2zM10.2 36.8h2.2v1.5h-2.2zM4.9 15.7h2.2v1.5h-2.2zM21.8 14.6h2.2v1.5h-2.2zM40.5 9.0h2.2v1.5h-2.2zM34.9 6.3h2.2v1.5h-2.2zM31.1 33.0h2.2v1.5h-2.2zM13.2 32.4h2.2v1.5h-2.2zM9.0 9.0h2.2v1.5h-2.2zM40.9 35.6h2.2v1.5h-2.2zM46.9 7.9h2.2v1.5h-2.2zM13.0 10.2h2.2v1.5h-2.2zM10.7 12.9h2.2v1.5h-2.2zM5.3 34.1h2.2v1.5h-2.2zM28.1 32.2h2.2v1.5h-2.2zM25.8 16.8h2.2v1.5h-2.2zM3.6 10.7h2.2v1.5h-2.2zM25.6 4.0h2.2v1.5h-2.2zM26.0 32.5h2.2v1.5h-2.2zM2.9 2.5h2.2v1.5h-2.2zM44.1 24.9h2.2v1.5h-2.2zM4.3 0.6h2.2v1.5h-2.2zM27.8 5.2h2.2v1.5h-2.2zM47.0 13.0h2.2v1.5h-2.2zM41.8 15.7h2.2v1.5h-2.2zM9.1 3.5h2.2v1.5h-2.2zM33.0 12.1h2.2v1.5h-2.2zM37.3 2.4h2.2v1.5h-2.2zM26.5 10.5h2.2v1.5h-2.2zM17.4 3.0h2.2v1.5h-2.2zM0.9 11.9h2.2v1.5h-2.2zM50.7 26.2h2.2v1.5h-2.2zM33.3 5.0h2.2v1.5h-2.2zM27.8 25.0h2.2v1.5h-2.2zM40.3 35.8h2.2v1.5h-2.2zM3.3 27.1h2.2v1.5h-2.2zM7.0 10.9h2.2v1.5h-2.2zM1.9 20.7h2.2v1.5h-2.2zM34.0 17.8h2.2v1.5h-2.2zM8.1 10.6h2.2v1.5h-2.2zM41.3 32.3h2.2v1.5h-2.2zM31.4 37.3h2.2v1.5h-2.2zM27.1 21.4h2.2v1.5h-2.2zM48.8 33.1h2.2v1.5h-2.2zM41.6 34.6h2.2v1.5h-2.2zM35.1 22.5h2.2v1.5h-2.2zM39.4 24.6h2.2v1.5h-2.2zM36.7 3.1h2.2v1.5h-2.2zM4.4 35.3h2.2v1.5h-2.2zM2.5 6.7h2.2v1.5h-2.2zM6.3 0.0h2.2v1.5h-2.2zM8.9 28.9h2.2v1.5h-2.2zM3.7 9.9h2.2v1.5h-2.2zM5.9 23.1h2.2v1.5h-2.2zM43.6 21.2h2.2v1.5h-2.2zM22.1 8.7h2.2v1.5h-2.2zM13.1 20.6h2.2v1.5h-2.2zM34.8 23.8h2.2v1.5h-2.2zM22.6 6.3h2.2v1.5h-2.2zM29.9 8.2h2.2v1.5h-2.2zM22.3 23.1h2.2v1.5h-2.2zM22.5 38.4h2.2v1.5h-2.2zM11.0 37.8h2.2v1.5h-2.2zM14.9 8.4h2.2v1.5h-2.2zM4.8 39.2h2.2v1.5h-2.2zM14.8 38.6h2.2v1.5h-2.2zM28.2 36.1h2.2v1.5h-2.2zM4.0 19.4h2.2v1.5h-2.2zM43.5 1.4h2.2v1.5h-2.2zM13.0 16.3h2.2v1.5h-2.2zM34.4 31.8h2.2v1.5h-2.2zM13.6 38.7h2.2v1.5h-2.2zM48.7 33.7h2.2v1.5h-2.2zM27.9 10.1h2.2v1.5h-2.2zM34.8 6.7h2.2v1.5h-2.2zM20.5 26.7h2.2v1.5h-2.2zM1.9 37.4h2.2v1.5h-2.2zM32.5 18.5h2.2v1.5h-2.2zM36.8 26.7h2.2v1.5h-2.2zM48.4 17.8h2.2v1.5h-2.2zM19.5 37.3h2.2v1.5h-2.2zM10.0 15.3h2.2v1.5h-2.2zM8.2 35.8h2.2v1.5h-2.2zM16.9 19.7h2.2v1.5h-2.2zM30.1 17.2h2.2v1.5h-2.2zM37.9 31.9h2.2v1.5h-2.2zM46.6 27.4h2.2v1.5h-2.2zM45.5 17.8h2.2v1.5h-2.2zM18.9 27.6h2.2v1.5h-2.2zM18.4 24.2h2.2v1.5h-2.2zM1.0 25.6h2.2v1.5h-2.2zM28.0 21.6h2.2v1.5h-2.2zM38.7 16.0h2.2v1.5h-2.2zM14.9 4.3h2.2v1.5h-2.2zM51.0 25.3h2.2v1.5h-2.2zM2.6 2.3h2.2v1.5h-2.2zM45.4 31.9h2.2v1.5h-2.2zM20.5 19.0h2.2v1.5h-2.2zM26.2 23.4h2.2v1.5h-2.2zM48.0 12.8h2.2v1.5h-2.2zM20.5 18.8h2.2v1.5h-2.2zM44.8 18.1h2.2v1.5h-2.2zM30.5 5.1h2.2v1.5h-2.2zM0.7 9.2h2.2v1.5h-2.2zM49.9 25.1h2.2v1.5h-2.2zM42.2 12.9h2.2v1.5h-2.2zM48.7 24.1h2.2v1.5h-2.2zM14.4 15.4h2.2v1.5h-2.2zM37.8 33.1h2.2v1.5h-2.2zM37.2 21.0h2.2v1.5h-2.2zM45.3 38.6h2.2v1.5h-2.2zM4.0 30.7h2.2v1.5h-2.2zM41.6 6.8h2.2v1.5h-2.2zM18.3 23.0h2.2v1.5h-2.2zM1.7 24.1h2.2v1.5h-2.2zM27.1 10.2h2.2v1.5h-2.2zM48.1 36.1h2.2v1.5h-2.2zM40.5 13.3h2.2v1.5h-2.2zM18.7 20.4h2.2v1.5h-2.2zM9.7 27.8h2.2v1.5h-2.2zM10.3 36.0h2.2v1.5h-2.2zM34.2 22.3h2.2v1.5h-2.2zM26.1 24.8h2.2v1.5h-2.2zM20.7 19.9h2.2v1.5h-2.2zM15.6 14.9h2.2v1.5h-2.2zM0.1 0.7h2.2v1.5h-2.2zM0.3 14.9h2.2v1.5h-2.2zM31.7 14.8h2.2v1.5h-2.2zM50.3 25.7h2.2v1.5h-2.2zM34.2 4.2h2.2v1.5h-2.2zM42.2 27.2h2.2v1.5h-2.2zM20.3 1.1h2.2v1.5h-2.2zM22.3 7.8h2.2v1.5h-2.2zM24.6 18.2h2.2v1.5h-2.2zM43.0 38.2h2.2v1.5h-2.2zM29.2 8.3h2.2v1.5h-2.2zM2.0 28.0h2.2v1.5h-2.2zM34.1 18.1h2.2v1.5h-2.2zM46.3 3.6h2.2v1.5h-2.2zM41.4 1.9h2.2v1.5h-2.2zM37.5 18.6h2.2v1.5h-2.2zM23.5 3.4h2.2v1.5h-2.2zM35.2 19.3h2.2v1.5h-2.2zM6.4 7.9h2.2v1.5h-2.2zM26.1 11.3h2.2v1.5h-2.2zM31.1 28.7h2.2v1.5h-2.2zM2.2 24.6h2.2v1.5h-2.2zM27.1 26.3h2.2v1.5h-2.2zM32.4 3.7h2.2v1.5h-2.2zM8.4 28.0h2.2v1.5h-2.2zM32.6 30.3h2.2v1.5h-2.2zM24.4 11.3h2.2v1.5h-2.2zM49.6 17.6h2.2v1.5h-2.2zM3.8 8.7h2.2v1.5h-2.2zM11.1 16.7h2.2v1.5h-2.2zM24.8 16.6h2.2v1.5h-2.2zM32.8 20.0h2.2v1.5h-2.2zM50.1 0.6h2.2v1.5h-2.2zM34.3 38.0h2.2v1.5h-2.2zM23.7 9.1h2.2v1.5h-2.2zM47.7 37.1h2.2v1.5h-2.2zM1.0 25.0h2.2v1.5h-2.2zM13.7 1.1h2.2v1.5h-2.2zM41.9 12.3h2.2v1.5h-2.2zM36.3 25.1h2.2v1.5h-2.2zM34.9 14.5h2.2v1.5h-2.2zM36.1 34.2h2.2v1.5h-2.2zM25.0 27.4h2.2v1.5h-2.2zM44.9 22.1h2.2v1.5h-2.2zM3.4 7.3h2.2v1.5h-2.2zM25.9 14.6h2.2v1.5h-2.2zM50.8 31.2h2.2v1.5h-2.2zM28.8 36.2h2.2v1.5h-2.2zM27.5 2.1h2.2v1.5h-2.2zM24.5 13.5h2.2v1.5h-2.2zM1.4 34.5h2.2v1.5h-2.2zM48.2 16.8h2.2v1.5h-2.2zM6.0 3.8h2.2v1.5h-2.2zM17.4 16.9h2.2v1.5h-2.2zM47.1 14.9h2.2v1.5h-2.2zM44.4 26.6h2.2v1.5h-2.2zM37.7 11.1h2.2v1.5h-2.2zM7.7 33.3h2.2v1.5h-2.2zM18.7 17.0h2.2v1.5h-2.2zM8.0 1.5h2.2v1.5h-2.2zM42.4 33.8h2.2v1.5h-2.2zM11.8 21.0h2.2v1.5h-2.2zM31.1 22.7h2.2v1.5h-2.2zM20.9 13.0h2.2v1.5h-2.2zM5.2 9.5h2.2v1.5h-2.2zM2.2 11.6h2.2v1.5h-2.2zM1.3 13.4h2.2v1.5h-2.2zM7.0 11.0h2.2v1.5h-2.2zM32.5 3.6h2.2v1.5h-2.2zM20.2 2.9h2.2v1.5h-2.2zM35.3 26.6h2.2v1.5h-2.2zM12.1 28.9h2.2v1.5h-2.2zM5.6 3.2h2.2v1.5h-2.2zM28.0 23.7h2.2v1.5h-2.2zM20.1 31.8h2.2v1.5h-2.2zM32.9 19.4h2.2v1.5h-2.2zM8.1 9.5h2.2v1.5h-2.2zM40.4 16.5h2.2v1.5h-2.2zM2.6 17.1h2.2v1.5h-2.2zM3.8 4.2h2.2v1.5h-2.2zM27.0 0.9h2.2v1.5h-2.2zM4.2 9.0h2.2v1.5h-2.2zM0.2 23.1h2.2v1.5h-2.2zM27.0 3.6h2.2v1.5h-2.2zM9.7 5.5h2.2v1.5h-2.2zM11.9 18.9h2.2v1.5h-2.2zM24.6 6.3h2.2v1.5h-2.2zM37.6 33.8h2.2v1.5h-2.2zM3.0 7.0h2.2v1.5h-2.2zM20.7 37.9h2.2v1.5h-2.2zM23.5 25.7h2.2v1.5h-2.2zM13.5 1.2h2.2v1.5h-2.2zM40.2 2.7h2.2v1.5h-2.2zM12.2 28.5h2.2v1.5h-2.2zM27.1 31.1h2.2v1.5h-2.2zM22.4 20.1h2.2v1.5h-2.2zM8.1 34.5h2.2v1.5h-2.2zM34.5 12.0h2.2v1.5h-2.2zM5.9 25.3h2.2v1.5h-2.2zM13.8 25.2h2.2v1.5h-2.2zM48.9 30.0h2.2v1.5h-2.2zM40.8 13.3h2.2v1.5h-2.2zM39.8 4.2h2.2v1.5h-2.2zM17.3 28.7h2.2v1.5h-2.2zM18.4 30.1h2.2v1.5h-2.2zM31.2 21.8h2.2v1.5h-2.2zM33.0 15.1h2.2v1.5h-2.2zM11.3 14.1h2.2v1.5h-2.2zM3.7 27.5h2.2v1.5h-2.2zM35.1 16.3h2.2v1.5h-2.2zM16.5 2.7h2.2v1.5h-2.2zM46.4 36.7h2.2v1.5h-2.2zM21.8 12.1h2.2v1.5h-2.2zM3.0 9.0h2.2v1.5h-2.2zM50.7 16.9h2.2v1.5h-2.2zM13.6 3.6h2.2v1.5h-2.2zM9.8 36.3h2.2v1.5h-2.2zM9.2 36.1h2.2v1.5h-2.2zM29.2 25.6h2.2v1.5h-2.2zM13.7 0.0h2.2v1.5h-2.2zM39.9 31.0h2.2v1.5h-2.2zM44.8 17.4h2.2v1.5h-2.2zM35.0 7.6h2.2v1.5h-2.2zM48.9 4.8h2.2v1.5h-2.2zM0.6 6.7h2.2v1.5h-2.2zM45.6 12.5h2.2v1.5h-2.2zM41.5 5.2h2.2v1.5h-2.2zM14.8 8.8h2.2v1.5h-2.2zM46.2 39.4h2.2v1.5h-2.2zM37.3 7.9h2.2v1.5h-2.2zM33.1 26.5h2.2v1.5h-2.2zM2.5 21.3h2.2v1.5h-2.2zM5.1 8.5h2.2v1.5h-2.2zM11.8 29.3h2.2v1.5h-2.2zM7.6 9.7h2.2v1.5h-2.2zM42.7 15.5h2.2v1.5h-2.2zM31.2 22.7h2.2v1.5h-2.2zM31.0 2.1h2.2v1.5h-2.2zM42.7 6.6h2.2v1.5h-2.2zM20.1 11.2h2.2v1.5h-2.2zM27.6 20.2h2.2v1.5h-2.2zM6.6 13.6h2.2v1.5h-2.2zM27.4 31.1h2.2v1.5h-2.2zM13.3 19.1h2.2v1.5h-2.2zM9.3 24.9h2.2v1.5h-2.2zM47.2 7.6h2.2v1.5h-2.2z" fill="#fff"/></pattern></defs>
<defs><radialGradient id="mk25g" gradientUnits="userSpaceOnUse" cx="0" cy="0" r="1" gradientTransform="translate(1902.6 1059.2) rotate(-28) scale(78 44)"><stop offset="0" stop-color="#fff" stop-opacity="1.00"/><stop offset="0.55" stop-color="#fff" stop-opacity="0.80"/><stop offset="0.8" stop-color="#fff" stop-opacity="0.45"/><stop offset="1" stop-color="#fff" stop-opacity="0.00"/></radialGradient><mask id="mk25m" maskUnits="userSpaceOnUse" x="1780.6" y="937.2" width="244.0" height="244.0"><rect x="1780.6" y="937.2" width="244.0" height="244.0" fill="url(#mk25g)"/></mask><mask id="mk25" maskUnits="userSpaceOnUse" x="1780.6" y="937.2" width="244.0" height="244.0"><rect x="1780.6" y="937.2" width="244.0" height="244.0" fill="url(#pw5)" mask="url(#mk25m)"/></mask></defs>
<rect x="1780.6" y="937.2" width="244.0" height="244.0" fill="#c2bec9" mask="url(#mk25)"/>
<defs><radialGradient id="mk26g" gradientUnits="userSpaceOnUse" cx="0" cy="0" r="1" gradientTransform="translate(1867.3 1074.6) rotate(-40) scale(42 26)"><stop offset="0" stop-color="#fff" stop-opacity="0.70"/><stop offset="0.55" stop-color="#fff" stop-opacity="0.56"/><stop offset="0.8" stop-color="#fff" stop-opacity="0.32"/><stop offset="1" stop-color="#fff" stop-opacity="0.00"/></radialGradient><mask id="mk26m" maskUnits="userSpaceOnUse" x="1799.3" y="1006.6" width="136.0" height="136.0"><rect x="1799.3" y="1006.6" width="136.0" height="136.0" fill="url(#mk26g)"/></mask><mask id="mk26" maskUnits="userSpaceOnUse" x="1799.3" y="1006.6" width="136.0" height="136.0"><rect x="1799.3" y="1006.6" width="136.0" height="136.0" fill="url(#pw2)" mask="url(#mk26m)"/></mask></defs>
<rect x="1799.3" y="1006.6" width="136.0" height="136.0" fill="#aaa4cc" mask="url(#mk26)"/>
<defs><radialGradient id="hz27" gradientUnits="userSpaceOnUse" cx="0" cy="0" r="1" gradientTransform="translate(1851.0 1081.1) rotate(-10) scale(14 26)"><stop offset="0" stop-color="#4a3aae" stop-opacity="0.85"/><stop offset="0.5" stop-color="#4a3aae" stop-opacity="0.47"/><stop offset="1" stop-color="#4a3aae" stop-opacity="0"/></radialGradient></defs>
<ellipse cx="1851.0" cy="1081.1" rx="14" ry="26" transform="rotate(-10 1851.0 1081.1)" fill="url(#hz27)"/>
<defs><radialGradient id="hz28" gradientUnits="userSpaceOnUse" cx="0" cy="0" r="1" gradientTransform="translate(1864.6 1089.5) rotate(-3) scale(30 9)"><stop offset="0" stop-color="#5a4cb4" stop-opacity="0.65"/><stop offset="0.5" stop-color="#5a4cb4" stop-opacity="0.36"/><stop offset="1" stop-color="#5a4cb4" stop-opacity="0"/></radialGradient></defs>
<ellipse cx="1864.6" cy="1089.5" rx="30" ry="9" transform="rotate(-3 1864.6 1089.5)" fill="url(#hz28)"/>
</g>
<defs><radialGradient id="co29" gradientUnits="userSpaceOnUse" cx="0" cy="0" r="1" gradientTransform="translate(1848.8 1093.7) scale(9 7)"><stop offset="0" stop-color="#d42a1a" stop-opacity="1"/><stop offset="0.25" stop-color="#e85a1c" stop-opacity="1"/><stop offset="0.42" stop-color="#f2d422" stop-opacity="1"/><stop offset="0.56" stop-color="#7cc43c" stop-opacity="1"/><stop offset="0.7" stop-color="#2a8aa0" stop-opacity="1"/><stop offset="0.84" stop-color="#3a2a90" stop-opacity="0.9"/><stop offset="1" stop-color="#4a3aa0" stop-opacity="0"/></radialGradient></defs>
<ellipse cx="1848.8" cy="1093.7" rx="9" ry="7" fill="url(#co29)"/>
</g>
<line x1="1835.0" y1="1104.4" x2="2057.0" y2="892.0" stroke="#111" stroke-width="2.4"/>
<rect x="1833.6" y="891.8" width="239.3" height="214.2" fill="none" stroke="#111" stroke-width="3.6"/>
<line x1="1827.3" y1="1095.2" x2="1831.8" y2="1095.2" stroke="#111" stroke-width="3.2"/>
<line x1="1842.8" y1="1107.8" x2="1842.8" y2="1111.6" stroke="#111" stroke-width="3.6"/>
<text x="1822.0" y="1102.4" font-size="19.5" text-anchor="end">0</text>
<text x="1842.8" y="1139.6" font-size="19.5" text-anchor="middle">0</text>
<line x1="1827.3" y1="1043.8" x2="1831.8" y2="1043.8" stroke="#111" stroke-width="3.2"/>
<line x1="1897.2" y1="1107.8" x2="1897.2" y2="1111.6" stroke="#111" stroke-width="3.6"/>
<text x="1822.0" y="1051.0" font-size="19.5" text-anchor="end">2</text>
<text x="1897.2" y="1139.6" font-size="19.5" text-anchor="middle">2</text>
<line x1="1827.3" y1="992.4" x2="1831.8" y2="992.4" stroke="#111" stroke-width="3.2"/>
<line x1="1951.6" y1="1107.8" x2="1951.6" y2="1111.6" stroke="#111" stroke-width="3.6"/>
<text x="1822.0" y="999.6" font-size="19.5" text-anchor="end">4</text>
<text x="1951.6" y="1139.6" font-size="19.5" text-anchor="middle">4</text>
<line x1="1827.3" y1="941.0" x2="1831.8" y2="941.0" stroke="#111" stroke-width="3.2"/>
<line x1="2006.0" y1="1107.8" x2="2006.0" y2="1111.6" stroke="#111" stroke-width="3.6"/>
<text x="1822.0" y="948.2" font-size="19.5" text-anchor="end">6</text>
<text x="2006.0" y="1139.6" font-size="19.5" text-anchor="middle">6</text>
<text x="1854.3" y="1168.9" font-size="26.3" textLength="179.0" lengthAdjust="spacingAndGlyphs">DNase-I Signal</text>
<text x="1791.4" y="1061.1" font-size="28" textLength="117.0" lengthAdjust="spacingAndGlyphs" transform="rotate(-90 1791.4 1061.1)">Predicted</text>
<text x="1843.2" y="925.3" font-size="27.4" textLength="15.0" lengthAdjust="spacingAndGlyphs">R</text>
<text x="1864.6" y="915.6" font-size="19.5">2</text>
<text x="1884.3" y="925.3" font-size="27.4" textLength="16.5" lengthAdjust="spacingAndGlyphs">=</text>
<text x="1910.5" y="925.3" font-size="27.4" textLength="51.0" lengthAdjust="spacingAndGlyphs">0.50</text>
<text x="1942.8" y="876.5" font-size="27.4" text-anchor="middle" textLength="51.3" lengthAdjust="spacingAndGlyphs">ELF1</text>
<text x="30.5" y="1690.4" font-size="42">i</text>
<text x="264.0" y="1700.0" font-size="40.7" textLength="194.0" lengthAdjust="spacingAndGlyphs">Promoters</text>
<text x="748.5" y="1700.0" font-size="40.7" textLength="193.0" lengthAdjust="spacingAndGlyphs">Enhancers</text>
<rect x="198.5" y="1751.3" width="316.6" height="293.5" fill="none" stroke="#111" stroke-width="2.8"/>
<line x1="186.5" y1="1763.3" x2="197.5" y2="1763.3" stroke="#111" stroke-width="3"/>
<line x1="186.5" y1="1802.1" x2="197.5" y2="1802.1" stroke="#111" stroke-width="3"/>
<line x1="186.5" y1="1841.0" x2="197.5" y2="1841.0" stroke="#111" stroke-width="3"/>
<line x1="186.5" y1="1879.8" x2="197.5" y2="1879.8" stroke="#111" stroke-width="3"/>
<line x1="186.5" y1="1918.7" x2="197.5" y2="1918.7" stroke="#111" stroke-width="3"/>
<line x1="186.5" y1="1957.0" x2="197.5" y2="1957.0" stroke="#111" stroke-width="3"/>
<line x1="186.5" y1="1995.8" x2="197.5" y2="1995.8" stroke="#111" stroke-width="3"/>
<line x1="186.5" y1="2034.4" x2="197.5" y2="2034.4" stroke="#111" stroke-width="3"/>
<line x1="209.8" y1="2045.0" x2="209.8" y2="2056.5" stroke="#111" stroke-width="3"/>
<line x1="283.4" y1="2045.0" x2="283.4" y2="2056.5" stroke="#111" stroke-width="3"/>
<line x1="356.9" y1="2045.0" x2="356.9" y2="2056.5" stroke="#111" stroke-width="3"/>
<line x1="430.4" y1="2045.0" x2="430.4" y2="2056.5" stroke="#111" stroke-width="3"/>
<line x1="504.0" y1="2045.0" x2="504.0" y2="2056.5" stroke="#111" stroke-width="3"/>
<text x="171.8" y="1814.6" font-size="31" text-anchor="end">2</text>
<text x="171.8" y="1934.5" font-size="31" text-anchor="end">1</text>
<text x="172.5" y="2050.0" font-size="31" text-anchor="end">0</text>
<text x="218.6" y="2091.5" font-size="31" text-anchor="end">-2</text>
<text x="288.5" y="2091.5" font-size="31" text-anchor="end">-1</text>
<text x="365.4" y="2091.5" font-size="31" text-anchor="end">0</text>
<text x="434.5" y="2091.5" font-size="31" text-anchor="end">1</text>
<text x="510.0" y="2091.5" font-size="31" text-anchor="end">2</text>
<text x="200.5" y="2142.0" font-size="36" textLength="298.5" lengthAdjust="spacingAndGlyphs">Dis tance to TSS</text>
<text x="361.0" y="2185.0" font-size="36" text-anchor="middle" textLength="70.0" lengthAdjust="spacingAndGlyphs">[kb]</text>
<text x="104.0" y="1954.8" font-size="36" textLength="102.8" lengthAdjust="spacingAndGlyphs" transform="rotate(-90 104.0 1954.8)">Signal</text>
<path d="M209.8,1999.5 L212.8,1999.3 L215.9,1998.8 L218.9,1998.0 L221.9,1997.1 L224.9,1996.1 L228.0,1994.9 L231.0,1993.4 L234.0,1991.4 L237.0,1989.1 L240.1,1986.4 L243.1,1983.6 L246.1,1980.5 L249.2,1977.4 L252.2,1974.1 L255.2,1970.9 L258.2,1967.5 L261.3,1963.8 L264.3,1959.8 L267.3,1955.7 L270.3,1951.3 L273.4,1946.8 L276.4,1942.1 L279.4,1937.2 L282.5,1932.2 L285.5,1927.0 L288.5,1921.4 L291.5,1915.6 L294.6,1909.5 L297.6,1903.2 L300.6,1896.8 L303.6,1890.4 L306.7,1883.9 L309.7,1877.5 L312.7,1871.2 L315.8,1864.8 L318.8,1858.2 L321.8,1851.3 L324.8,1843.9 L327.9,1835.7 L330.9,1827.1 L333.9,1818.2 L336.9,1809.5 L340.0,1800.7 L343.0,1791.3 L346.0,1782.9 L349.1,1776.7 L352.1,1771.8 L355.1,1768.2 L358.1,1767.6 L361.2,1768.3 L364.2,1769.5 L367.2,1771.4 L370.2,1774.9 L373.3,1779.5 L376.3,1784.6 L379.3,1789.5 L382.4,1794.5 L385.4,1799.8 L388.4,1805.3 L391.4,1811.1 L394.5,1817.0 L397.5,1823.0 L400.5,1829.0 L403.5,1835.0 L406.6,1841.2 L409.6,1847.7 L412.6,1854.6 L415.7,1862.2 L418.7,1871.5 L421.7,1882.0 L424.7,1892.5 L427.8,1901.8 L430.8,1909.1 L433.8,1915.5 L436.8,1921.3 L439.9,1926.7 L442.9,1931.8 L445.9,1936.8 L449.0,1941.8 L452.0,1946.9 L455.0,1952.0 L458.0,1957.2 L461.1,1962.2 L464.1,1967.0 L467.1,1971.5 L470.1,1975.7 L473.2,1979.4 L476.2,1982.5 L479.2,1985.3 L482.3,1988.0 L485.3,1990.7 L488.3,1993.2 L491.3,1995.5 L494.4,1997.7 L497.4,1999.6 L500.4,2001.3 L503.4,2002.7 L506.5,2003.9 L509.5,2004.7" fill="none" stroke="#7b8fc8" stroke-width="7.2" stroke-linecap="butt" stroke-linejoin="round"/>
<path d="M209.7,2025.8 L212.7,2025.7 L215.7,2025.5 L218.8,2025.3 L221.8,2025.2 L224.8,2025.0 L227.8,2024.7 L230.8,2024.5 L233.8,2024.2 L236.9,2023.9 L239.9,2023.6 L242.9,2023.3 L245.9,2022.9 L248.9,2022.5 L251.9,2022.1 L255.0,2021.7 L258.0,2021.2 L261.0,2020.7 L264.0,2020.2 L267.0,2019.6 L270.1,2019.1 L273.1,2018.5 L276.1,2017.8 L279.1,2017.2 L282.1,2016.5 L285.1,2015.9 L288.2,2015.2 L291.2,2014.5 L294.2,2013.8 L297.2,2013.0 L300.2,2012.3 L303.2,2011.6 L306.3,2010.9 L309.3,2010.2 L312.3,2009.5 L315.3,2008.9 L318.3,2008.2 L321.4,2007.6 L324.4,2007.1 L327.4,2006.5 L330.4,2006.0 L333.4,2005.5 L336.4,2005.2 L339.5,2004.8 L342.5,2004.4 L345.5,2004.2 L348.5,2004.0 L351.5,2004.0 L354.5,2003.9 L357.6,2003.9 L360.6,2003.8 L363.6,2003.9 L366.6,2004.1 L369.6,2004.3 L372.7,2004.6 L375.7,2004.9 L378.7,2005.3 L381.7,2005.8 L384.7,2006.2 L387.7,2006.7 L390.8,2007.3 L393.8,2007.9 L396.8,2008.5 L399.8,2009.2 L402.8,2009.8 L405.8,2010.5 L408.9,2011.2 L411.9,2011.9 L414.9,2012.6 L417.9,2013.4 L420.9,2014.1 L423.9,2014.8 L427.0,2015.5 L430.0,2016.2 L433.0,2016.8 L436.0,2017.5 L439.0,2018.1 L442.1,2018.7 L445.1,2019.3 L448.1,2019.9 L451.1,2020.4 L454.1,2020.9 L457.1,2021.4 L460.2,2021.9 L463.2,2022.3 L466.2,2022.7 L469.2,2023.1 L472.2,2023.4 L475.2,2023.8 L478.3,2024.1 L481.3,2024.3 L484.3,2024.6 L487.3,2024.8 L490.3,2025.0 L493.4,2025.2 L496.4,2025.4 L499.4,2025.6 L502.4,2025.7 L505.4,2025.9 L508.4,2026.0 L511.5,2026.1" fill="none" stroke="#45aa4c" stroke-width="7.2" stroke-linecap="butt" stroke-linejoin="round"/>
<path d="M209.7,2031.5 L212.7,2031.5 L215.7,2031.4 L218.8,2031.4 L221.8,2031.3 L224.8,2031.2 L227.8,2031.1 L230.8,2031.0 L233.8,2030.9 L236.9,2030.8 L239.9,2030.7 L242.9,2030.5 L245.9,2030.3 L248.9,2030.2 L251.9,2029.9 L255.0,2029.7 L258.0,2029.5 L261.0,2029.2 L264.0,2028.9 L267.0,2028.5 L270.1,2028.2 L273.1,2027.8 L276.1,2027.4 L279.1,2027.0 L282.1,2026.5 L285.1,2026.0 L288.2,2025.5 L291.2,2025.0 L294.2,2024.4 L297.2,2023.9 L300.2,2023.3 L303.2,2022.8 L306.3,2022.2 L309.3,2021.6 L312.3,2021.0 L315.3,2020.4 L318.3,2019.9 L321.4,2019.3 L324.4,2018.8 L327.4,2018.3 L330.4,2017.9 L333.4,2017.4 L336.4,2017.1 L339.5,2016.7 L342.5,2016.4 L345.5,2016.2 L348.5,2016.0 L351.5,2016.0 L354.5,2015.9 L357.6,2015.9 L360.6,2015.8 L363.6,2015.9 L366.6,2016.1 L369.6,2016.3 L372.7,2016.6 L375.7,2016.9 L378.7,2017.2 L381.7,2017.6 L384.7,2018.1 L387.7,2018.5 L390.8,2019.0 L393.8,2019.6 L396.8,2020.1 L399.8,2020.7 L402.8,2021.3 L405.8,2021.8 L408.9,2022.4 L411.9,2023.0 L414.9,2023.6 L417.9,2024.1 L420.9,2024.7 L423.9,2025.2 L427.0,2025.7 L430.0,2026.2 L433.0,2026.7 L436.0,2027.2 L439.0,2027.6 L442.1,2028.0 L445.1,2028.3 L448.1,2028.7 L451.1,2029.0 L454.1,2029.3 L457.1,2029.6 L460.2,2029.8 L463.2,2030.0 L466.2,2030.2 L469.2,2030.4 L472.2,2030.6 L475.2,2030.7 L478.3,2030.9 L481.3,2031.0 L484.3,2031.1 L487.3,2031.2 L490.3,2031.3 L493.4,2031.3 L496.4,2031.4 L499.4,2031.4 L502.4,2031.5 L505.4,2031.5 L508.4,2031.6 L511.5,2031.6" fill="none" stroke="#c1302b" stroke-width="7.2" stroke-linecap="butt" stroke-linejoin="round"/>
<rect x="687.3" y="1747.1" width="316.6" height="293.5" fill="none" stroke="#111" stroke-width="2.8"/>
<line x1="675.3" y1="1759.1" x2="686.3" y2="1759.1" stroke="#111" stroke-width="3"/>
<line x1="675.3" y1="1797.9" x2="686.3" y2="1797.9" stroke="#111" stroke-width="3"/>
<line x1="675.3" y1="1836.8" x2="686.3" y2="1836.8" stroke="#111" stroke-width="3"/>
<line x1="675.3" y1="1875.6" x2="686.3" y2="1875.6" stroke="#111" stroke-width="3"/>
<line x1="675.3" y1="1914.5" x2="686.3" y2="1914.5" stroke="#111" stroke-width="3"/>
<line x1="675.3" y1="1952.8" x2="686.3" y2="1952.8" stroke="#111" stroke-width="3"/>
<line x1="675.3" y1="1991.6" x2="686.3" y2="1991.6" stroke="#111" stroke-width="3"/>
<line x1="675.3" y1="2030.2" x2="686.3" y2="2030.2" stroke="#111" stroke-width="3"/>
<line x1="698.6" y1="2040.8" x2="698.6" y2="2052.3" stroke="#111" stroke-width="3"/>
<line x1="772.2" y1="2040.8" x2="772.2" y2="2052.3" stroke="#111" stroke-width="3"/>
<line x1="845.7" y1="2040.8" x2="845.7" y2="2052.3" stroke="#111" stroke-width="3"/>
<line x1="919.2" y1="2040.8" x2="919.2" y2="2052.3" stroke="#111" stroke-width="3"/>
<line x1="992.8" y1="2040.8" x2="992.8" y2="2052.3" stroke="#111" stroke-width="3"/>
<text x="660.6" y="1810.4" font-size="31" text-anchor="end">2</text>
<text x="660.6" y="1930.3" font-size="31" text-anchor="end">1</text>
<text x="661.3" y="2045.8" font-size="31" text-anchor="end">0</text>
<text x="707.4" y="2085.2" font-size="31" text-anchor="end">-2</text>
<text x="777.3" y="2085.2" font-size="31" text-anchor="end">-1</text>
<text x="854.2" y="2085.2" font-size="31" text-anchor="end">0</text>
<text x="923.3" y="2085.2" font-size="31" text-anchor="end">1</text>
<text x="998.8" y="2085.2" font-size="31" text-anchor="end">2</text>
<text x="689.3" y="2139.5" font-size="36" textLength="298.5" lengthAdjust="spacingAndGlyphs">Dis tance to TSS</text>
<text x="849.8" y="2183.5" font-size="36" text-anchor="middle" textLength="70.0" lengthAdjust="spacingAndGlyphs">[kb]</text>
<text x="592.8" y="1954.8" font-size="36" textLength="102.8" lengthAdjust="spacingAndGlyphs" transform="rotate(-90 592.8 1954.8)">Signal</text>
<path d="M698.4,1992.2 L701.4,1991.9 L704.4,1991.6 L707.4,1991.3 L710.4,1990.9 L713.5,1990.5 L716.5,1990.0 L719.5,1989.5 L722.5,1989.0 L725.5,1988.4 L728.5,1987.8 L731.5,1987.2 L734.5,1986.6 L737.5,1985.9 L740.6,1985.2 L743.6,1984.5 L746.6,1983.8 L749.6,1983.0 L752.6,1982.3 L755.6,1981.5 L758.6,1980.7 L761.6,1979.9 L764.6,1979.0 L767.7,1978.2 L770.7,1977.4 L773.7,1976.5 L776.7,1975.5 L779.7,1974.5 L782.7,1973.3 L785.7,1972.1 L788.7,1970.8 L791.7,1969.4 L794.8,1968.1 L797.8,1966.7 L800.8,1965.4 L803.8,1964.1 L806.8,1962.9 L809.8,1961.7 L812.8,1960.6 L815.8,1959.5 L818.8,1958.4 L821.9,1957.2 L824.9,1956.0 L827.9,1954.8 L830.9,1953.7 L833.9,1952.7 L836.9,1951.8 L839.9,1951.2 L842.9,1950.8 L845.9,1950.6 L849.0,1950.7 L852.0,1951.0 L855.0,1951.5 L858.0,1952.2 L861.0,1953.0 L864.0,1953.8 L867.0,1954.8 L870.0,1955.8 L873.0,1956.9 L876.0,1958.0 L879.1,1959.0 L882.1,1960.0 L885.1,1961.0 L888.1,1962.0 L891.1,1963.2 L894.1,1964.4 L897.1,1965.6 L900.1,1966.9 L903.1,1968.1 L906.2,1969.4 L909.2,1970.6 L912.2,1971.8 L915.2,1972.9 L918.2,1973.9 L921.2,1974.9 L924.2,1975.9 L927.2,1976.9 L930.2,1977.9 L933.3,1978.9 L936.3,1979.8 L939.3,1980.8 L942.3,1981.7 L945.3,1982.6 L948.3,1983.4 L951.3,1984.1 L954.3,1984.8 L957.3,1985.4 L960.4,1986.0 L963.4,1986.4 L966.4,1986.7 L969.4,1987.0 L972.4,1987.2 L975.4,1987.5 L978.4,1987.7 L981.4,1987.9 L984.4,1988.1 L987.5,1988.3 L990.5,1988.4 L993.5,1988.5 L996.5,1988.6 L999.5,1988.6" fill="none" stroke="#7b8fc8" stroke-width="7.2" stroke-linecap="butt" stroke-linejoin="round"/>
<path d="M698.5,2026.3 L701.5,2026.3 L704.5,2026.2 L707.6,2026.2 L710.6,2026.1 L713.6,2026.1 L716.6,2026.0 L719.6,2025.9 L722.6,2025.9 L725.7,2025.8 L728.7,2025.7 L731.7,2025.7 L734.7,2025.6 L737.7,2025.5 L740.7,2025.4 L743.8,2025.3 L746.8,2025.2 L749.8,2025.1 L752.8,2025.0 L755.8,2024.9 L758.9,2024.8 L761.9,2024.7 L764.9,2024.6 L767.9,2024.4 L770.9,2024.3 L773.9,2024.2 L777.0,2024.1 L780.0,2023.9 L783.0,2023.8 L786.0,2023.7 L789.0,2023.6 L792.0,2023.5 L795.1,2023.3 L798.1,2023.2 L801.1,2023.1 L804.1,2023.0 L807.1,2022.9 L810.2,2022.8 L813.2,2022.7 L816.2,2022.6 L819.2,2022.5 L822.2,2022.5 L825.2,2022.4 L828.3,2022.4 L831.3,2022.3 L834.3,2022.3 L837.3,2022.2 L840.3,2022.2 L843.3,2022.2 L846.4,2022.2 L849.4,2022.2 L852.4,2022.2 L855.4,2022.2 L858.4,2022.3 L861.5,2022.3 L864.5,2022.4 L867.5,2022.4 L870.5,2022.5 L873.5,2022.6 L876.5,2022.7 L879.6,2022.7 L882.6,2022.8 L885.6,2022.9 L888.6,2023.0 L891.6,2023.2 L894.6,2023.3 L897.7,2023.4 L900.7,2023.5 L903.7,2023.6 L906.7,2023.7 L909.7,2023.9 L912.7,2024.0 L915.8,2024.1 L918.8,2024.2 L921.8,2024.4 L924.8,2024.5 L927.8,2024.6 L930.9,2024.7 L933.9,2024.8 L936.9,2024.9 L939.9,2025.0 L942.9,2025.2 L945.9,2025.3 L949.0,2025.4 L952.0,2025.4 L955.0,2025.5 L958.0,2025.6 L961.0,2025.7 L964.0,2025.8 L967.1,2025.8 L970.1,2025.9 L973.1,2026.0 L976.1,2026.0 L979.1,2026.1 L982.2,2026.1 L985.2,2026.2 L988.2,2026.2 L991.2,2026.3 L994.2,2026.3 L997.2,2026.4 L1000.3,2026.4" fill="none" stroke="#45aa4c" stroke-width="7.2" stroke-linecap="butt" stroke-linejoin="round"/>
<path d="M698.5,2033.3 L701.5,2033.3 L704.5,2033.2 L707.6,2033.2 L710.6,2033.2 L713.6,2033.1 L716.6,2033.1 L719.6,2033.0 L722.6,2033.0 L725.7,2032.9 L728.7,2032.9 L731.7,2032.8 L734.7,2032.8 L737.7,2032.7 L740.7,2032.6 L743.8,2032.6 L746.8,2032.5 L749.8,2032.4 L752.8,2032.3 L755.8,2032.2 L758.9,2032.2 L761.9,2032.1 L764.9,2032.0 L767.9,2031.9 L770.9,2031.8 L773.9,2031.7 L777.0,2031.6 L780.0,2031.5 L783.0,2031.4 L786.0,2031.3 L789.0,2031.2 L792.0,2031.1 L795.1,2031.1 L798.1,2031.0 L801.1,2030.9 L804.1,2030.8 L807.1,2030.7 L810.2,2030.7 L813.2,2030.6 L816.2,2030.5 L819.2,2030.5 L822.2,2030.4 L825.2,2030.4 L828.3,2030.3 L831.3,2030.3 L834.3,2030.2 L837.3,2030.2 L840.3,2030.2 L843.3,2030.2 L846.4,2030.2 L849.4,2030.2 L852.4,2030.2 L855.4,2030.2 L858.4,2030.3 L861.5,2030.3 L864.5,2030.3 L867.5,2030.4 L870.5,2030.4 L873.5,2030.5 L876.5,2030.5 L879.6,2030.6 L882.6,2030.7 L885.6,2030.8 L888.6,2030.8 L891.6,2030.9 L894.6,2031.0 L897.7,2031.1 L900.7,2031.2 L903.7,2031.3 L906.7,2031.4 L909.7,2031.5 L912.7,2031.6 L915.8,2031.7 L918.8,2031.7 L921.8,2031.8 L924.8,2031.9 L927.8,2032.0 L930.9,2032.1 L933.9,2032.2 L936.9,2032.3 L939.9,2032.4 L942.9,2032.4 L945.9,2032.5 L949.0,2032.6 L952.0,2032.7 L955.0,2032.7 L958.0,2032.8 L961.0,2032.8 L964.0,2032.9 L967.1,2033.0 L970.1,2033.0 L973.1,2033.1 L976.1,2033.1 L979.1,2033.1 L982.2,2033.2 L985.2,2033.2 L988.2,2033.3 L991.2,2033.3 L994.2,2033.3 L997.2,2033.3 L1000.3,2033.4" fill="none" stroke="#c1302b" stroke-width="7.2" stroke-linecap="butt" stroke-linejoin="round"/>
<rect x="696.5" y="1766.0" width="21.9" height="21.3" fill="#c1302b"/>
<text x="741.0" y="1787.0" font-size="27.5" textLength="35.5" lengthAdjust="spacingAndGlyphs">0h</text>
<rect x="696.5" y="1802.7" width="21.9" height="21.3" fill="#45aa4c"/>
<text x="741.0" y="1823.7" font-size="27.5" textLength="62.5" lengthAdjust="spacingAndGlyphs">15m</text>
<rect x="696.5" y="1836.3" width="21.9" height="21.3" fill="#7b8fc8"/>
<text x="741.0" y="1857.3" font-size="27.5" textLength="62.5" lengthAdjust="spacingAndGlyphs">30m</text>
<text x="29.0" y="2259.4" font-size="42">j</text>
<text x="272.0" y="2270.5" font-size="40.7" textLength="191.5" lengthAdjust="spacingAndGlyphs">Promoters</text>
<text x="704.5" y="2270.5" font-size="40.7" textLength="190.0" lengthAdjust="spacingAndGlyphs">Enhancers</text>
<rect x="205.4" y="2316.3" width="754.3" height="292.6" fill="none" stroke="#111" stroke-width="2.4"/>
<line x1="192.6" y1="2366.6" x2="204.3" y2="2366.6" stroke="#111" stroke-width="2.6"/>
<line x1="192.6" y1="2485.3" x2="204.3" y2="2485.3" stroke="#111" stroke-width="2.6"/>
<line x1="192.6" y1="2597.3" x2="204.3" y2="2597.3" stroke="#111" stroke-width="2.6"/>
<text x="184.5" y="2374.6" font-size="29.5" text-anchor="end" textLength="48.0" lengthAdjust="spacingAndGlyphs">100</text>
<text x="184.5" y="2495.0" font-size="29.5" text-anchor="end" textLength="30.5" lengthAdjust="spacingAndGlyphs">10</text>
<text x="183.0" y="2607.0" font-size="29.5" text-anchor="end">1</text>
<text x="116.5" y="2560.0" font-size="36" textLength="176.5" lengthAdjust="spacingAndGlyphs" transform="rotate(-90 116.5 2560.0)">Log Signal</text>
<text x="239.0" y="2686.0" font-size="36" textLength="43.0" lengthAdjust="spacingAndGlyphs">0h</text>
<text x="333.0" y="2686.0" font-size="36" textLength="74.0" lengthAdjust="spacingAndGlyphs">15m</text>
<text x="442.0" y="2686.0" font-size="36" textLength="76.6" lengthAdjust="spacingAndGlyphs">30m</text>
<text x="677.4" y="2686.0" font-size="36" textLength="41.4" lengthAdjust="spacingAndGlyphs">0h</text>
<text x="765.6" y="2686.0" font-size="36" textLength="72.2" lengthAdjust="spacingAndGlyphs">15m</text>
<text x="874.0" y="2686.0" font-size="36" textLength="75.4" lengthAdjust="spacingAndGlyphs">30m</text>
<path d="M269.8,2414.4 C270.0,2418.7 270.8,2432.0 271.0,2440.0 C271.2,2448.0 271.1,2456.3 271.3,2462.5 C271.5,2468.7 271.9,2473.0 272.3,2477.0 C272.7,2481.0 273.1,2483.3 273.8,2486.5 C274.6,2489.7 275.7,2492.8 276.8,2496.0 C277.9,2499.2 279.2,2502.6 280.3,2505.8 C281.4,2509.0 282.4,2512.9 283.3,2515.4 C284.2,2517.9 284.7,2519.4 285.8,2521.0 C286.9,2522.6 289.0,2523.8 289.8,2525.0 C290.6,2526.2 291.3,2526.9 290.8,2528.0 C290.3,2529.1 287.9,2530.6 286.8,2531.7 C285.7,2532.8 284.0,2533.5 284.3,2534.6 C284.6,2535.7 286.7,2537.2 288.8,2538.5 C290.9,2539.8 295.1,2541.4 296.8,2542.3 C298.6,2543.2 299.8,2543.4 299.3,2544.2 C298.8,2545.0 297.4,2545.9 293.8,2547.0 C290.2,2548.1 280.0,2549.4 277.8,2550.5 C275.6,2551.6 277.8,2552.6 280.8,2553.8 C283.8,2555.0 291.3,2556.4 295.8,2557.7 C300.3,2559.0 305.3,2560.5 307.8,2561.5 C310.3,2562.5 311.3,2562.7 310.8,2563.5 C310.3,2564.3 308.0,2565.4 304.8,2566.3 C301.6,2567.2 296.6,2568.1 291.8,2569.2 C287.0,2570.3 279.2,2571.5 275.8,2573.0 C272.4,2574.5 271.8,2576.4 271.3,2578.0 C270.8,2579.6 270.6,2581.1 272.8,2582.7 C275.1,2584.3 279.8,2585.9 284.8,2587.5 C289.8,2589.1 297.8,2590.9 302.8,2592.3 C307.8,2593.7 312.8,2595.1 314.8,2596.0 C316.8,2596.9 314.8,2597.3 314.8,2597.6 L224.8,2597.6 C224.8,2597.3 222.8,2596.9 224.8,2596.0 C226.8,2595.1 231.8,2593.7 236.8,2592.3 C241.8,2590.9 249.8,2589.1 254.8,2587.5 C259.8,2585.9 264.6,2584.3 266.8,2582.7 C269.1,2581.1 268.8,2579.6 268.3,2578.0 C267.8,2576.4 267.2,2574.5 263.8,2573.0 C260.4,2571.5 252.6,2570.3 247.8,2569.2 C243.0,2568.1 238.0,2567.2 234.8,2566.3 C231.6,2565.4 229.3,2564.3 228.8,2563.5 C228.3,2562.7 229.3,2562.5 231.8,2561.5 C234.3,2560.5 239.3,2559.0 243.8,2557.7 C248.3,2556.4 255.8,2555.0 258.8,2553.8 C261.8,2552.6 264.0,2551.6 261.8,2550.5 C259.6,2549.4 249.4,2548.1 245.8,2547.0 C242.2,2545.9 240.8,2545.0 240.3,2544.2 C239.8,2543.4 241.1,2543.2 242.8,2542.3 C244.6,2541.4 248.7,2539.8 250.8,2538.5 C252.9,2537.2 255.0,2535.7 255.3,2534.6 C255.6,2533.5 253.9,2532.8 252.8,2531.7 C251.7,2530.6 249.3,2529.1 248.8,2528.0 C248.3,2526.9 249.0,2526.2 249.8,2525.0 C250.6,2523.8 252.7,2522.6 253.8,2521.0 C254.9,2519.4 255.4,2517.9 256.3,2515.4 C257.2,2512.9 258.2,2509.0 259.3,2505.8 C260.4,2502.6 261.7,2499.2 262.8,2496.0 C263.9,2492.8 265.1,2489.7 265.8,2486.5 C266.6,2483.3 266.9,2481.0 267.3,2477.0 C267.7,2473.0 268.1,2468.7 268.3,2462.5 C268.5,2456.3 268.4,2448.0 268.6,2440.0 C268.8,2432.0 269.6,2418.7 269.8,2414.4 Z" fill="none" stroke="#c1302b" stroke-width="3.6" stroke-linejoin="round"/>
<line x1="251.8" y1="2527.4" x2="287.8" y2="2527.4" stroke="#c1302b" stroke-width="3.6"/>
<line x1="246.8" y1="2546.5" x2="292.8" y2="2546.5" stroke="#c1302b" stroke-width="3.6"/>
<line x1="232.8" y1="2565.5" x2="306.8" y2="2565.5" stroke="#c1302b" stroke-width="3.6"/>
<path d="M374.9,2399.0 C375.2,2405.8 376.1,2428.1 376.4,2440.0 C376.7,2451.9 376.6,2463.8 376.9,2470.6 C377.1,2477.4 377.3,2477.3 377.9,2480.7 C378.5,2484.0 379.2,2487.3 380.4,2490.7 C381.6,2494.0 383.6,2497.8 384.9,2500.8 C386.1,2503.8 387.1,2506.9 387.9,2508.9 C388.7,2510.9 388.9,2511.8 389.9,2513.0 C390.9,2514.2 393.9,2514.8 393.9,2516.0 C393.9,2517.2 390.4,2518.8 389.9,2520.0 C389.4,2521.2 388.6,2521.7 390.9,2523.0 C393.2,2524.3 405.1,2526.2 403.9,2528.0 C402.7,2529.8 385.1,2532.2 383.9,2534.0 C382.7,2535.8 391.7,2537.0 396.9,2538.5 C402.1,2540.0 414.9,2541.6 414.9,2543.0 C414.9,2544.4 403.2,2545.6 396.9,2547.0 C390.6,2548.4 376.9,2549.9 376.9,2551.2 C376.9,2552.5 389.2,2553.0 396.9,2555.0 C404.6,2557.0 422.9,2561.2 422.9,2563.3 C422.9,2565.4 404.6,2566.2 396.9,2567.5 C389.2,2568.8 380.1,2569.0 376.9,2571.3 C373.6,2573.6 374.4,2578.4 377.4,2581.4 C380.4,2584.4 387.3,2586.8 394.9,2589.5 C402.5,2592.2 418.2,2596.2 422.9,2597.5 C427.6,2598.8 422.9,2597.6 422.9,2597.6 L326.9,2597.6 C326.9,2597.6 322.2,2598.8 326.9,2597.5 C331.6,2596.2 347.3,2592.2 354.9,2589.5 C362.5,2586.8 369.4,2584.4 372.4,2581.4 C375.4,2578.4 376.1,2573.6 372.9,2571.3 C369.6,2569.0 360.6,2568.8 352.9,2567.5 C345.2,2566.2 326.9,2565.4 326.9,2563.3 C326.9,2561.2 345.2,2557.0 352.9,2555.0 C360.6,2553.0 372.9,2552.5 372.9,2551.2 C372.9,2549.9 359.2,2548.4 352.9,2547.0 C346.6,2545.6 334.9,2544.4 334.9,2543.0 C334.9,2541.6 347.7,2540.0 352.9,2538.5 C358.1,2537.0 367.1,2535.8 365.9,2534.0 C364.7,2532.2 347.1,2529.8 345.9,2528.0 C344.7,2526.2 356.6,2524.3 358.9,2523.0 C361.2,2521.7 360.4,2521.2 359.9,2520.0 C359.4,2518.8 355.9,2517.2 355.9,2516.0 C355.9,2514.8 358.9,2514.2 359.9,2513.0 C360.9,2511.8 361.1,2510.9 361.9,2508.9 C362.7,2506.9 363.6,2503.8 364.9,2500.8 C366.1,2497.8 368.2,2494.0 369.4,2490.7 C370.6,2487.3 371.3,2484.0 371.9,2480.7 C372.5,2477.3 372.6,2477.4 372.9,2470.6 C373.1,2463.8 373.1,2451.9 373.4,2440.0 C373.7,2428.1 374.6,2405.8 374.9,2399.0 Z" fill="none" stroke="#45aa4c" stroke-width="3.6" stroke-linejoin="round"/>
<line x1="358.4" y1="2523.0" x2="391.4" y2="2523.0" stroke="#45aa4c" stroke-width="3.6"/>
<line x1="336.9" y1="2543.0" x2="412.9" y2="2543.0" stroke="#45aa4c" stroke-width="3.6"/>
<line x1="329.9" y1="2563.3" x2="419.9" y2="2563.3" stroke="#45aa4c" stroke-width="3.6"/>
<path d="M480.0,2345.3 C480.2,2352.8 480.8,2377.6 481.0,2390.0 C481.2,2402.4 480.3,2411.7 481.5,2420.0 C482.7,2428.3 485.9,2433.3 488.0,2440.0 C490.1,2446.7 492.2,2454.2 494.0,2460.0 C495.8,2465.8 497.8,2470.5 499.0,2475.0 C500.2,2479.5 500.9,2482.8 501.0,2487.0 C501.1,2491.2 500.4,2495.3 499.5,2500.0 C498.6,2504.7 496.5,2511.2 495.5,2515.0 C494.5,2518.8 494.6,2520.5 493.5,2523.0 C492.4,2525.5 490.2,2527.2 489.0,2530.0 C487.8,2532.8 486.2,2536.7 486.0,2540.0 C485.8,2543.3 487.8,2547.0 487.5,2550.0 C487.2,2553.0 484.2,2555.5 484.0,2558.0 C483.8,2560.5 486.2,2562.2 486.0,2565.0 C485.8,2567.8 483.7,2572.2 483.0,2575.0 C482.3,2577.8 481.5,2579.5 482.0,2582.0 C482.5,2584.5 485.0,2587.4 486.0,2590.0 C487.0,2592.6 487.7,2596.1 488.0,2597.3 C488.3,2598.5 488.0,2597.4 488.0,2597.4 L472.0,2597.4 C472.0,2597.4 471.7,2598.5 472.0,2597.3 C472.3,2596.1 473.0,2592.6 474.0,2590.0 C475.0,2587.4 477.5,2584.5 478.0,2582.0 C478.5,2579.5 477.7,2577.8 477.0,2575.0 C476.3,2572.2 474.2,2567.8 474.0,2565.0 C473.8,2562.2 476.2,2560.5 476.0,2558.0 C475.8,2555.5 472.8,2553.0 472.5,2550.0 C472.2,2547.0 474.2,2543.3 474.0,2540.0 C473.8,2536.7 472.2,2532.8 471.0,2530.0 C469.8,2527.2 467.6,2525.5 466.5,2523.0 C465.4,2520.5 465.5,2518.8 464.5,2515.0 C463.5,2511.2 461.4,2504.7 460.5,2500.0 C459.6,2495.3 458.9,2491.2 459.0,2487.0 C459.1,2482.8 459.8,2479.5 461.0,2475.0 C462.2,2470.5 464.2,2465.8 466.0,2460.0 C467.8,2454.2 469.9,2446.7 472.0,2440.0 C474.1,2433.3 477.3,2428.3 478.5,2420.0 C479.7,2411.7 478.8,2402.4 479.0,2390.0 C479.2,2377.6 479.8,2352.8 480.0,2345.3 Z" fill="none" stroke="#7b8fc8" stroke-width="3.6" stroke-linejoin="round"/>
<line x1="462.0" y1="2473.0" x2="498.0" y2="2473.0" stroke="#7b8fc8" stroke-width="3.6"/>
<line x1="460.0" y1="2496.5" x2="500.0" y2="2496.5" stroke="#7b8fc8" stroke-width="3.6"/>
<line x1="466.5" y1="2523.0" x2="493.5" y2="2523.0" stroke="#7b8fc8" stroke-width="3.6"/>
<path d="M700.1,2420.7 C700.3,2425.6 701.1,2441.7 701.3,2450.0 C701.5,2458.3 701.0,2465.4 701.6,2470.6 C702.2,2475.8 703.9,2476.1 704.8,2481.0 C705.7,2485.9 706.4,2493.5 707.1,2500.0 C707.8,2506.5 708.6,2515.4 709.1,2520.0 C709.6,2524.6 709.1,2524.8 710.1,2527.6 C711.1,2530.3 715.7,2533.3 715.1,2536.5 C714.5,2539.7 704.9,2543.3 706.5,2547.0 C708.1,2550.7 723.2,2555.6 724.5,2558.8 C725.8,2562.0 717.9,2563.3 714.1,2566.0 C710.3,2568.7 703.5,2571.5 701.8,2574.7 C700.1,2577.9 701.4,2582.4 704.1,2585.0 C706.8,2587.6 710.6,2587.9 718.1,2590.0 C725.6,2592.1 743.9,2596.2 749.0,2597.5 C754.1,2598.8 749.0,2597.6 749.0,2597.6 L651.2,2597.6 C651.2,2597.6 646.1,2598.8 651.2,2597.5 C656.4,2596.2 674.6,2592.1 682.1,2590.0 C689.6,2587.9 693.4,2587.6 696.1,2585.0 C698.8,2582.4 700.1,2577.9 698.4,2574.7 C696.7,2571.5 689.9,2568.7 686.1,2566.0 C682.3,2563.3 674.4,2562.0 675.7,2558.8 C677.0,2555.6 692.1,2550.7 693.7,2547.0 C695.3,2543.3 685.7,2539.7 685.1,2536.5 C684.5,2533.3 689.1,2530.3 690.1,2527.6 C691.1,2524.8 690.6,2524.6 691.1,2520.0 C691.6,2515.4 692.4,2506.5 693.1,2500.0 C693.8,2493.5 694.5,2485.9 695.4,2481.0 C696.3,2476.1 698.0,2475.8 698.6,2470.6 C699.2,2465.4 698.7,2458.3 698.9,2450.0 C699.1,2441.7 699.9,2425.6 700.1,2420.7 Z" fill="none" stroke="#c1302b" stroke-width="3.6" stroke-linejoin="round"/>
<line x1="690.5" y1="2527.6" x2="709.7" y2="2527.6" stroke="#c1302b" stroke-width="3.6"/>
<line x1="678.1" y1="2556.0" x2="722.1" y2="2556.0" stroke="#c1302b" stroke-width="3.6"/>
<line x1="686.1" y1="2589.0" x2="714.1" y2="2589.0" stroke="#c1302b" stroke-width="3.6"/>
<path d="M804.9,2384.6 C805.1,2390.5 805.9,2406.8 806.1,2420.0 C806.3,2433.2 805.8,2452.3 806.4,2464.0 C807.0,2475.7 808.8,2482.3 809.9,2490.0 C811.0,2497.7 812.1,2505.1 812.9,2510.0 C813.7,2514.9 813.2,2515.1 814.5,2519.5 C815.8,2523.9 821.6,2531.8 820.9,2536.5 C820.2,2541.2 808.6,2544.3 810.2,2548.0 C811.8,2551.7 829.3,2555.8 830.4,2558.8 C831.5,2561.8 820.9,2563.7 816.9,2566.0 C812.9,2568.3 807.6,2569.4 806.6,2572.6 C805.6,2575.8 804.5,2580.8 810.9,2585.0 C817.3,2589.2 839.6,2595.4 845.3,2597.5 C851.0,2599.6 845.3,2597.6 845.3,2597.6 L764.5,2597.6 C764.5,2597.6 758.8,2599.6 764.5,2597.5 C770.2,2595.4 792.5,2589.2 798.9,2585.0 C805.3,2580.8 804.2,2575.8 803.2,2572.6 C802.2,2569.4 796.9,2568.3 792.9,2566.0 C788.9,2563.7 778.3,2561.8 779.4,2558.8 C780.5,2555.8 798.0,2551.7 799.6,2548.0 C801.2,2544.3 789.6,2541.2 788.9,2536.5 C788.2,2531.8 794.0,2523.9 795.3,2519.5 C796.6,2515.1 796.1,2514.9 796.9,2510.0 C797.7,2505.1 798.8,2497.7 799.9,2490.0 C801.0,2482.3 802.8,2475.7 803.4,2464.0 C804.0,2452.3 803.5,2433.2 803.7,2420.0 C803.9,2406.8 804.7,2390.5 804.9,2384.6 Z" fill="none" stroke="#45aa4c" stroke-width="3.6" stroke-linejoin="round"/>
<line x1="795.3" y1="2519.5" x2="814.5" y2="2519.5" stroke="#45aa4c" stroke-width="3.6"/>
<line x1="799.4" y1="2548.8" x2="810.4" y2="2548.8" stroke="#45aa4c" stroke-width="3.6"/>
<line x1="801.9" y1="2570.5" x2="807.9" y2="2570.5" stroke="#45aa4c" stroke-width="3.6"/>
<path d="M910.5,2346.3 C910.7,2354.6 910.7,2382.1 911.5,2396.0 C912.3,2409.9 914.2,2419.3 915.5,2430.0 C916.8,2440.7 918.2,2447.9 919.0,2460.0 C919.8,2472.1 919.9,2490.1 920.1,2502.5 C920.3,2514.9 920.4,2527.3 920.1,2534.4 C919.8,2541.5 918.0,2540.9 918.5,2545.0 C919.0,2549.1 923.6,2555.0 923.3,2558.8 C923.0,2562.6 918.5,2564.8 916.5,2568.0 C914.5,2571.2 910.8,2574.3 911.5,2578.0 C912.2,2581.7 917.3,2586.8 920.5,2590.0 C923.7,2593.2 929.0,2596.2 930.7,2597.5 C932.4,2598.8 930.7,2597.6 930.7,2597.6 L890.3,2597.6 C890.3,2597.6 888.6,2598.8 890.3,2597.5 C892.0,2596.2 897.3,2593.2 900.5,2590.0 C903.7,2586.8 908.8,2581.7 909.5,2578.0 C910.2,2574.3 906.5,2571.2 904.5,2568.0 C902.5,2564.8 898.0,2562.6 897.7,2558.8 C897.4,2555.0 902.0,2549.1 902.5,2545.0 C903.0,2540.9 901.2,2541.5 900.9,2534.4 C900.6,2527.3 900.7,2514.9 900.9,2502.5 C901.1,2490.1 901.2,2472.1 902.0,2460.0 C902.8,2447.9 904.2,2440.7 905.5,2430.0 C906.8,2419.3 908.7,2409.9 909.5,2396.0 C910.3,2382.1 910.3,2354.6 910.5,2346.3 Z" fill="none" stroke="#7b8fc8" stroke-width="3.6" stroke-linejoin="round"/>
<line x1="901.5" y1="2479.8" x2="919.5" y2="2479.8" stroke="#7b8fc8" stroke-width="3.6"/>
<line x1="900.9" y1="2519.5" x2="920.1" y2="2519.5" stroke="#7b8fc8" stroke-width="3.6"/>
<line x1="898.5" y1="2557.7" x2="922.5" y2="2557.7" stroke="#7b8fc8" stroke-width="3.6"/></svg></body></html>
